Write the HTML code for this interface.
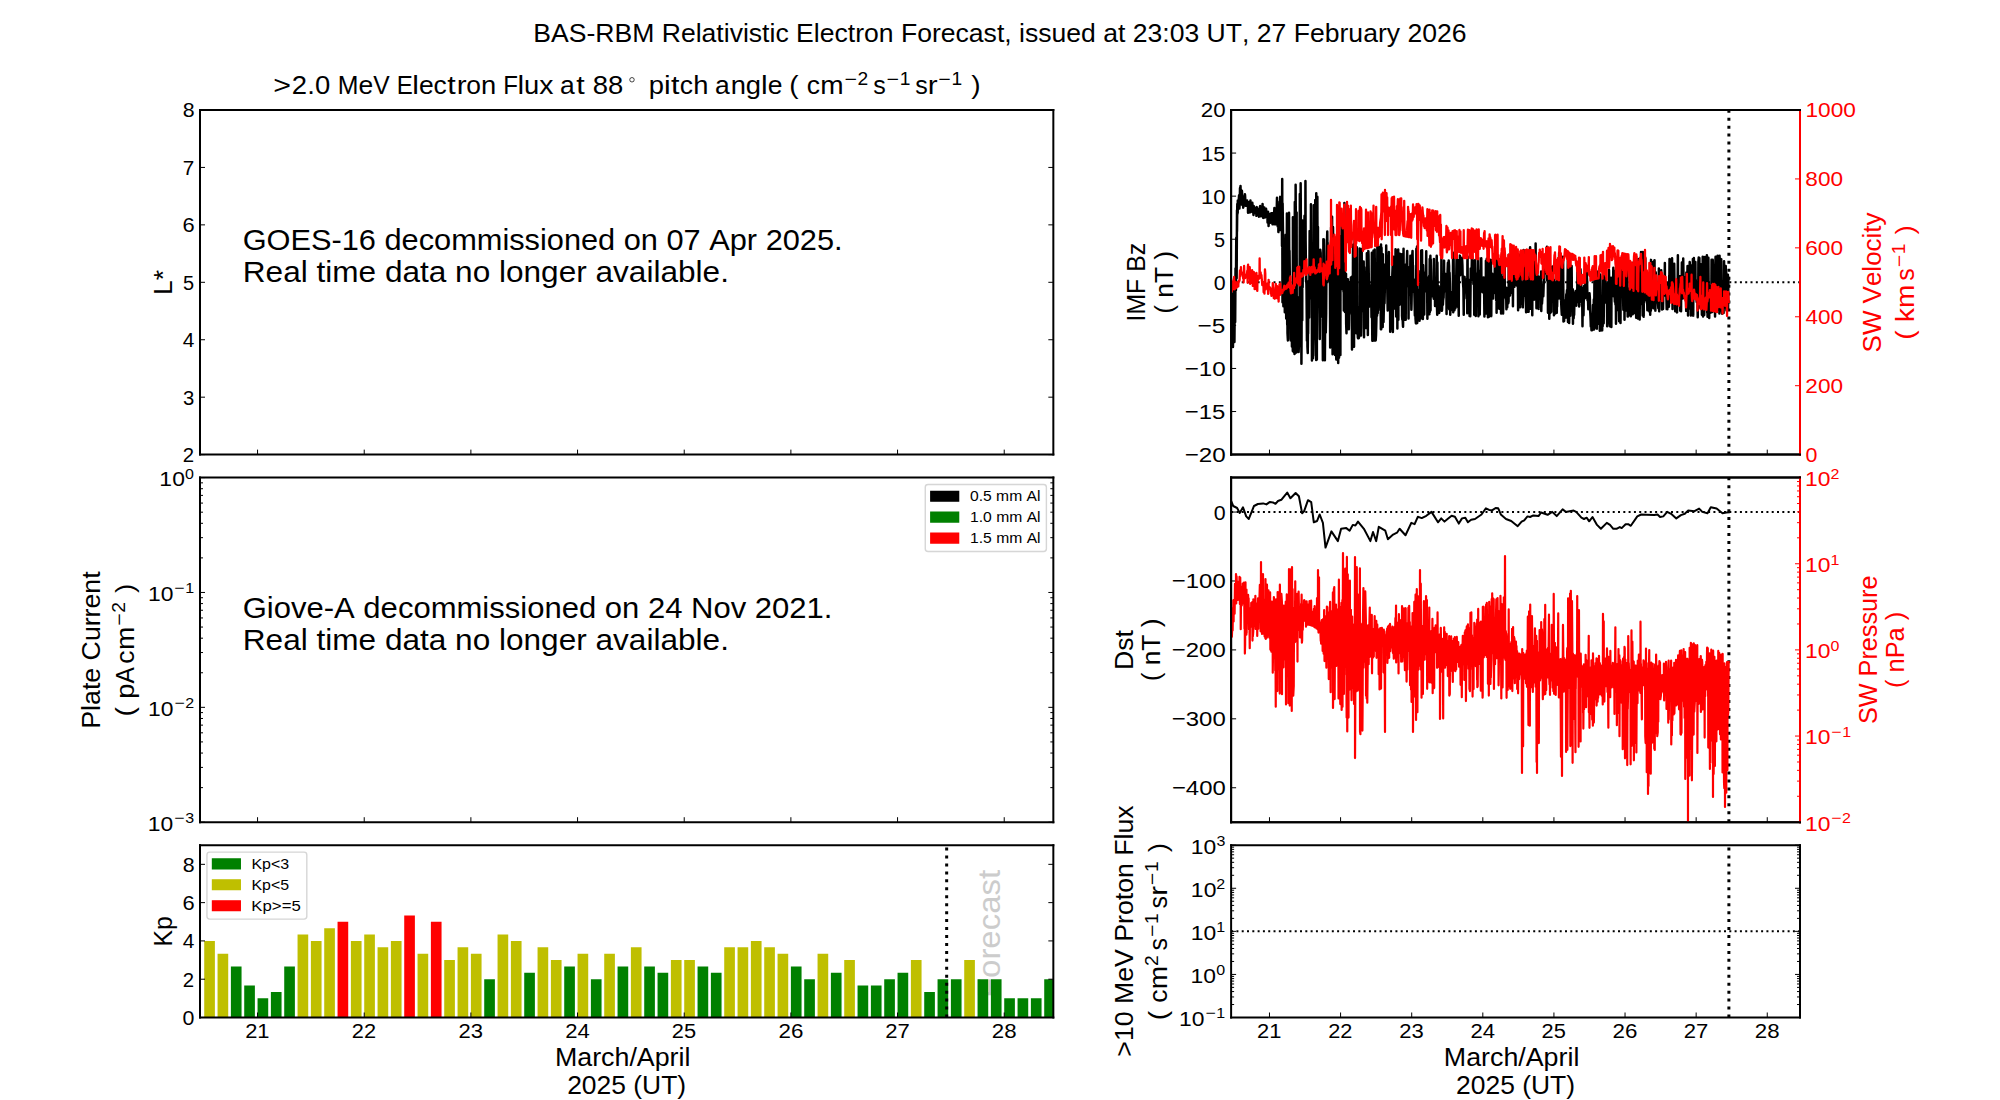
<!DOCTYPE html>
<html><head><meta charset="utf-8"><title>BAS-RBM Relativistic Electron Forecast</title>
<style>html,body{margin:0;padding:0;background:#fff;overflow:hidden}svg{display:block}
text{font-family:"Liberation Sans",sans-serif;font-kerning:none;font-variant-ligatures:none;letter-spacing:0;white-space:pre}</style>
</head><body>
<svg width="2000" height="1100" viewBox="0 0 1440 792" version="1.1">
<defs>
<style type="text/css">*{stroke-linejoin: round; stroke-linecap: butt}</style>
</defs>
<g id="figure_1">
<g id="patch_1">
<path d="M 0 792 L1440 792 L1440 0 L0 0 z" style="fill: #ffffff"/>
</g>
<g id="axes_1">
<g id="patch_2">
<path d="M 144 327.32 L758.4 327.32 L758.4 79.2 L144 79.2 z" style="fill: #ffffff"/>
</g>
<g id="matplotlib.axis_1">
<g id="xtick_1">
<g id="line2d_1">
<defs>
<path id="m9c9ca732cf" d="M 0 0 L0 -3.6 
" style="stroke: #000000; stroke-width: 0.72"/>
</defs>
<g>
<use href="#m9c9ca732cf" x="185.441" y="327.326" style="stroke: #000000; stroke-width: 0.72"/>
</g>
</g>
</g>
<g id="xtick_2">
<g id="line2d_2">
<g>
<use href="#m9c9ca732cf" x="262.241" y="327.326" style="stroke: #000000; stroke-width: 0.72"/>
</g>
</g>
</g>
<g id="xtick_3">
<g id="line2d_3">
<g>
<use href="#m9c9ca732cf" x="339.041" y="327.326" style="stroke: #000000; stroke-width: 0.72"/>
</g>
</g>
</g>
<g id="xtick_4">
<g id="line2d_4">
<g>
<use href="#m9c9ca732cf" x="415.841" y="327.326" style="stroke: #000000; stroke-width: 0.72"/>
</g>
</g>
</g>
<g id="xtick_5">
<g id="line2d_5">
<g>
<use href="#m9c9ca732cf" x="492.641" y="327.326" style="stroke: #000000; stroke-width: 0.72"/>
</g>
</g>
</g>
<g id="xtick_6">
<g id="line2d_6">
<g>
<use href="#m9c9ca732cf" x="569.441" y="327.326" style="stroke: #000000; stroke-width: 0.72"/>
</g>
</g>
</g>
<g id="xtick_7">
<g id="line2d_7">
<g>
<use href="#m9c9ca732cf" x="646.241" y="327.326" style="stroke: #000000; stroke-width: 0.72"/>
</g>
</g>
</g>
<g id="xtick_8">
<g id="line2d_8">
<g>
<use href="#m9c9ca732cf" x="723.041" y="327.326" style="stroke: #000000; stroke-width: 0.72"/>
</g>
</g>
</g>
</g>
<g id="matplotlib.axis_2">
<g id="ytick_1">
<g id="line2d_9">
<defs>
<path id="mde43f6efa1" d="M 0 0 L3.6 0 
" style="stroke: #000000; stroke-width: 0.72"/>
</defs>
<g>
<use href="#mde43f6efa1" x="144" y="327.326" style="stroke: #000000; stroke-width: 0.72"/>
</g>
</g>
<g id="line2d_10">
<defs>
<path id="m3049f5aebb" d="M 0 0 L-3.6 0 
" style="stroke: #000000; stroke-width: 0.72"/>
</defs>
<g>
<use href="#m3049f5aebb" x="758.4" y="327.326" style="stroke: #000000; stroke-width: 0.72"/>
</g>
</g>
<g id="text_1">
<text x="131.536" y="332.726" style="font-size: 15.192px" textLength="8.160" lengthAdjust="spacingAndGlyphs">2</text>
</g>
</g>
<g id="ytick_2">
<g id="line2d_11">
<g>
<use href="#mde43f6efa1" x="144" y="285.972" style="stroke: #000000; stroke-width: 0.72"/>
</g>
</g>
<g id="line2d_12">
<g>
<use href="#m3049f5aebb" x="758.4" y="285.972" style="stroke: #000000; stroke-width: 0.72"/>
</g>
</g>
<g id="text_2">
<text x="131.760" y="291.372" style="font-size: 15.192px" textLength="8.129" lengthAdjust="spacingAndGlyphs">3</text>
</g>
</g>
<g id="ytick_3">
<g id="line2d_13">
<g>
<use href="#mde43f6efa1" x="144" y="244.617" style="stroke: #000000; stroke-width: 0.72"/>
</g>
</g>
<g id="line2d_14">
<g>
<use href="#m3049f5aebb" x="758.4" y="244.617" style="stroke: #000000; stroke-width: 0.72"/>
</g>
</g>
<g id="text_3">
<text x="131.667" y="250.017" style="font-size: 15.192px" textLength="8.364" lengthAdjust="spacingAndGlyphs">4</text>
</g>
</g>
<g id="ytick_4">
<g id="line2d_15">
<g>
<use href="#mde43f6efa1" x="144" y="203.263" style="stroke: #000000; stroke-width: 0.72"/>
</g>
</g>
<g id="line2d_16">
<g>
<use href="#m3049f5aebb" x="758.4" y="203.263" style="stroke: #000000; stroke-width: 0.72"/>
</g>
</g>
<g id="text_4">
<text x="131.755" y="208.663" style="font-size: 15.192px" textLength="7.989" lengthAdjust="spacingAndGlyphs">5</text>
</g>
</g>
<g id="ytick_5">
<g id="line2d_17">
<g>
<use href="#mde43f6efa1" x="144" y="161.908" style="stroke: #000000; stroke-width: 0.72"/>
</g>
</g>
<g id="line2d_18">
<g>
<use href="#m3049f5aebb" x="758.4" y="161.908" style="stroke: #000000; stroke-width: 0.72"/>
</g>
</g>
<g id="text_5">
<text x="131.425" y="167.308" style="font-size: 15.192px" textLength="8.759" lengthAdjust="spacingAndGlyphs">6</text>
</g>
</g>
<g id="ytick_6">
<g id="line2d_19">
<g>
<use href="#mde43f6efa1" x="144" y="120.554" style="stroke: #000000; stroke-width: 0.72"/>
</g>
</g>
<g id="line2d_20">
<g>
<use href="#m3049f5aebb" x="758.4" y="120.554" style="stroke: #000000; stroke-width: 0.72"/>
</g>
</g>
<g id="text_6">
<text x="131.637" y="125.954" style="font-size: 15.192px" textLength="8.280" lengthAdjust="spacingAndGlyphs">7</text>
</g>
</g>
<g id="ytick_7">
<g id="line2d_21">
<g>
<use href="#mde43f6efa1" x="144" y="79.2" style="stroke: #000000; stroke-width: 0.72"/>
</g>
</g>
<g id="line2d_22">
<g>
<use href="#m3049f5aebb" x="758.4" y="79.2" style="stroke: #000000; stroke-width: 0.72"/>
</g>
</g>
<g id="text_7">
<text x="131.528" y="84.6" style="font-size: 15.192px" textLength="8.555" lengthAdjust="spacingAndGlyphs">8</text>
</g>
</g>
<g id="text_8">
<text x="114.573" y="203.263" style="font-size: 18.230px" textLength="18.010" lengthAdjust="spacingAndGlyphs" transform="rotate(-90 123.62 203.263291)">L*</text>
</g>
</g>
<g id="patch_3">
<path d="M 144 327.32 L144 79.2 
" style="fill: none; stroke: #000000; stroke-width: 1.44; stroke-linejoin: miter; stroke-linecap: square"/>
</g>
<g id="patch_4">
<path d="M 758.4 327.32 L758.4 79.2 
" style="fill: none; stroke: #000000; stroke-width: 1.44; stroke-linejoin: miter; stroke-linecap: square"/>
</g>
<g id="patch_5">
<path d="M 144 327.32 L758.4 327.32 
" style="fill: none; stroke: #000000; stroke-width: 1.44; stroke-linejoin: miter; stroke-linecap: square"/>
</g>
<g id="patch_6">
<path d="M 144 79.2 L758.4 79.2 
" style="fill: none; stroke: #000000; stroke-width: 1.44; stroke-linejoin: miter; stroke-linecap: square"/>
</g>
<g id="text_9">
<text x="0.009" y="0" style="font-size: 21.100px" textLength="431.944" lengthAdjust="spacingAndGlyphs" transform="translate(174.72 179.935291)">GOES-16 decommissioned on 07 Apr 2025.</text>
<text x="0.098" y="0" style="font-size: 21.100px" textLength="350.009" lengthAdjust="spacingAndGlyphs" transform="translate(174.72 203.263291)">Real time data no longer available.</text>
</g>
<g id="text_10">
<g transform="translate(195.853941 68.4)">
<text x="0.846" y="-0.654" style="font-size:18.230px" textLength="12.776" lengthAdjust="spacingAndGlyphs">&gt;</text>
<text x="14.221" y="-0.654" style="font-size:18.230px" textLength="10.994" lengthAdjust="spacingAndGlyphs">2</text>
<text x="25.420" y="-0.654" style="font-size:18.230px" textLength="5.493" lengthAdjust="spacingAndGlyphs">.</text>
<text x="30.907" y="-0.654" style="font-size:18.230px" textLength="10.994" lengthAdjust="spacingAndGlyphs">0</text>
<text x="47.374" y="-0.654" style="font-size:18.230px" textLength="14.909" lengthAdjust="spacingAndGlyphs">M</text>
<text x="62.288" y="-0.654" style="font-size:18.230px" textLength="10.631" lengthAdjust="spacingAndGlyphs">e</text>
<text x="72.861" y="-0.654" style="font-size:18.230px" textLength="11.821" lengthAdjust="spacingAndGlyphs">V</text>
<text x="89.790" y="-0.654" style="font-size:18.230px" textLength="11.552" lengthAdjust="spacingAndGlyphs">E</text>
<text x="101.047" y="-0.654" style="font-size:18.230px" textLength="4.801" lengthAdjust="spacingAndGlyphs">l</text>
<text x="105.877" y="-0.654" style="font-size:18.230px" textLength="10.631" lengthAdjust="spacingAndGlyphs">e</text>
<text x="116.242" y="-0.654" style="font-size:18.230px" textLength="9.501" lengthAdjust="spacingAndGlyphs">c</text>
<text x="126.226" y="-0.654" style="font-size:18.230px" textLength="6.078" lengthAdjust="spacingAndGlyphs">t</text>
<text x="132.955" y="-0.654" style="font-size:18.230px" textLength="7.104" lengthAdjust="spacingAndGlyphs">r</text>
<text x="139.798" y="-0.654" style="font-size:18.230px" textLength="10.572" lengthAdjust="spacingAndGlyphs">o</text>
<text x="150.384" y="-0.654" style="font-size:18.230px" textLength="10.952" lengthAdjust="spacingAndGlyphs">n</text>
<text x="166.426" y="-0.654" style="font-size:18.230px" textLength="10.579" lengthAdjust="spacingAndGlyphs">F</text>
<text x="176.685" y="-0.654" style="font-size:18.230px" textLength="4.801" lengthAdjust="spacingAndGlyphs">l</text>
<text x="181.442" y="-0.654" style="font-size:18.230px" textLength="10.952" lengthAdjust="spacingAndGlyphs">u</text>
<text x="192.372" y="-0.654" style="font-size:18.230px" textLength="10.226" lengthAdjust="spacingAndGlyphs">x</text>
<text x="207.433" y="-0.654" style="font-size:18.230px" textLength="10.589" lengthAdjust="spacingAndGlyphs">a</text>
<text x="218.962" y="-0.654" style="font-size:18.230px" textLength="6.078" lengthAdjust="spacingAndGlyphs">t</text>
<text x="230.916" y="-0.654" style="font-size:18.230px" textLength="10.994" lengthAdjust="spacingAndGlyphs">8</text>
<text x="241.891" y="-0.654" style="font-size:18.230px" textLength="10.994" lengthAdjust="spacingAndGlyphs">8</text>
<circle cx="259.171" cy="-10.969" r="1.610162" style="fill:none;stroke:#000000;stroke-width:0.524"/>
<text x="271.336" y="-0.654" style="font-size:18.230px" textLength="10.969" lengthAdjust="spacingAndGlyphs">p</text>
<text x="282.204" y="-0.654" style="font-size:18.230px" textLength="4.801" lengthAdjust="spacingAndGlyphs">i</text>
<text x="287.276" y="-0.654" style="font-size:18.230px" textLength="6.078" lengthAdjust="spacingAndGlyphs">t</text>
<text x="293.539" y="-0.654" style="font-size:18.230px" textLength="9.501" lengthAdjust="spacingAndGlyphs">c</text>
<text x="303.242" y="-0.654" style="font-size:18.230px" textLength="10.952" lengthAdjust="spacingAndGlyphs">h</text>
<text x="318.981" y="-0.654" style="font-size:18.230px" textLength="10.589" lengthAdjust="spacingAndGlyphs">a</text>
<text x="330.258" y="-0.654" style="font-size:18.230px" textLength="10.952" lengthAdjust="spacingAndGlyphs">n</text>
<text x="341.068" y="-0.654" style="font-size:18.230px" textLength="10.969" lengthAdjust="spacingAndGlyphs">g</text>
<text x="352.103" y="-0.654" style="font-size:18.230px" textLength="4.801" lengthAdjust="spacingAndGlyphs">l</text>
<text x="356.932" y="-0.654" style="font-size:18.230px" textLength="10.631" lengthAdjust="spacingAndGlyphs">e</text>
<text x="372.475" y="-0.654" style="font-size:18.230px" textLength="6.742" lengthAdjust="spacingAndGlyphs">(</text>
<text x="384.994" y="-0.654" style="font-size:18.230px" textLength="9.501" lengthAdjust="spacingAndGlyphs">c</text>
<text x="394.736" y="-0.654" style="font-size:18.230px" textLength="16.833" lengthAdjust="spacingAndGlyphs">m</text>
<text x="412.249" y="-7.162" style="font-size:12.761px" textLength="8.943" lengthAdjust="spacingAndGlyphs">−</text>
<text x="421.612" y="-7.162" style="font-size:12.761px" textLength="7.696" lengthAdjust="spacingAndGlyphs">2</text>
<text x="432.843" y="-0.654" style="font-size:18.230px" textLength="9.003" lengthAdjust="spacingAndGlyphs">s</text>
<text x="442.464" y="-7.162" style="font-size:12.761px" textLength="8.943" lengthAdjust="spacingAndGlyphs">−</text>
<text x="451.906" y="-7.162" style="font-size:12.761px" textLength="7.696" lengthAdjust="spacingAndGlyphs">1</text>
<text x="463.058" y="-0.654" style="font-size:18.230px" textLength="9.003" lengthAdjust="spacingAndGlyphs">s</text>
<text x="472.178" y="-0.654" style="font-size:18.230px" textLength="7.104" lengthAdjust="spacingAndGlyphs">r</text>
<text x="479.772" y="-7.162" style="font-size:12.761px" textLength="8.943" lengthAdjust="spacingAndGlyphs">−</text>
<text x="489.214" y="-7.162" style="font-size:12.761px" textLength="7.696" lengthAdjust="spacingAndGlyphs">1</text>
<text x="503.445" y="-0.654" style="font-size:18.230px" textLength="6.742" lengthAdjust="spacingAndGlyphs">)</text>
</g>
</g>
</g>
<g id="axes_2">
<g id="patch_7">
<path d="M 144 591.99 L758.4 591.99 L758.4 343.86 L144 343.86 z" style="fill: #ffffff"/>
</g>
<g id="matplotlib.axis_3">
<g id="xtick_9">
<g id="line2d_23">
<g>
<use href="#m9c9ca732cf" x="185.441" y="591.994" style="stroke: #000000; stroke-width: 0.72"/>
</g>
</g>
</g>
<g id="xtick_10">
<g id="line2d_24">
<g>
<use href="#m9c9ca732cf" x="262.241" y="591.994" style="stroke: #000000; stroke-width: 0.72"/>
</g>
</g>
</g>
<g id="xtick_11">
<g id="line2d_25">
<g>
<use href="#m9c9ca732cf" x="339.041" y="591.994" style="stroke: #000000; stroke-width: 0.72"/>
</g>
</g>
</g>
<g id="xtick_12">
<g id="line2d_26">
<g>
<use href="#m9c9ca732cf" x="415.841" y="591.994" style="stroke: #000000; stroke-width: 0.72"/>
</g>
</g>
</g>
<g id="xtick_13">
<g id="line2d_27">
<g>
<use href="#m9c9ca732cf" x="492.641" y="591.994" style="stroke: #000000; stroke-width: 0.72"/>
</g>
</g>
</g>
<g id="xtick_14">
<g id="line2d_28">
<g>
<use href="#m9c9ca732cf" x="569.441" y="591.994" style="stroke: #000000; stroke-width: 0.72"/>
</g>
</g>
</g>
<g id="xtick_15">
<g id="line2d_29">
<g>
<use href="#m9c9ca732cf" x="646.241" y="591.994" style="stroke: #000000; stroke-width: 0.72"/>
</g>
</g>
</g>
<g id="xtick_16">
<g id="line2d_30">
<g>
<use href="#m9c9ca732cf" x="723.041" y="591.994" style="stroke: #000000; stroke-width: 0.72"/>
</g>
</g>
</g>
</g>
<g id="matplotlib.axis_4">
<g id="ytick_8">
<g id="line2d_31">
<g>
<use href="#mde43f6efa1" x="144" y="591.994" style="stroke: #000000; stroke-width: 0.72"/>
</g>
</g>
<g id="line2d_32">
<g>
<use href="#m3049f5aebb" x="758.4" y="591.994" style="stroke: #000000; stroke-width: 0.72"/>
</g>
</g>
<g id="text_11">
<g transform="translate(106.505775 598.438937)">
<text x="-0.098" y="-0.367" style="font-size:15.192px" textLength="9.162" lengthAdjust="spacingAndGlyphs">1</text>
<text x="9.142" y="-0.367" style="font-size:15.192px" textLength="9.162" lengthAdjust="spacingAndGlyphs">0</text>
<text x="18.919" y="-5.726" style="font-size:10.634px" textLength="7.452" lengthAdjust="spacingAndGlyphs">−</text>
<text x="26.870" y="-5.726" style="font-size:10.634px" textLength="6.413" lengthAdjust="spacingAndGlyphs">3</text>
</g>
</g>
</g>
<g id="ytick_9">
<g id="line2d_33">
<g>
<use href="#mde43f6efa1" x="144" y="509.286" style="stroke: #000000; stroke-width: 0.72"/>
</g>
</g>
<g id="line2d_34">
<g>
<use href="#m3049f5aebb" x="758.4" y="509.286" style="stroke: #000000; stroke-width: 0.72"/>
</g>
</g>
<g id="text_12">
<g transform="translate(106.652025 515.730076)">
<text x="-0.098" y="-0.367" style="font-size:15.192px" textLength="9.162" lengthAdjust="spacingAndGlyphs">1</text>
<text x="9.142" y="-0.367" style="font-size:15.192px" textLength="9.162" lengthAdjust="spacingAndGlyphs">0</text>
<text x="18.919" y="-5.726" style="font-size:10.634px" textLength="7.452" lengthAdjust="spacingAndGlyphs">−</text>
<text x="26.721" y="-5.726" style="font-size:10.634px" textLength="6.413" lengthAdjust="spacingAndGlyphs">2</text>
</g>
</g>
</g>
<g id="ytick_10">
<g id="line2d_35">
<g>
<use href="#mde43f6efa1" x="144" y="426.577" style="stroke: #000000; stroke-width: 0.72"/>
</g>
</g>
<g id="line2d_36">
<g>
<use href="#m3049f5aebb" x="758.4" y="426.577" style="stroke: #000000; stroke-width: 0.72"/>
</g>
</g>
<g id="text_13">
<g transform="translate(106.562025 433.021215)">
<text x="-0.098" y="-0.498" style="font-size:15.192px" textLength="9.162" lengthAdjust="spacingAndGlyphs">1</text>
<text x="9.142" y="-0.498" style="font-size:15.192px" textLength="9.162" lengthAdjust="spacingAndGlyphs">0</text>
<text x="18.919" y="-5.857" style="font-size:10.634px" textLength="7.452" lengthAdjust="spacingAndGlyphs">−</text>
<text x="26.787" y="-5.857" style="font-size:10.634px" textLength="6.413" lengthAdjust="spacingAndGlyphs">1</text>
</g>
</g>
</g>
<g id="ytick_11">
<g id="line2d_37">
<g>
<use href="#mde43f6efa1" x="144" y="343.868" style="stroke: #000000; stroke-width: 0.72"/>
</g>
</g>
<g id="line2d_38">
<g>
<use href="#m3049f5aebb" x="758.4" y="343.868" style="stroke: #000000; stroke-width: 0.72"/>
</g>
</g>
<g id="text_14">
<g transform="translate(114.827963 350.312354)">
<text x="-0.098" y="-0.367" style="font-size:15.192px" textLength="9.162" lengthAdjust="spacingAndGlyphs">1</text>
<text x="9.142" y="-0.367" style="font-size:15.192px" textLength="9.162" lengthAdjust="spacingAndGlyphs">0</text>
<text x="18.423" y="-5.726" style="font-size:10.634px" textLength="6.413" lengthAdjust="spacingAndGlyphs">0</text>
</g>
</g>
</g>
<g id="ytick_12">
<g id="line2d_39">
<defs>
<path id="m429402f32f" d="M 0 0 L2.16 0 
" style="stroke: #000000; stroke-width: 0.72"/>
</defs>
<g>
<use href="#m429402f32f" x="144" y="567.097" style="stroke: #000000; stroke-width: 0.72"/>
</g>
</g>
<g id="line2d_40">
<defs>
<path id="md379d79c6c" d="M 0 0 L-2.16 0 
" style="stroke: #000000; stroke-width: 0.72"/>
</defs>
<g>
<use href="#md379d79c6c" x="758.4" y="567.097" style="stroke: #000000; stroke-width: 0.72"/>
</g>
</g>
</g>
<g id="ytick_13">
<g id="line2d_41">
<g>
<use href="#m429402f32f" x="144" y="552.532" style="stroke: #000000; stroke-width: 0.72"/>
</g>
</g>
<g id="line2d_42">
<g>
<use href="#md379d79c6c" x="758.4" y="552.532" style="stroke: #000000; stroke-width: 0.72"/>
</g>
</g>
</g>
<g id="ytick_14">
<g id="line2d_43">
<g>
<use href="#m429402f32f" x="144" y="542.199" style="stroke: #000000; stroke-width: 0.72"/>
</g>
</g>
<g id="line2d_44">
<g>
<use href="#md379d79c6c" x="758.4" y="542.199" style="stroke: #000000; stroke-width: 0.72"/>
</g>
</g>
</g>
<g id="ytick_15">
<g id="line2d_45">
<g>
<use href="#m429402f32f" x="144" y="534.183" style="stroke: #000000; stroke-width: 0.72"/>
</g>
</g>
<g id="line2d_46">
<g>
<use href="#md379d79c6c" x="758.4" y="534.183" style="stroke: #000000; stroke-width: 0.72"/>
</g>
</g>
</g>
<g id="ytick_16">
<g id="line2d_47">
<g>
<use href="#m429402f32f" x="144" y="527.634" style="stroke: #000000; stroke-width: 0.72"/>
</g>
</g>
<g id="line2d_48">
<g>
<use href="#md379d79c6c" x="758.4" y="527.634" style="stroke: #000000; stroke-width: 0.72"/>
</g>
</g>
</g>
<g id="ytick_17">
<g id="line2d_49">
<g>
<use href="#m429402f32f" x="144" y="522.097" style="stroke: #000000; stroke-width: 0.72"/>
</g>
</g>
<g id="line2d_50">
<g>
<use href="#md379d79c6c" x="758.4" y="522.097" style="stroke: #000000; stroke-width: 0.72"/>
</g>
</g>
</g>
<g id="ytick_18">
<g id="line2d_51">
<g>
<use href="#m429402f32f" x="144" y="517.301" style="stroke: #000000; stroke-width: 0.72"/>
</g>
</g>
<g id="line2d_52">
<g>
<use href="#md379d79c6c" x="758.4" y="517.301" style="stroke: #000000; stroke-width: 0.72"/>
</g>
</g>
</g>
<g id="ytick_19">
<g id="line2d_53">
<g>
<use href="#m429402f32f" x="144" y="513.070" style="stroke: #000000; stroke-width: 0.72"/>
</g>
</g>
<g id="line2d_54">
<g>
<use href="#md379d79c6c" x="758.4" y="513.070" style="stroke: #000000; stroke-width: 0.72"/>
</g>
</g>
</g>
<g id="ytick_20">
<g id="line2d_55">
<g>
<use href="#m429402f32f" x="144" y="484.388" style="stroke: #000000; stroke-width: 0.72"/>
</g>
</g>
<g id="line2d_56">
<g>
<use href="#md379d79c6c" x="758.4" y="484.388" style="stroke: #000000; stroke-width: 0.72"/>
</g>
</g>
</g>
<g id="ytick_21">
<g id="line2d_57">
<g>
<use href="#m429402f32f" x="144" y="469.823" style="stroke: #000000; stroke-width: 0.72"/>
</g>
</g>
<g id="line2d_58">
<g>
<use href="#md379d79c6c" x="758.4" y="469.823" style="stroke: #000000; stroke-width: 0.72"/>
</g>
</g>
</g>
<g id="ytick_22">
<g id="line2d_59">
<g>
<use href="#m429402f32f" x="144" y="459.490" style="stroke: #000000; stroke-width: 0.72"/>
</g>
</g>
<g id="line2d_60">
<g>
<use href="#md379d79c6c" x="758.4" y="459.490" style="stroke: #000000; stroke-width: 0.72"/>
</g>
</g>
</g>
<g id="ytick_23">
<g id="line2d_61">
<g>
<use href="#m429402f32f" x="144" y="451.475" style="stroke: #000000; stroke-width: 0.72"/>
</g>
</g>
<g id="line2d_62">
<g>
<use href="#md379d79c6c" x="758.4" y="451.475" style="stroke: #000000; stroke-width: 0.72"/>
</g>
</g>
</g>
<g id="ytick_24">
<g id="line2d_63">
<g>
<use href="#m429402f32f" x="144" y="444.926" style="stroke: #000000; stroke-width: 0.72"/>
</g>
</g>
<g id="line2d_64">
<g>
<use href="#md379d79c6c" x="758.4" y="444.926" style="stroke: #000000; stroke-width: 0.72"/>
</g>
</g>
</g>
<g id="ytick_25">
<g id="line2d_65">
<g>
<use href="#m429402f32f" x="144" y="439.388" style="stroke: #000000; stroke-width: 0.72"/>
</g>
</g>
<g id="line2d_66">
<g>
<use href="#md379d79c6c" x="758.4" y="439.388" style="stroke: #000000; stroke-width: 0.72"/>
</g>
</g>
</g>
<g id="ytick_26">
<g id="line2d_67">
<g>
<use href="#m429402f32f" x="144" y="434.592" style="stroke: #000000; stroke-width: 0.72"/>
</g>
</g>
<g id="line2d_68">
<g>
<use href="#md379d79c6c" x="758.4" y="434.592" style="stroke: #000000; stroke-width: 0.72"/>
</g>
</g>
</g>
<g id="ytick_27">
<g id="line2d_69">
<g>
<use href="#m429402f32f" x="144" y="430.361" style="stroke: #000000; stroke-width: 0.72"/>
</g>
</g>
<g id="line2d_70">
<g>
<use href="#md379d79c6c" x="758.4" y="430.361" style="stroke: #000000; stroke-width: 0.72"/>
</g>
</g>
</g>
<g id="ytick_28">
<g id="line2d_71">
<g>
<use href="#m429402f32f" x="144" y="401.679" style="stroke: #000000; stroke-width: 0.72"/>
</g>
</g>
<g id="line2d_72">
<g>
<use href="#md379d79c6c" x="758.4" y="401.679" style="stroke: #000000; stroke-width: 0.72"/>
</g>
</g>
</g>
<g id="ytick_29">
<g id="line2d_73">
<g>
<use href="#m429402f32f" x="144" y="387.115" style="stroke: #000000; stroke-width: 0.72"/>
</g>
</g>
<g id="line2d_74">
<g>
<use href="#md379d79c6c" x="758.4" y="387.115" style="stroke: #000000; stroke-width: 0.72"/>
</g>
</g>
</g>
<g id="ytick_30">
<g id="line2d_75">
<g>
<use href="#m429402f32f" x="144" y="376.781" style="stroke: #000000; stroke-width: 0.72"/>
</g>
</g>
<g id="line2d_76">
<g>
<use href="#md379d79c6c" x="758.4" y="376.781" style="stroke: #000000; stroke-width: 0.72"/>
</g>
</g>
</g>
<g id="ytick_31">
<g id="line2d_77">
<g>
<use href="#m429402f32f" x="144" y="368.766" style="stroke: #000000; stroke-width: 0.72"/>
</g>
</g>
<g id="line2d_78">
<g>
<use href="#md379d79c6c" x="758.4" y="368.766" style="stroke: #000000; stroke-width: 0.72"/>
</g>
</g>
</g>
<g id="ytick_32">
<g id="line2d_79">
<g>
<use href="#m429402f32f" x="144" y="362.217" style="stroke: #000000; stroke-width: 0.72"/>
</g>
</g>
<g id="line2d_80">
<g>
<use href="#md379d79c6c" x="758.4" y="362.217" style="stroke: #000000; stroke-width: 0.72"/>
</g>
</g>
</g>
<g id="ytick_33">
<g id="line2d_81">
<g>
<use href="#m429402f32f" x="144" y="356.680" style="stroke: #000000; stroke-width: 0.72"/>
</g>
</g>
<g id="line2d_82">
<g>
<use href="#md379d79c6c" x="758.4" y="356.680" style="stroke: #000000; stroke-width: 0.72"/>
</g>
</g>
</g>
<g id="ytick_34">
<g id="line2d_83">
<g>
<use href="#m429402f32f" x="144" y="351.883" style="stroke: #000000; stroke-width: 0.72"/>
</g>
</g>
<g id="line2d_84">
<g>
<use href="#md379d79c6c" x="758.4" y="351.883" style="stroke: #000000; stroke-width: 0.72"/>
</g>
</g>
</g>
<g id="ytick_35">
<g id="line2d_85">
<g>
<use href="#m429402f32f" x="144" y="347.652" style="stroke: #000000; stroke-width: 0.72"/>
</g>
</g>
<g id="line2d_86">
<g>
<use href="#md379d79c6c" x="758.4" y="347.652" style="stroke: #000000; stroke-width: 0.72"/>
</g>
</g>
</g>
<g id="text_15">
<text x="0.118" y="0" style="font-size: 18.230px" textLength="113.279" lengthAdjust="spacingAndGlyphs" transform="translate(72.150575 524.766646) rotate(-90)">Plate Current</text>
<g transform="translate(97.177775 515.356499) rotate(-90)">
<text x="-0.517" y="-0.654" style="font-size:18.230px" textLength="6.742" lengthAdjust="spacingAndGlyphs">(</text>
<text x="12.303" y="-0.654" style="font-size:18.230px" textLength="10.969" lengthAdjust="spacingAndGlyphs">p</text>
<text x="23.158" y="-0.654" style="font-size:18.230px" textLength="11.821" lengthAdjust="spacingAndGlyphs">A</text>
<text x="37.551" y="-0.654" style="font-size:18.230px" textLength="9.501" lengthAdjust="spacingAndGlyphs">c</text>
<text x="47.293" y="-0.654" style="font-size:18.230px" textLength="16.833" lengthAdjust="spacingAndGlyphs">m</text>
<text x="64.806" y="-7.162" style="font-size:12.761px" textLength="8.943" lengthAdjust="spacingAndGlyphs">−</text>
<text x="74.169" y="-7.162" style="font-size:12.761px" textLength="7.696" lengthAdjust="spacingAndGlyphs">2</text>
<text x="88.480" y="-0.654" style="font-size:18.230px" textLength="6.742" lengthAdjust="spacingAndGlyphs">)</text>
</g>
</g>
</g>
<g id="patch_8">
<path d="M 144 591.99 L144 343.86 
" style="fill: none; stroke: #000000; stroke-width: 1.44; stroke-linejoin: miter; stroke-linecap: square"/>
</g>
<g id="patch_9">
<path d="M 758.4 591.99 L758.4 343.86 
" style="fill: none; stroke: #000000; stroke-width: 1.44; stroke-linejoin: miter; stroke-linecap: square"/>
</g>
<g id="patch_10">
<path d="M 144 591.99 L758.4 591.99 
" style="fill: none; stroke: #000000; stroke-width: 1.44; stroke-linejoin: miter; stroke-linecap: square"/>
</g>
<g id="patch_11">
<path d="M 144 343.86 L758.4 343.86 
" style="fill: none; stroke: #000000; stroke-width: 1.44; stroke-linejoin: miter; stroke-linecap: square"/>
</g>
<g id="text_16">
<text x="-0.000" y="0" style="font-size: 21.100px" textLength="424.682" lengthAdjust="spacingAndGlyphs" transform="translate(174.72 444.603646)">Giove-A decommissioned on 24 Nov 2021.</text>
<text x="0.098" y="0" style="font-size: 21.100px" textLength="350.009" lengthAdjust="spacingAndGlyphs" transform="translate(174.72 467.931646)">Real time data no longer available.</text>
</g>
<g id="legend_1">
<g id="patch_12">
<path d="M 668.19 397.10 L751.4 397.10 
Q 753.4 397.10 753.4 395.10 L753.4 350.86 
Q 753.4 348.86 751.4 348.86 L668.19 348.86 
Q 666.19 348.86 666.19 350.86 L666.19 395.10 
Q 666.19 397.10 668.19 397.10 z" style="fill: #ffffff; opacity: 0.8; stroke: #cccccc; stroke-linejoin: miter"/>
</g>
<g id="patch_13">
<path d="M 670.19 360.78 L690.19 360.78 L690.19 353.78 L670.19 353.78 z" style="stroke: #000000; stroke-linejoin: miter"/>
</g>
<g id="text_17">
<text x="698.409" y="360.788" style="font-size: 10.550px" textLength="50.717" lengthAdjust="spacingAndGlyphs">0.5 mm Al</text>
</g>
<g id="patch_14">
<path d="M 670.19 375.86 L690.19 375.86 L690.19 368.86 L670.19 368.86 z" style="fill: #008000; stroke: #008000; stroke-linejoin: miter"/>
</g>
<g id="text_18">
<text x="698.429" y="375.868" style="font-size: 10.550px" textLength="50.788" lengthAdjust="spacingAndGlyphs">1.0 mm Al</text>
</g>
<g id="patch_15">
<path d="M 670.19 390.94 L690.19 390.94 L690.19 383.94 L670.19 383.94 z" style="fill: #ff0000; stroke: #ff0000; stroke-linejoin: miter"/>
</g>
<g id="text_19">
<text x="698.429" y="390.948" style="font-size: 10.550px" textLength="50.788" lengthAdjust="spacingAndGlyphs">1.5 mm Al</text>
</g>
</g>
</g>
<g id="axes_3">
<g id="patch_16">
<path d="M 144 732.6 L758.4 732.6 L758.4 608.53 L144 608.53 z" style="fill: #ffffff"/>
</g>
<g id="text_20">
<text x="0.212" y="0" style="font-size: 23.210px; fill: #cccccc" textLength="92.315" lengthAdjust="spacingAndGlyphs" transform="translate(720.2832 718.81519) rotate(-90)">Forecast</text>
</g>
<g id="patch_17">
<path d="M 147.04 732.6 L154.72 732.6 L154.72 677.46 L147.04 677.46 z" clip-path="url(#pe8a7f7f181)" style="fill: #bfbf00"/>
</g>
<g id="patch_18">
<path d="M 156.64 732.6 L164.32 732.6 L164.32 686.65 L156.64 686.65 z" clip-path="url(#pe8a7f7f181)" style="fill: #bfbf00"/>
</g>
<g id="patch_19">
<path d="M 166.24 732.6 L173.92 732.6 L173.92 695.84 L166.24 695.84 z" clip-path="url(#pe8a7f7f181)" style="fill: #008000"/>
</g>
<g id="patch_20">
<path d="M 175.84 732.6 L183.52 732.6 L183.52 709.62 L175.84 709.62 z" clip-path="url(#pe8a7f7f181)" style="fill: #008000"/>
</g>
<g id="patch_21">
<path d="M 185.44 732.6 L193.12 732.6 L193.12 718.81 L185.44 718.81 z" clip-path="url(#pe8a7f7f181)" style="fill: #008000"/>
</g>
<g id="patch_22">
<path d="M 195.04 732.6 L202.72 732.6 L202.72 714.22 L195.04 714.22 z" clip-path="url(#pe8a7f7f181)" style="fill: #008000"/>
</g>
<g id="patch_23">
<path d="M 204.64 732.6 L212.32 732.6 L212.32 695.84 L204.64 695.84 z" clip-path="url(#pe8a7f7f181)" style="fill: #008000"/>
</g>
<g id="patch_24">
<path d="M 214.24 732.6 L221.92 732.6 L221.92 672.86 L214.24 672.86 z" clip-path="url(#pe8a7f7f181)" style="fill: #bfbf00"/>
</g>
<g id="patch_25">
<path d="M 223.84 732.6 L231.52 732.6 L231.52 677.46 L223.84 677.46 z" clip-path="url(#pe8a7f7f181)" style="fill: #bfbf00"/>
</g>
<g id="patch_26">
<path d="M 233.44 732.6 L241.12 732.6 L241.12 668.27 L233.44 668.27 z" clip-path="url(#pe8a7f7f181)" style="fill: #bfbf00"/>
</g>
<g id="patch_27">
<path d="M 243.04 732.6 L250.72 732.6 L250.72 663.67 L243.04 663.67 z" clip-path="url(#pe8a7f7f181)" style="fill: #ff0000"/>
</g>
<g id="patch_28">
<path d="M 252.64 732.6 L260.32 732.6 L260.32 677.46 L252.64 677.46 z" clip-path="url(#pe8a7f7f181)" style="fill: #bfbf00"/>
</g>
<g id="patch_29">
<path d="M 262.24 732.6 L269.92 732.6 L269.92 672.86 L262.24 672.86 z" clip-path="url(#pe8a7f7f181)" style="fill: #bfbf00"/>
</g>
<g id="patch_30">
<path d="M 271.84 732.6 L279.52 732.6 L279.52 682.05 L271.84 682.05 z" clip-path="url(#pe8a7f7f181)" style="fill: #bfbf00"/>
</g>
<g id="patch_31">
<path d="M 281.44 732.6 L289.12 732.6 L289.12 677.46 L281.44 677.46 z" clip-path="url(#pe8a7f7f181)" style="fill: #bfbf00"/>
</g>
<g id="patch_32">
<path d="M 291.04 732.6 L298.72 732.6 L298.72 659.08 L291.04 659.08 z" clip-path="url(#pe8a7f7f181)" style="fill: #ff0000"/>
</g>
<g id="patch_33">
<path d="M 300.64 732.6 L308.32 732.6 L308.32 686.65 L300.64 686.65 z" clip-path="url(#pe8a7f7f181)" style="fill: #bfbf00"/>
</g>
<g id="patch_34">
<path d="M 310.24 732.6 L317.92 732.6 L317.92 663.67 L310.24 663.67 z" clip-path="url(#pe8a7f7f181)" style="fill: #ff0000"/>
</g>
<g id="patch_35">
<path d="M 319.84 732.6 L327.52 732.6 L327.52 691.24 L319.84 691.24 z" clip-path="url(#pe8a7f7f181)" style="fill: #bfbf00"/>
</g>
<g id="patch_36">
<path d="M 329.44 732.6 L337.12 732.6 L337.12 682.05 L329.44 682.05 z" clip-path="url(#pe8a7f7f181)" style="fill: #bfbf00"/>
</g>
<g id="patch_37">
<path d="M 339.04 732.6 L346.72 732.6 L346.72 686.65 L339.04 686.65 z" clip-path="url(#pe8a7f7f181)" style="fill: #bfbf00"/>
</g>
<g id="patch_38">
<path d="M 348.64 732.6 L356.32 732.6 L356.32 705.03 L348.64 705.03 z" clip-path="url(#pe8a7f7f181)" style="fill: #008000"/>
</g>
<g id="patch_39">
<path d="M 358.24 732.6 L365.92 732.6 L365.92 672.86 L358.24 672.86 z" clip-path="url(#pe8a7f7f181)" style="fill: #bfbf00"/>
</g>
<g id="patch_40">
<path d="M 367.84 732.6 L375.52 732.6 L375.52 677.46 L367.84 677.46 z" clip-path="url(#pe8a7f7f181)" style="fill: #bfbf00"/>
</g>
<g id="patch_41">
<path d="M 377.44 732.6 L385.12 732.6 L385.12 700.43 L377.44 700.43 z" clip-path="url(#pe8a7f7f181)" style="fill: #008000"/>
</g>
<g id="patch_42">
<path d="M 387.04 732.6 L394.72 732.6 L394.72 682.05 L387.04 682.05 z" clip-path="url(#pe8a7f7f181)" style="fill: #bfbf00"/>
</g>
<g id="patch_43">
<path d="M 396.64 732.6 L404.32 732.6 L404.32 691.24 L396.64 691.24 z" clip-path="url(#pe8a7f7f181)" style="fill: #bfbf00"/>
</g>
<g id="patch_44">
<path d="M 406.24 732.6 L413.92 732.6 L413.92 695.84 L406.24 695.84 z" clip-path="url(#pe8a7f7f181)" style="fill: #008000"/>
</g>
<g id="patch_45">
<path d="M 415.84 732.6 L423.52 732.6 L423.52 686.65 L415.84 686.65 z" clip-path="url(#pe8a7f7f181)" style="fill: #bfbf00"/>
</g>
<g id="patch_46">
<path d="M 425.44 732.6 L433.12 732.6 L433.12 705.03 L425.44 705.03 z" clip-path="url(#pe8a7f7f181)" style="fill: #008000"/>
</g>
<g id="patch_47">
<path d="M 435.04 732.6 L442.72 732.6 L442.72 686.65 L435.04 686.65 z" clip-path="url(#pe8a7f7f181)" style="fill: #bfbf00"/>
</g>
<g id="patch_48">
<path d="M 444.64 732.6 L452.32 732.6 L452.32 695.84 L444.64 695.84 z" clip-path="url(#pe8a7f7f181)" style="fill: #008000"/>
</g>
<g id="patch_49">
<path d="M 454.24 732.6 L461.92 732.6 L461.92 682.05 L454.24 682.05 z" clip-path="url(#pe8a7f7f181)" style="fill: #bfbf00"/>
</g>
<g id="patch_50">
<path d="M 463.84 732.6 L471.52 732.6 L471.52 695.84 L463.84 695.84 z" clip-path="url(#pe8a7f7f181)" style="fill: #008000"/>
</g>
<g id="patch_51">
<path d="M 473.44 732.6 L481.12 732.6 L481.12 700.43 L473.44 700.43 z" clip-path="url(#pe8a7f7f181)" style="fill: #008000"/>
</g>
<g id="patch_52">
<path d="M 483.04 732.6 L490.72 732.6 L490.72 691.24 L483.04 691.24 z" clip-path="url(#pe8a7f7f181)" style="fill: #bfbf00"/>
</g>
<g id="patch_53">
<path d="M 492.64 732.6 L500.32 732.6 L500.32 691.24 L492.64 691.24 z" clip-path="url(#pe8a7f7f181)" style="fill: #bfbf00"/>
</g>
<g id="patch_54">
<path d="M 502.24 732.6 L509.92 732.6 L509.92 695.84 L502.24 695.84 z" clip-path="url(#pe8a7f7f181)" style="fill: #008000"/>
</g>
<g id="patch_55">
<path d="M 511.84 732.6 L519.52 732.6 L519.52 700.43 L511.84 700.43 z" clip-path="url(#pe8a7f7f181)" style="fill: #008000"/>
</g>
<g id="patch_56">
<path d="M 521.44 732.6 L529.12 732.6 L529.12 682.05 L521.44 682.05 z" clip-path="url(#pe8a7f7f181)" style="fill: #bfbf00"/>
</g>
<g id="patch_57">
<path d="M 531.04 732.6 L538.72 732.6 L538.72 682.05 L531.04 682.05 z" clip-path="url(#pe8a7f7f181)" style="fill: #bfbf00"/>
</g>
<g id="patch_58">
<path d="M 540.64 732.6 L548.32 732.6 L548.32 677.46 L540.64 677.46 z" clip-path="url(#pe8a7f7f181)" style="fill: #bfbf00"/>
</g>
<g id="patch_59">
<path d="M 550.24 732.6 L557.92 732.6 L557.92 682.05 L550.24 682.05 z" clip-path="url(#pe8a7f7f181)" style="fill: #bfbf00"/>
</g>
<g id="patch_60">
<path d="M 559.84 732.6 L567.52 732.6 L567.52 686.65 L559.84 686.65 z" clip-path="url(#pe8a7f7f181)" style="fill: #bfbf00"/>
</g>
<g id="patch_61">
<path d="M 569.44 732.6 L577.12 732.6 L577.12 695.84 L569.44 695.84 z" clip-path="url(#pe8a7f7f181)" style="fill: #008000"/>
</g>
<g id="patch_62">
<path d="M 579.04 732.6 L586.72 732.6 L586.72 705.03 L579.04 705.03 z" clip-path="url(#pe8a7f7f181)" style="fill: #008000"/>
</g>
<g id="patch_63">
<path d="M 588.64 732.6 L596.32 732.6 L596.32 686.65 L588.64 686.65 z" clip-path="url(#pe8a7f7f181)" style="fill: #bfbf00"/>
</g>
<g id="patch_64">
<path d="M 598.24 732.6 L605.92 732.6 L605.92 700.43 L598.24 700.43 z" clip-path="url(#pe8a7f7f181)" style="fill: #008000"/>
</g>
<g id="patch_65">
<path d="M 607.84 732.6 L615.52 732.6 L615.52 691.24 L607.84 691.24 z" clip-path="url(#pe8a7f7f181)" style="fill: #bfbf00"/>
</g>
<g id="patch_66">
<path d="M 617.44 732.6 L625.12 732.6 L625.12 709.62 L617.44 709.62 z" clip-path="url(#pe8a7f7f181)" style="fill: #008000"/>
</g>
<g id="patch_67">
<path d="M 627.04 732.6 L634.72 732.6 L634.72 709.62 L627.04 709.62 z" clip-path="url(#pe8a7f7f181)" style="fill: #008000"/>
</g>
<g id="patch_68">
<path d="M 636.64 732.6 L644.32 732.6 L644.32 705.03 L636.64 705.03 z" clip-path="url(#pe8a7f7f181)" style="fill: #008000"/>
</g>
<g id="patch_69">
<path d="M 646.24 732.6 L653.92 732.6 L653.92 700.43 L646.24 700.43 z" clip-path="url(#pe8a7f7f181)" style="fill: #008000"/>
</g>
<g id="patch_70">
<path d="M 655.84 732.6 L663.52 732.6 L663.52 691.24 L655.84 691.24 z" clip-path="url(#pe8a7f7f181)" style="fill: #bfbf00"/>
</g>
<g id="patch_71">
<path d="M 665.44 732.6 L673.12 732.6 L673.12 714.22 L665.44 714.22 z" clip-path="url(#pe8a7f7f181)" style="fill: #008000"/>
</g>
<g id="patch_72">
<path d="M 675.04 732.6 L682.72 732.6 L682.72 705.03 L675.04 705.03 z" clip-path="url(#pe8a7f7f181)" style="fill: #008000"/>
</g>
<g id="patch_73">
<path d="M 684.64 732.6 L692.32 732.6 L692.32 705.03 L684.64 705.03 z" clip-path="url(#pe8a7f7f181)" style="fill: #008000"/>
</g>
<g id="patch_74">
<path d="M 694.24 732.6 L701.92 732.6 L701.92 691.24 L694.24 691.24 z" clip-path="url(#pe8a7f7f181)" style="fill: #bfbf00"/>
</g>
<g id="patch_75">
<path d="M 703.84 732.6 L711.52 732.6 L711.52 705.03 L703.84 705.03 z" clip-path="url(#pe8a7f7f181)" style="fill: #008000"/>
</g>
<g id="patch_76">
<path d="M 713.44 732.6 L721.12 732.6 L721.12 705.03 L713.44 705.03 z" clip-path="url(#pe8a7f7f181)" style="fill: #008000"/>
</g>
<g id="patch_77">
<path d="M 723.04 732.6 L730.72 732.6 L730.72 718.81 L723.04 718.81 z" clip-path="url(#pe8a7f7f181)" style="fill: #008000"/>
</g>
<g id="patch_78">
<path d="M 732.64 732.6 L740.32 732.6 L740.32 718.81 L732.64 718.81 z" clip-path="url(#pe8a7f7f181)" style="fill: #008000"/>
</g>
<g id="patch_79">
<path d="M 742.24 732.6 L749.92 732.6 L749.92 718.81 L742.24 718.81 z" clip-path="url(#pe8a7f7f181)" style="fill: #008000"/>
</g>
<g id="patch_80">
<path d="M 751.84 732.6 L759.52 732.6 L759.52 705.03 L751.84 705.03 z" clip-path="url(#pe8a7f7f181)" style="fill: #008000"/>
</g>
<g id="matplotlib.axis_5">
<g id="xtick_17">
<g id="line2d_87">
<g>
<use href="#m9c9ca732cf" x="185.441" y="732.6" style="stroke: #000000; stroke-width: 0.72"/>
</g>
</g>
<g id="text_21">
<text x="176.522" y="747" style="font-size: 15.192px" textLength="17.539" lengthAdjust="spacingAndGlyphs">21</text>
</g>
</g>
<g id="xtick_18">
<g id="line2d_88">
<g>
<use href="#m9c9ca732cf" x="262.241" y="732.6" style="stroke: #000000; stroke-width: 0.72"/>
</g>
</g>
<g id="text_22">
<text x="253.327" y="747" style="font-size: 15.192px" textLength="17.441" lengthAdjust="spacingAndGlyphs">22</text>
</g>
</g>
<g id="xtick_19">
<g id="line2d_89">
<g>
<use href="#m9c9ca732cf" x="339.041" y="732.6" style="stroke: #000000; stroke-width: 0.72"/>
</g>
</g>
<g id="text_23">
<text x="330.118" y="747" style="font-size: 15.192px" textLength="17.647" lengthAdjust="spacingAndGlyphs">23</text>
</g>
</g>
<g id="xtick_20">
<g id="line2d_90">
<g>
<use href="#m9c9ca732cf" x="415.841" y="732.6" style="stroke: #000000; stroke-width: 0.72"/>
</g>
</g>
<g id="text_24">
<text x="406.961" y="747" style="font-size: 15.192px" textLength="17.671" lengthAdjust="spacingAndGlyphs">24</text>
</g>
</g>
<g id="xtick_21">
<g id="line2d_91">
<g>
<use href="#m9c9ca732cf" x="492.641" y="732.6" style="stroke: #000000; stroke-width: 0.72"/>
</g>
</g>
<g id="text_25">
<text x="483.724" y="747" style="font-size: 15.192px" textLength="17.499" lengthAdjust="spacingAndGlyphs">25</text>
</g>
</g>
<g id="xtick_22">
<g id="line2d_92">
<g>
<use href="#m9c9ca732cf" x="569.441" y="732.6" style="stroke: #000000; stroke-width: 0.72"/>
</g>
</g>
<g id="text_26">
<text x="560.505" y="747" style="font-size: 15.192px" textLength="17.916" lengthAdjust="spacingAndGlyphs">26</text>
</g>
</g>
<g id="xtick_23">
<g id="line2d_93">
<g>
<use href="#m9c9ca732cf" x="646.241" y="732.6" style="stroke: #000000; stroke-width: 0.72"/>
</g>
</g>
<g id="text_27">
<text x="637.316" y="747" style="font-size: 15.192px" textLength="17.673" lengthAdjust="spacingAndGlyphs">27</text>
</g>
</g>
<g id="xtick_24">
<g id="line2d_94">
<g>
<use href="#m9c9ca732cf" x="723.041" y="732.6" style="stroke: #000000; stroke-width: 0.72"/>
</g>
</g>
<g id="text_28">
<text x="714.110" y="747" style="font-size: 15.192px" textLength="17.823" lengthAdjust="spacingAndGlyphs">28</text>
</g>
</g>
<g id="text_29">
<text x="0.113" y="0" style="font-size: 18.230px" textLength="97.568" lengthAdjust="spacingAndGlyphs" transform="translate(399.45 767.56)">March/April</text>
<text x="0.308" y="0" style="font-size: 18.230px" textLength="85.697" lengthAdjust="spacingAndGlyphs" transform="translate(408.045 787.576)">2025 (UT)</text>
</g>
</g>
<g id="matplotlib.axis_6">
<g id="ytick_36">
<g id="line2d_95">
<g>
<use href="#mde43f6efa1" x="144" y="732.6" style="stroke: #000000; stroke-width: 0.72"/>
</g>
</g>
<g id="line2d_96">
<g>
<use href="#m3049f5aebb" x="758.4" y="732.6" style="stroke: #000000; stroke-width: 0.72"/>
</g>
</g>
<g id="text_30">
<text x="131.477" y="738" style="font-size: 15.192px" textLength="8.568" lengthAdjust="spacingAndGlyphs">0</text>
</g>
</g>
<g id="ytick_37">
<g id="line2d_97">
<g>
<use href="#mde43f6efa1" x="144" y="705.030" style="stroke: #000000; stroke-width: 0.72"/>
</g>
</g>
<g id="line2d_98">
<g>
<use href="#m3049f5aebb" x="758.4" y="705.030" style="stroke: #000000; stroke-width: 0.72"/>
</g>
</g>
<g id="text_31">
<text x="131.536" y="710.430" style="font-size: 15.192px" textLength="8.160" lengthAdjust="spacingAndGlyphs">2</text>
</g>
</g>
<g id="ytick_38">
<g id="line2d_99">
<g>
<use href="#mde43f6efa1" x="144" y="677.460" style="stroke: #000000; stroke-width: 0.72"/>
</g>
</g>
<g id="line2d_100">
<g>
<use href="#m3049f5aebb" x="758.4" y="677.460" style="stroke: #000000; stroke-width: 0.72"/>
</g>
</g>
<g id="text_32">
<text x="131.667" y="682.860" style="font-size: 15.192px" textLength="8.364" lengthAdjust="spacingAndGlyphs">4</text>
</g>
</g>
<g id="ytick_39">
<g id="line2d_101">
<g>
<use href="#mde43f6efa1" x="144" y="649.891" style="stroke: #000000; stroke-width: 0.72"/>
</g>
</g>
<g id="line2d_102">
<g>
<use href="#m3049f5aebb" x="758.4" y="649.891" style="stroke: #000000; stroke-width: 0.72"/>
</g>
</g>
<g id="text_33">
<text x="131.425" y="655.291" style="font-size: 15.192px" textLength="8.759" lengthAdjust="spacingAndGlyphs">6</text>
</g>
</g>
<g id="ytick_40">
<g id="line2d_103">
<g>
<use href="#mde43f6efa1" x="144" y="622.321" style="stroke: #000000; stroke-width: 0.72"/>
</g>
</g>
<g id="line2d_104">
<g>
<use href="#m3049f5aebb" x="758.4" y="622.321" style="stroke: #000000; stroke-width: 0.72"/>
</g>
</g>
<g id="text_34">
<text x="131.528" y="627.721" style="font-size: 15.192px" textLength="8.555" lengthAdjust="spacingAndGlyphs">8</text>
</g>
</g>
<g id="text_35">
<text x="112.597" y="670.568" style="font-size: 18.230px" textLength="21.900" lengthAdjust="spacingAndGlyphs" transform="rotate(-90 123.53 670.568354)">Kp</text>
</g>
</g>
<g id="line2d_105">
<path d="M 681.6 732.6 L681.6 608.53 
" clip-path="url(#pe8a7f7f181)" style="fill: none; stroke-dasharray: 2.16,3.564; stroke-dashoffset: 0; stroke: #000000; stroke-width: 2.16"/>
</g>
<g id="patch_81">
<path d="M 144 732.6 L144 608.53 
" style="fill: none; stroke: #000000; stroke-width: 1.44; stroke-linejoin: miter; stroke-linecap: square"/>
</g>
<g id="patch_82">
<path d="M 758.4 732.6 L758.4 608.53 
" style="fill: none; stroke: #000000; stroke-width: 1.44; stroke-linejoin: miter; stroke-linecap: square"/>
</g>
<g id="patch_83">
<path d="M 144 732.6 L758.4 732.6 
" style="fill: none; stroke: #000000; stroke-width: 1.44; stroke-linejoin: miter; stroke-linecap: square"/>
</g>
<g id="patch_84">
<path d="M 144 608.53 L758.4 608.53 
" style="fill: none; stroke: #000000; stroke-width: 1.44; stroke-linejoin: miter; stroke-linecap: square"/>
</g>
<g id="legend_2">
<g id="patch_85">
<path d="M 151 661.77 L218.91 661.77 
Q 220.91 661.77 220.91 659.77 L220.91 615.53 
Q 220.91 613.53 218.91 613.53 L151 613.53 
Q 149 613.53 149 615.53 L149 659.77 
Q 149 661.77 151 661.77 z" style="fill: #ffffff; opacity: 0.8; stroke: #cccccc; stroke-linejoin: miter"/>
</g>
<g id="patch_86">
<path d="M 153 625.45 L173 625.45 L173 618.45 L153 618.45 z" style="fill: #008000; stroke: #008000; stroke-linejoin: miter"/>
</g>
<g id="text_36">
<text x="181.037" y="625.456" style="font-size: 10.550px" textLength="27.208" lengthAdjust="spacingAndGlyphs">Kp&lt;3</text>
</g>
<g id="patch_87">
<path d="M 153 640.53 L173 640.53 L173 633.53 L153 633.53 z" style="fill: #bfbf00; stroke: #bfbf00; stroke-linejoin: miter"/>
</g>
<g id="text_37">
<text x="181.040" y="640.536" style="font-size: 10.550px" textLength="27.107" lengthAdjust="spacingAndGlyphs">Kp&lt;5</text>
</g>
<g id="patch_88">
<path d="M 153 655.61 L173 655.61 L173 648.61 L153 648.61 z" style="fill: #ff0000; stroke: #ff0000; stroke-linejoin: miter"/>
</g>
<g id="text_38">
<text x="180.991" y="655.616" style="font-size: 10.550px" textLength="35.551" lengthAdjust="spacingAndGlyphs">Kp&gt;=5</text>
</g>
</g>
</g>
<g id="axes_4">
<g id="patch_89">
<path d="M 886.4 327.32 L1296 327.32 L1296 79.2 L886.4 79.2 z" style="fill: #ffffff"/>
</g>
<g id="matplotlib.axis_7">
<g id="xtick_25">
<g id="line2d_106">
<g>
<use href="#m9c9ca732cf" x="914.027" y="327.326" style="stroke: #000000; stroke-width: 0.72"/>
</g>
</g>
</g>
<g id="xtick_26">
<g id="line2d_107">
<g>
<use href="#m9c9ca732cf" x="965.227" y="327.326" style="stroke: #000000; stroke-width: 0.72"/>
</g>
</g>
</g>
<g id="xtick_27">
<g id="line2d_108">
<g>
<use href="#m9c9ca732cf" x="1016.427" y="327.326" style="stroke: #000000; stroke-width: 0.72"/>
</g>
</g>
</g>
<g id="xtick_28">
<g id="line2d_109">
<g>
<use href="#m9c9ca732cf" x="1067.627" y="327.326" style="stroke: #000000; stroke-width: 0.72"/>
</g>
</g>
</g>
<g id="xtick_29">
<g id="line2d_110">
<g>
<use href="#m9c9ca732cf" x="1118.827" y="327.326" style="stroke: #000000; stroke-width: 0.72"/>
</g>
</g>
</g>
<g id="xtick_30">
<g id="line2d_111">
<g>
<use href="#m9c9ca732cf" x="1170.027" y="327.326" style="stroke: #000000; stroke-width: 0.72"/>
</g>
</g>
</g>
<g id="xtick_31">
<g id="line2d_112">
<g>
<use href="#m9c9ca732cf" x="1221.227" y="327.326" style="stroke: #000000; stroke-width: 0.72"/>
</g>
</g>
</g>
<g id="xtick_32">
<g id="line2d_113">
<g>
<use href="#m9c9ca732cf" x="1272.427" y="327.326" style="stroke: #000000; stroke-width: 0.72"/>
</g>
</g>
</g>
</g>
<g id="matplotlib.axis_8">
<g id="ytick_41">
<g id="line2d_114">
<g>
<use href="#mde43f6efa1" x="886.4" y="327.326" style="stroke: #000000; stroke-width: 0.72"/>
</g>
</g>
<g id="text_39">
<text x="852.956" y="332.726" style="font-size: 15.192px" textLength="29.569" lengthAdjust="spacingAndGlyphs">−20</text>
</g>
</g>
<g id="ytick_42">
<g id="line2d_115">
<g>
<use href="#mde43f6efa1" x="886.4" y="296.310" style="stroke: #000000; stroke-width: 0.72"/>
</g>
</g>
<g id="text_40">
<text x="853.056" y="301.710" style="font-size: 15.192px" textLength="29.208" lengthAdjust="spacingAndGlyphs">−15</text>
</g>
</g>
<g id="ytick_43">
<g id="line2d_116">
<g>
<use href="#mde43f6efa1" x="886.4" y="265.294" style="stroke: #000000; stroke-width: 0.72"/>
</g>
</g>
<g id="text_41">
<text x="852.956" y="270.694" style="font-size: 15.192px" textLength="29.569" lengthAdjust="spacingAndGlyphs">−10</text>
</g>
</g>
<g id="ytick_44">
<g id="line2d_117">
<g>
<use href="#mde43f6efa1" x="886.4" y="234.279" style="stroke: #000000; stroke-width: 0.72"/>
</g>
</g>
<g id="text_42">
<text x="862.217" y="239.679" style="font-size: 15.192px" textLength="20.062" lengthAdjust="spacingAndGlyphs">−5</text>
</g>
</g>
<g id="ytick_45">
<g id="line2d_118">
<g>
<use href="#mde43f6efa1" x="886.4" y="203.263" style="stroke: #000000; stroke-width: 0.72"/>
</g>
</g>
<g id="text_43">
<text x="873.877" y="208.663" style="font-size: 15.192px" textLength="8.568" lengthAdjust="spacingAndGlyphs">0</text>
</g>
</g>
<g id="ytick_46">
<g id="line2d_119">
<g>
<use href="#mde43f6efa1" x="886.4" y="172.247" style="stroke: #000000; stroke-width: 0.72"/>
</g>
</g>
<g id="text_44">
<text x="874.155" y="177.647" style="font-size: 15.192px" textLength="7.989" lengthAdjust="spacingAndGlyphs">5</text>
</g>
</g>
<g id="ytick_47">
<g id="line2d_120">
<g>
<use href="#mde43f6efa1" x="886.4" y="141.231" style="stroke: #000000; stroke-width: 0.72"/>
</g>
</g>
<g id="text_45">
<text x="864.716" y="146.631" style="font-size: 15.192px" textLength="17.751" lengthAdjust="spacingAndGlyphs">10</text>
</g>
</g>
<g id="ytick_48">
<g id="line2d_121">
<g>
<use href="#mde43f6efa1" x="886.4" y="110.215" style="stroke: #000000; stroke-width: 0.72"/>
</g>
</g>
<g id="text_46">
<text x="864.832" y="115.615" style="font-size: 15.192px" textLength="17.364" lengthAdjust="spacingAndGlyphs">15</text>
</g>
</g>
<g id="ytick_49">
<g id="line2d_122">
<g>
<use href="#mde43f6efa1" x="886.4" y="79.2" style="stroke: #000000; stroke-width: 0.72"/>
</g>
</g>
<g id="text_47">
<text x="864.596" y="84.6" style="font-size: 15.192px" textLength="17.875" lengthAdjust="spacingAndGlyphs">20</text>
</g>
</g>
<g id="text_48">
<text x="0.048" y="0" style="font-size: 18.230px" textLength="56.528" lengthAdjust="spacingAndGlyphs" transform="translate(824.674 231.478291) rotate(-90)">IMF Bz</text>
<text x="0.309" y="0" style="font-size: 18.230px" textLength="45.281" lengthAdjust="spacingAndGlyphs" transform="translate(844.69 226.213291) rotate(-90)">( nT )</text>
</g>
</g>
<g id="line2d_123">
<path d="M 886.4 203.26 L1296 203.26 
" clip-path="url(#p23485c00ad)" style="fill: none; stroke-dasharray: 1.44,2.376; stroke-dashoffset: 0; stroke: #000000; stroke-width: 1.44"/>
</g>
<g id="line2d_124">
<path d="M 1244.8 327.32 L1244.8 79.2 
" clip-path="url(#p23485c00ad)" style="fill: none; stroke-dasharray: 2.16,3.564; stroke-dashoffset: 0; stroke: #000000; stroke-width: 2.16"/>
</g>
<g id="patch_90">
<path d="M 886.4 327.32 L886.4 79.2 
" style="fill: none; stroke: #000000; stroke-width: 1.44; stroke-linejoin: miter; stroke-linecap: square"/>
</g>
<g id="patch_91">
<path d="M 1296 327.32 L1296 79.2 
" style="fill: none; stroke: #000000; stroke-width: 1.44; stroke-linejoin: miter; stroke-linecap: square"/>
</g>
<g id="patch_92">
<path d="M 886.4 327.32 L1296 327.32 
" style="fill: none; stroke: #000000; stroke-width: 1.44; stroke-linejoin: miter; stroke-linecap: square"/>
</g>
<g id="patch_93">
<path d="M 886.4 79.2 L1296 79.2 
" style="fill: none; stroke: #000000; stroke-width: 1.44; stroke-linejoin: miter; stroke-linecap: square"/>
</g>
<g id="line2d_125">
<path d="M 886.4 219.33 L886.66 248.56 L886.93 211.39 L887.19 237.61 L887.46 218.53 L887.72 249.76 L887.99 221.29 L888.25 244.52 L888.52 209.54 L888.78 246.23 L889.05 217.70 L889.32 231.87 L889.58 193.28 L889.85 209.02 L890.11 171.27 L890.38 200.37 L890.64 151.34 L890.64 166.59 L890.86 146.97 L891.15 153.64 L891.22 144.40 L891.51 148.21 L891.58 150.21 L891.73 148.30 L891.94 143.43 L892.16 140.53 L892.37 150.06 L892.52 147.25 L892.66 143.64 L892.81 135.38 L892.88 139.78 L893.17 133.90 L893.39 146.29 L893.53 147.08 L893.67 138.13 L894.03 144.04 L894.18 137.35 L894.25 138.72 L894.54 147.56 L894.61 144.28 L894.90 147.61 L894.97 144.44 L895.12 149.52 L895.41 147.68 L895.55 144.00 L895.91 141.29 L895.98 145.22 L896.06 145.60 L896.34 139.92 L896.42 140.43 L896.70 145.56 L896.85 145.72 L896.92 148.11 L897.28 144.33 L897.43 148.11 L897.57 147.55 L897.79 145.97 L897.93 144.39 L898.00 147.91 L898.22 145.49 L898.51 147.24 L898.58 153.21 L898.80 148.57 L899.01 145.59 L899.23 150.62 L899.45 152.99 L899.59 148.88 L899.66 149.04 L899.81 150.28 L900.17 152.90 L900.31 144.43 L900.38 148.25 L900.67 152.32 L900.75 152.48 L900.89 151.07 L901.18 150.97 L901.25 152.27 L901.47 149.83 L901.68 146.04 L901.90 150.18 L902.12 151.83 L902.19 148.13 L902.48 154.32 L902.55 154.82 L902.69 148.38 L902.91 151.97 L903.13 149.24 L903.27 150.15 L903.56 151.71 L903.78 152.72 L903.92 150.50 L904.14 153.50 L904.28 151.72 L904.35 150.52 L904.64 155.42 L904.86 153.43 L904.93 149.13 L905.08 150.40 L905.36 154.36 L905.44 153.96 L905.65 151.82 L905.87 150.80 L906.09 152.81 L906.23 151.47 L906.45 156.01 L906.52 155.52 L906.73 152.01 L906.88 153.36 L907.10 149.17 L907.31 148.36 L907.46 150.96 L907.60 151.49 L907.67 155.64 L908.11 149.67 L908.25 153.79 L908.47 149.53 L908.61 152.87 L908.68 149.84 L908.97 155.87 L909.04 146.83 L909.19 153.32 L909.48 156.88 L909.62 154.43 L909.91 150.54 L910.05 156.12 L910.27 149.44 L910.41 155.66 L910.63 155.58 L910.70 152.07 L910.85 156.52 L911.14 152.37 L911.28 155.38 L911.35 152.65 L911.57 150.36 L911.79 152.98 L911.93 154.60 L912.00 153.29 L912.29 156.20 L912.51 152.81 L912.65 160.25 L912.94 152.83 L913.01 152.49 L913.30 156.34 L913.37 162.71 L913.66 156.72 L913.95 155.37 L914.02 158.50 L914.24 154.05 L914.38 158.92 L914.53 160.46 L914.74 154.92 L914.82 153.93 L915.11 158.23 L915.32 153.59 L915.47 157.19 L915.61 160.28 L915.75 155.16 L915.90 153.48 L916.19 161.39 L916.40 160.45 L916.48 158.20 L916.62 161.38 L916.77 156.50 L917.13 159.56 L917.27 152.90 L917.34 154.95 L917.56 149.76 L917.78 150.99 L917.92 160.12 L918.06 161.55 L918.35 152.68 L918.64 159.61 L918.71 151.82 L918.86 161.38 L919.07 152.43 L919.15 154.80 L919.44 142.43 L919.51 149.21 L919.58 159.96 L920.01 163.23 L920.08 155.67 L920.30 151.38 L920.45 167.12 L920.59 162.61 L920.73 156.38 L921.09 163.80 L921.24 152.48 L921.31 145.18 L921.60 165.60 L921.74 141.75 L921.82 152.55 L922.10 153.38 L922.18 144.38 L922.47 150.63 L922.68 145.34 L922.75 148.07 L922.90 142.63 L923.04 177.12 L923.19 128.86 L923.40 217.58 L923.48 146.47 L923.84 174.85 L924.05 220.42 L924.27 185.19 L924.41 197.55 L924.63 210.57 L924.70 191.31 L924.99 187.72 L925.06 224.84 L925.21 193.39 L925.35 190.18 L925.64 169.04 L925.86 198.23 L925.93 190.29 L926.07 229.25 L926.36 214.78 L926.58 153.71 L926.79 233.79 L926.87 211.78 L927.01 240.05 L927.30 245.10 L927.44 243.88 L927.66 192.68 L927.80 207.11 L927.95 173.99 L928.09 153.22 L928.24 184.35 L928.45 180.59 L928.74 207.45 L928.88 219.51 L929.03 205.53 L929.17 212.89 L929.32 245.19 L929.68 215.10 L929.82 245.39 L930.11 223.81 L930.18 249.49 L930.33 248.73 L930.47 229.53 L930.83 252.69 L930.90 156.44 L931.12 242.12 L931.26 229.68 L931.34 253.31 L931.48 228.27 L931.84 240.85 L931.91 226.71 L932.06 254.96 L932.27 145.38 L932.49 235.38 L932.63 219.23 L932.78 225.84 L932.85 133.02 L933.21 210.54 L933.36 253.88 L933.57 153.02 L933.64 218.66 L934.00 213.88 L934.08 224.34 L934.22 217.06 L934.36 231.08 L934.58 226.99 L934.73 244.72 L934.94 226.79 L935.01 253.37 L935.30 246.17 L935.52 216.64 L935.66 248.89 L935.88 139.69 L936.02 230.32 L936.31 239.79 L936.38 236.46 L936.46 131.95 L936.82 194.51 L937.03 261.83 L937.32 197.20 L937.39 208.36 L937.61 230.66 L937.68 158.73 L937.90 206.77 L937.97 191.82 L938.33 167.43 L938.48 186.51 L938.55 187.03 L938.84 165.46 L938.98 187.45 L939.05 168.09 L939.27 155.27 L939.34 194.68 L939.85 171.12 L939.92 130.27 L940.06 173.87 L940.21 186.96 L940.35 202.89 L940.42 192.12 L940.71 208.54 L941.00 245.34 L941.22 216.03 L941.36 249.69 L941.58 254.15 L941.72 239.66 L941.86 240.13 L942.01 221.33 L942.23 202.59 L942.44 219.60 L942.59 228.68 L942.73 205.67 L942.95 166.35 L943.09 202.16 L943.38 214.68 L943.52 199.83 L943.74 204.49 L943.88 147.01 L944.17 190.69 L944.24 205.76 L944.53 191.61 L944.60 259.48 L944.89 208.88 L944.97 227.07 L945.04 223.04 L945.33 257.99 L945.40 240.46 L945.54 256.13 L945.83 240.82 L945.90 147.84 L946.26 229.93 L946.41 158.76 L946.48 225.97 L946.62 204.27 L946.98 144.07 L947.06 242.98 L947.35 242.20 L947.49 219.76 L947.63 259.12 L947.71 139.05 L948.14 258.86 L948.21 197.18 L948.28 216.01 L948.50 141.63 L948.72 207.25 L948.93 163.52 L949.00 211.29 L949.29 198.00 L949.51 197.62 L949.65 208.98 L949.87 206.25 L950.01 223.01 L950.23 244.15 L950.37 209.24 L950.52 199.40 L950.59 179.74 L950.88 182.04 L951.02 194.58 L951.17 189.88 L951.46 217.31 L951.67 212.67 L951.74 218.29 L952.03 228.24 L952.18 217.59 L952.25 219.65 L952.47 259.33 L952.68 253.47 L952.83 172.17 L953.11 255.09 L953.26 172.45 L953.40 222.32 L953.55 204.38 L953.76 213.70 L953.91 259.41 L954.05 239.51 L954.12 224.14 L954.48 218.63 L954.56 239.44 L954.84 225.72 L955.06 192.23 L955.13 192.84 L955.35 177.42 L955.64 166.68 L955.78 183.39 L955.85 174.63 L956.07 192.09 L956.29 188.53 L956.43 201.74 L956.72 200.13 L956.86 185.02 L956.94 182.02 L957.08 202.69 L957.37 197.25 L957.51 188.58 L957.73 250.25 L957.95 184.10 L958.02 197.12 L958.23 227.69 L958.38 163.83 L958.52 206.32 L958.74 208.80 L958.88 196.27 L959.10 156.13 L959.39 219.57 L959.46 255.11 L959.75 163.49 L959.82 166.75 L959.89 238.83 L960.18 221.91 L960.33 205.61 L960.54 226.19 L960.83 205.08 L961.05 204.84 L961.19 185.42 L961.26 255.57 L961.33 179.76 L961.70 205.42 L961.91 237.28 L962.13 258.90 L962.27 224.99 L962.56 223.49 L962.63 231.74 L962.92 170.89 L962.99 251.25 L963.14 254.91 L963.35 216.27 L963.50 261.30 L963.64 212.66 L963.86 214.20 L964.08 257.56 L964.36 199.64 L964.44 252.05 L964.51 214.83 L964.80 188.09 L965.08 255.59 L965.16 170.14 L965.30 178.95 L965.52 169.86 L965.73 172.94 L965.81 183.85 L965.95 156.19 L966.24 193.60 L966.31 158.52 L966.53 208.07 L966.67 197.26 L966.82 162.95 L967.03 155.28 L967.32 210.00 L967.39 164.20 L967.54 223.50 L967.75 202.84 L967.97 146.07 L968.19 193.77 L968.40 224.63 L968.55 201.41 L968.69 222.71 L968.83 219.41 L969.12 197.12 L969.12 203.54 L969.24 233.04 L969.48 239.90 L969.72 218.93 L969.84 229.01 L970.08 208.15 L970.20 208.19 L970.44 201.08 L970.56 203.63 L970.80 213.61 L970.92 216.02 L971.16 237.06 L971.28 231.66 L971.52 206.10 L971.64 215.55 L971.88 205.88 L972.00 203.01 L972.25 216.88 L972.37 213.51 L972.61 199.88 L972.73 223.31 L972.85 221.94 L973.21 226.40 L973.33 217.33 L973.45 251.58 L973.57 199.07 L973.81 221.05 L974.05 212.58 L974.17 176.14 L974.29 205.44 L974.65 205.71 L974.77 201.73 L974.89 249.59 L975.01 210.47 L975.37 169.21 L975.49 214.24 L975.73 212.48 L975.85 176.31 L975.97 212.60 L976.21 218.34 L976.45 223.43 L976.57 240.01 L976.81 223.50 L976.93 178.03 L977.05 235.33 L977.17 220.81 L977.41 235.42 L977.65 243.05 L977.77 243.53 L978.01 239.17 L978.25 238.21 L978.37 243.49 L978.49 242.41 L978.73 229.62 L978.85 229.45 L978.97 178.89 L979.21 222.33 L979.33 212.31 L979.69 222.42 L979.81 184.42 L979.93 241.52 L980.05 235.57 L980.41 179.26 L980.53 211.40 L980.65 208.11 L980.89 222.62 L981.01 223.93 L981.25 205.30 L981.37 204.52 L981.49 194.72 L981.73 202.91 L981.85 188.27 L982.09 242.90 L982.21 192.41 L982.45 201.13 L982.69 224.55 L982.81 225.16 L983.05 211.88 L983.17 204.62 L983.41 236.13 L983.53 214.45 L983.77 224.32 L984.01 233.61 L984.13 182.43 L984.25 223.93 L984.49 210.86 L984.73 204.25 L984.85 241.22 L984.97 214.06 L985.21 180.81 L985.33 183.32 L985.57 204.33 L985.69 204.50 L985.93 212.17 L986.05 205.53 L986.17 212.14 L986.41 220.59 L986.65 214.83 L986.89 209.66 L987.01 212.47 L987.13 211.22 L987.37 219.93 L987.49 228.32 L987.73 181.94 L987.97 234.34 L988.09 245.36 L988.21 245.34 L988.45 245.32 L988.58 242.19 L988.82 237.10 L988.94 180.35 L989.06 226.59 L989.30 230.29 L989.54 240.56 L989.66 245.20 L989.78 179.68 L990.02 245.16 L990.26 245.14 L990.38 242.45 L990.50 245.12 L990.74 241.36 L990.98 231.47 L991.10 225.57 L991.22 215.78 L991.46 227.28 L991.70 177.13 L991.82 214.08 L991.94 225.60 L992.30 210.11 L992.42 214.93 L992.54 207.17 L992.66 181.91 L992.90 203.18 L993.02 177.90 L993.26 199.57 L993.50 178.98 L993.62 207.79 L993.86 223.34 L994.10 222.22 L994.22 237.08 L994.34 175.98 L994.46 237.00 L994.70 178.34 L994.82 232.62 L995.06 222.77 L995.30 230.57 L995.54 235.47 L995.66 183.04 L995.78 217.38 L996.02 214.16 L996.14 231.88 L996.26 226.09 L996.50 217.24 L996.74 214.79 L996.86 218.36 L997.10 205.97 L997.22 201.42 L997.46 190.27 L997.58 191.61 L997.82 199.61 L997.94 200.00 L998.06 176.68 L998.30 199.38 L998.42 205.67 L998.66 189.57 L998.90 210.78 L999.14 223.62 L999.26 184.06 L999.50 208.50 L999.62 211.13 L999.86 212.61 L999.98 181.36 L1000.22 218.61 L1000.34 208.87 L1000.46 208.65 L1000.70 202.50 L1000.82 203.08 L1000.94 238.85 L1001.30 205.34 L1001.42 199.59 L1001.54 209.85 L1001.78 236.90 L1001.90 217.41 L1002.02 211.07 L1002.26 204.72 L1002.50 196.98 L1002.74 190.63 L1002.86 239.03 L1002.98 191.71 L1003.22 184.79 L1003.34 195.94 L1003.46 199.27 L1003.82 204.84 L1003.94 185.01 L1004.18 222.05 L1004.30 211.29 L1004.42 211.56 L1004.66 200.17 L1004.78 179.51 L1005.03 207.66 L1005.27 227.80 L1005.39 180.74 L1005.51 200.29 L1005.75 205.35 L1005.99 183.96 L1006.11 236.56 L1006.23 180.25 L1006.47 226.07 L1006.71 179.63 L1006.83 230.23 L1006.95 184.31 L1007.19 214.72 L1007.31 217.47 L1007.55 219.32 L1007.67 219.49 L1007.91 182.72 L1008.15 212.39 L1008.27 185.34 L1008.51 216.39 L1008.63 214.96 L1008.75 209.02 L1008.99 218.87 L1009.23 218.84 L1009.35 183.06 L1009.47 227.47 L1009.71 230.32 L1009.83 227.06 L1010.07 233.40 L1010.19 235.23 L1010.31 226.58 L1010.55 179.05 L1010.67 230.39 L1011.03 208.21 L1011.15 203.82 L1011.39 205.68 L1011.51 209.79 L1011.63 226.97 L1011.75 202.09 L1012.11 230.30 L1012.23 190.48 L1012.35 206.53 L1012.59 203.91 L1012.71 195.12 L1012.83 191.55 L1013.19 180.70 L1013.31 197.01 L1013.43 200.12 L1013.55 205.99 L1013.79 203.52 L1014.03 192.70 L1014.15 229.29 L1014.27 192.52 L1014.51 201.58 L1014.75 206.81 L1014.99 209.64 L1015.11 204.29 L1015.23 212.05 L1015.47 184.20 L1015.71 195.10 L1015.83 201.57 L1015.95 206.80 L1016.19 223.01 L1016.31 218.24 L1016.55 203.56 L1016.67 205.63 L1016.79 184.31 L1017.03 180.76 L1017.27 194.25 L1017.39 191.12 L1017.63 210.12 L1017.75 204.89 L1017.87 200.98 L1018.11 205.58 L1018.35 210.47 L1018.47 214.67 L1018.71 227.07 L1018.83 226.01 L1019.07 220.42 L1019.19 229.69 L1019.43 232.71 L1019.55 232.84 L1019.79 179.03 L1019.91 232.72 L1020.15 232.63 L1020.27 177.48 L1020.39 232.55 L1020.63 222.15 L1020.87 216.34 L1021.11 222.88 L1021.23 216.16 L1021.36 211.93 L1021.60 217.44 L1021.84 216.48 L1021.96 208.58 L1022.08 230.93 L1022.32 204.09 L1022.44 203.14 L1022.68 195.20 L1022.80 197.34 L1022.92 229.34 L1023.28 180.28 L1023.40 206.42 L1023.52 200.91 L1023.64 205.54 L1023.88 180.14 L1024.00 202.76 L1024.24 191.16 L1024.48 229.67 L1024.60 190.85 L1024.84 200.51 L1024.96 195.98 L1025.08 205.43 L1025.44 226.38 L1025.56 207.29 L1025.80 207.45 L1025.92 208.51 L1026.04 203.14 L1026.28 208.78 L1026.40 209.68 L1026.64 201.56 L1026.88 180.93 L1027.00 207.17 L1027.24 203.67 L1027.36 206.68 L1027.60 210.92 L1027.72 229.51 L1027.84 216.51 L1027.96 208.91 L1028.20 208.49 L1028.32 213.33 L1028.56 204.37 L1028.68 199.81 L1029.04 198.64 L1029.16 226.24 L1029.40 186.55 L1029.52 224.66 L1029.76 186.89 L1029.88 184.12 L1030.00 223.43 L1030.12 186.72 L1030.36 195.26 L1030.60 207.73 L1030.72 202.44 L1030.96 206.99 L1031.20 211.70 L1031.32 208.91 L1031.44 213.32 L1031.68 209.58 L1031.80 209.84 L1032.04 205.10 L1032.28 215.10 L1032.40 186.55 L1032.52 214.59 L1032.64 212.07 L1032.88 207.77 L1033.12 209.88 L1033.24 220.27 L1033.48 209.82 L1033.60 211.72 L1033.84 214.17 L1033.96 213.33 L1034.08 215.58 L1034.44 184.13 L1034.56 219.20 L1034.80 226.59 L1034.92 189.07 L1035.16 214.50 L1035.28 213.78 L1035.40 214.32 L1035.64 210.10 L1035.76 205.87 L1036.00 208.32 L1036.12 212.98 L1036.24 225.32 L1036.60 220.92 L1036.72 219.72 L1036.84 216.34 L1036.96 207.08 L1037.32 223.15 L1037.44 210.62 L1037.69 215.52 L1037.81 186.16 L1037.93 213.59 L1038.17 223.81 L1038.29 222.62 L1038.41 218.13 L1038.77 212.34 L1038.89 219.32 L1039.01 216.74 L1039.25 212.62 L1039.37 214.83 L1039.61 206.68 L1039.73 187.65 L1039.85 209.79 L1040.09 209.65 L1040.33 203.97 L1040.45 204.25 L1040.69 199.88 L1040.81 197.29 L1041.05 200.94 L1041.17 201.37 L1041.41 206.91 L1041.53 226.13 L1041.65 203.41 L1042.01 203.50 L1042.13 199.29 L1042.25 195.32 L1042.49 189.18 L1042.61 221.36 L1042.73 190.09 L1042.97 193.79 L1043.09 187.56 L1043.33 191.51 L1043.45 222.73 L1043.69 196.38 L1043.93 204.24 L1044.05 211.98 L1044.17 226.55 L1044.41 220.47 L1044.65 214.98 L1044.89 220.05 L1045.01 210.62 L1045.25 211.11 L1045.37 216.21 L1045.61 215.65 L1045.73 219.59 L1045.85 217.15 L1045.97 223.37 L1046.21 182.27 L1046.33 224.80 L1046.57 181.98 L1046.81 216.64 L1046.93 218.43 L1047.17 223.42 L1047.29 221.42 L1047.53 212.75 L1047.77 212.00 L1047.89 221.97 L1048.13 204.12 L1048.25 205.11 L1048.37 204.27 L1048.49 200.75 L1048.73 184.99 L1048.85 195.25 L1049.09 201.43 L1049.33 206.33 L1049.45 187.19 L1049.57 220.87 L1049.81 207.45 L1049.93 188.83 L1050.29 227.35 L1050.41 190.70 L1050.65 187.24 L1050.77 187.80 L1051.01 198.43 L1051.13 184.05 L1051.25 194.91 L1051.37 198.01 L1051.61 195.34 L1051.73 189.26 L1051.97 195.23 L1052.21 188.53 L1052.33 185.98 L1052.45 189.28 L1052.69 185.60 L1052.93 190.96 L1053.05 196.86 L1053.29 203.11 L1053.41 204.15 L1053.65 207.64 L1053.89 226.63 L1054.01 202.37 L1054.14 201.06 L1054.26 204.08 L1054.50 199.35 L1054.74 209.46 L1054.98 204.76 L1055.10 209.20 L1055.34 210.45 L1055.46 204.28 L1055.58 203.41 L1055.82 211.92 L1055.94 214.91 L1056.18 201.03 L1056.42 225.59 L1056.54 188.41 L1056.66 184.73 L1056.78 211.41 L1057.02 206.43 L1057.14 202.60 L1057.38 223.90 L1057.50 201.33 L1057.74 223.50 L1057.86 204.21 L1058.10 227.48 L1058.34 204.24 L1058.46 202.94 L1058.58 227.78 L1058.94 193.37 L1059.06 199.20 L1059.18 195.54 L1059.42 201.48 L1059.54 196.97 L1059.78 185.20 L1059.90 186.31 L1060.02 184.76 L1060.38 189.40 L1060.50 187.83 L1060.62 193.61 L1060.86 204.55 L1061.10 200.54 L1061.22 200.67 L1061.34 203.29 L1061.46 226.67 L1061.70 212.77 L1061.82 211.20 L1062.06 212.36 L1062.18 187.27 L1062.42 202.74 L1062.54 227.50 L1062.90 200.46 L1063.02 198.64 L1063.14 196.86 L1063.38 213.48 L1063.50 217.15 L1063.74 212.53 L1063.86 208.26 L1064.10 216.28 L1064.34 185.69 L1064.46 227.74 L1064.58 222.69 L1064.82 211.41 L1064.94 210.53 L1065.18 208.97 L1065.30 203.00 L1065.42 226.44 L1065.66 207.47 L1065.78 194.89 L1066.02 194.94 L1066.14 199.97 L1066.50 185.96 L1066.62 203.04 L1066.74 207.45 L1066.86 205.90 L1067.10 207.48 L1067.22 209.82 L1067.46 210.32 L1067.70 200.97 L1067.94 207.69 L1068.06 203.19 L1068.18 199.86 L1068.42 203.75 L1068.54 205.78 L1068.78 227.89 L1068.90 210.35 L1069.14 199.85 L1069.38 225.96 L1069.50 204.48 L1069.74 225.73 L1069.86 187.81 L1069.98 204.15 L1070.22 198.11 L1070.47 186.34 L1070.59 199.14 L1070.83 187.45 L1070.95 197.56 L1071.07 200.70 L1071.31 228.47 L1071.55 198.35 L1071.67 188.61 L1071.79 193.75 L1072.03 228.08 L1072.15 198.18 L1072.27 195.63 L1072.51 205.20 L1072.63 187.04 L1072.87 214.49 L1072.99 206.78 L1073.23 209.80 L1073.47 187.21 L1073.71 227.61 L1073.83 206.87 L1073.95 204.38 L1074.07 207.09 L1074.43 197.08 L1074.55 203.49 L1074.67 206.15 L1074.91 209.52 L1075.03 214.94 L1075.27 199.66 L1075.39 207.15 L1075.63 211.08 L1075.75 209.29 L1075.99 201.27 L1076.11 201.22 L1076.35 188.74 L1076.47 207.78 L1076.71 190.00 L1076.95 209.69 L1077.07 189.97 L1077.19 215.97 L1077.43 186.44 L1077.55 225.21 L1077.79 208.57 L1077.91 205.12 L1078.15 187.72 L1078.27 200.49 L1078.39 200.23 L1078.75 199.13 L1078.87 221.90 L1079.11 191.49 L1079.23 204.13 L1079.35 188.34 L1079.59 222.29 L1079.83 186.90 L1079.95 211.34 L1080.07 210.21 L1080.31 216.69 L1080.43 213.78 L1080.67 222.19 L1080.79 225.68 L1081.03 189.40 L1081.15 215.80 L1081.39 219.76 L1081.51 225.04 L1081.75 213.29 L1081.99 208.43 L1082.11 210.18 L1082.23 225.71 L1082.47 202.45 L1082.59 204.69 L1082.83 199.20 L1082.95 203.47 L1083.19 207.17 L1083.31 187.56 L1083.43 205.97 L1083.67 206.65 L1083.91 213.88 L1084.03 213.92 L1084.27 214.90 L1084.51 215.69 L1084.63 222.73 L1084.75 211.74 L1084.87 207.40 L1085.23 221.26 L1085.35 210.93 L1085.47 212.63 L1085.71 217.14 L1085.83 214.01 L1085.95 218.39 L1086.19 216.86 L1086.31 183.49 L1086.55 213.00 L1086.80 206.92 L1086.92 207.52 L1087.16 212.81 L1087.28 211.10 L1087.52 204.73 L1087.64 203.87 L1087.88 198.60 L1088.12 191.30 L1088.24 202.86 L1088.36 201.31 L1088.60 206.29 L1088.72 210.79 L1088.96 190.58 L1089.20 199.12 L1089.32 220.45 L1089.44 198.93 L1089.56 196.92 L1089.80 201.68 L1089.92 204.38 L1090.16 203.00 L1090.40 206.54 L1090.52 186.96 L1090.76 202.90 L1090.88 200.12 L1091.12 199.30 L1091.24 202.87 L1091.36 201.67 L1091.72 188.69 L1091.84 204.14 L1091.96 202.84 L1092.20 205.67 L1092.32 199.83 L1092.56 186.30 L1092.68 189.18 L1092.80 191.66 L1093.04 223.45 L1093.28 191.08 L1093.52 193.65 L1093.64 192.05 L1093.76 186.95 L1094.00 201.01 L1094.12 208.35 L1094.36 218.77 L1094.48 221.26 L1094.60 183.18 L1094.96 207.94 L1095.08 210.84 L1095.20 209.01 L1095.32 203.28 L1095.68 218.74 L1095.80 212.48 L1095.92 214.49 L1096.16 209.92 L1096.28 211.78 L1096.40 221.29 L1096.64 211.18 L1096.88 206.35 L1097.00 180.03 L1097.24 204.48 L1097.36 204.52 L1097.60 205.96 L1097.84 212.96 L1097.96 208.24 L1098.08 202.46 L1098.32 206.91 L1098.44 211.50 L1098.68 218.69 L1098.80 224.87 L1099.04 185.77 L1099.16 213.59 L1099.28 210.34 L1099.52 209.71 L1099.64 212.51 L1100.00 211.57 L1100.12 224.39 L1100.24 210.91 L1100.36 215.33 L1100.60 224.40 L1100.84 199.59 L1100.96 206.04 L1101.20 206.73 L1101.44 179.40 L1101.56 212.70 L1101.68 178.09 L1101.92 211.41 L1102.04 222.32 L1102.28 196.74 L1102.40 199.96 L1102.64 204.73 L1102.76 221.29 L1103.00 194.82 L1103.25 226.97 L1103.37 185.53 L1103.49 197.45 L1103.61 198.86 L1103.85 201.66 L1104.09 208.62 L1104.21 184.60 L1104.33 213.08 L1104.57 215.73 L1104.81 214.69 L1105.05 214.12 L1105.17 207.38 L1105.41 203.99 L1105.53 204.61 L1105.65 175.32 L1105.77 206.95 L1106.13 194.43 L1106.25 221.91 L1106.37 195.99 L1106.49 204.64 L1106.85 196.28 L1106.97 204.32 L1107.09 204.64 L1107.33 201.55 L1107.57 200.94 L1107.69 206.14 L1107.81 222.39 L1108.05 199.20 L1108.17 202.07 L1108.41 207.66 L1108.53 209.51 L1108.65 211.31 L1108.89 213.88 L1109.13 215.26 L1109.25 207.66 L1109.49 202.59 L1109.61 195.42 L1109.73 223.96 L1109.97 212.01 L1110.21 218.77 L1110.45 215.17 L1110.57 205.96 L1110.69 206.51 L1110.93 208.71 L1111.17 213.23 L1111.29 209.60 L1111.41 206.43 L1111.53 202.96 L1111.77 202.47 L1111.89 196.40 L1112.13 196.98 L1112.37 193.86 L1112.49 192.04 L1112.61 195.67 L1112.85 189.38 L1113.09 186.02 L1113.21 181.92 L1113.45 194.18 L1113.69 197.40 L1113.81 177.59 L1113.93 199.98 L1114.05 202.18 L1114.41 193.72 L1114.53 225.06 L1114.65 225.18 L1114.77 199.54 L1115.01 223.42 L1115.25 186.66 L1115.37 199.92 L1115.49 229.51 L1115.85 207.67 L1115.97 204.62 L1116.21 225.36 L1116.33 206.18 L1116.45 206.72 L1116.69 199.98 L1116.81 196.10 L1116.93 224.52 L1117.17 200.67 L1117.29 192.78 L1117.65 191.86 L1117.77 202.00 L1117.89 200.92 L1118.13 197.54 L1118.25 199.57 L1118.49 207.46 L1118.73 201.35 L1118.85 226.94 L1118.97 202.16 L1119.21 207.36 L1119.33 208.36 L1119.58 204.19 L1119.70 205.12 L1119.82 225.75 L1120.06 211.90 L1120.30 216.55 L1120.42 216.19 L1120.54 218.71 L1120.90 225.19 L1121.02 187.12 L1121.14 220.60 L1121.38 208.17 L1121.62 207.64 L1121.74 204.58 L1121.86 205.57 L1122.10 214.89 L1122.22 214.33 L1122.46 188.63 L1122.58 181.92 L1122.82 208.74 L1122.94 209.14 L1123.18 204.51 L1123.30 204.50 L1123.54 207.90 L1123.78 215.81 L1123.90 186.59 L1124.02 216.96 L1124.26 222.40 L1124.50 226.61 L1124.62 207.33 L1124.74 208.96 L1124.98 212.39 L1125.22 219.24 L1125.34 184.84 L1125.46 189.46 L1125.70 231.53 L1125.82 230.27 L1126.06 222.44 L1126.18 231.05 L1126.42 216.55 L1126.54 229.07 L1126.78 217.85 L1127.02 216.24 L1127.14 225.95 L1127.38 217.62 L1127.50 228.61 L1127.62 214.39 L1127.74 211.95 L1127.98 213.73 L1128.22 208.92 L1128.46 210.86 L1128.58 211.53 L1128.82 187.49 L1128.94 231.77 L1129.18 214.10 L1129.30 212.12 L1129.42 213.65 L1129.66 218.54 L1129.78 232.53 L1129.90 222.42 L1130.14 221.57 L1130.38 225.87 L1130.50 192.99 L1130.62 227.32 L1130.86 218.50 L1131.10 214.23 L1131.22 217.76 L1131.34 221.64 L1131.58 191.58 L1131.82 221.16 L1131.94 223.17 L1132.18 215.30 L1132.42 208.30 L1132.54 233.15 L1132.66 213.74 L1132.90 226.70 L1133.02 229.07 L1133.14 225.15 L1133.38 226.85 L1133.62 215.42 L1133.74 212.68 L1133.86 217.39 L1134.10 210.63 L1134.34 213.83 L1134.46 209.57 L1134.58 216.94 L1134.94 220.06 L1135.06 216.91 L1135.18 216.28 L1135.42 214.80 L1135.54 217.52 L1135.78 195.73 L1135.91 211.75 L1136.15 207.84 L1136.27 209.41 L1136.51 213.82 L1136.63 213.69 L1136.87 191.90 L1136.99 220.63 L1137.23 219.26 L1137.35 194.87 L1137.47 217.57 L1137.71 197.00 L1137.95 193.83 L1138.07 196.88 L1138.19 212.14 L1138.43 203.03 L1138.55 206.78 L1138.79 207.05 L1139.03 215.61 L1139.15 212.40 L1139.39 234.82 L1139.51 220.02 L1139.75 224.22 L1139.87 219.47 L1140.11 226.91 L1140.23 219.83 L1140.47 208.30 L1140.59 205.97 L1140.83 210.67 L1141.07 210.89 L1141.19 214.83 L1141.31 212.90 L1141.55 199.98 L1141.67 203.48 L1141.91 197.75 L1142.03 196.44 L1142.27 201.44 L1142.39 195.30 L1142.63 200.63 L1142.75 203.94 L1142.99 216.16 L1143.23 211.37 L1143.35 215.82 L1143.59 222.60 L1143.71 220.95 L1143.83 216.45 L1144.07 220.00 L1144.19 215.94 L1144.43 211.12 L1144.67 213.84 L1144.79 218.76 L1144.91 223.59 L1145.15 227.99 L1145.27 230.83 L1145.39 235.02 L1145.63 232.72 L1145.87 237.71 L1146.11 234.35 L1146.23 237.75 L1146.35 237.74 L1146.47 233.70 L1146.71 232.84 L1146.95 219.55 L1147.07 219.68 L1147.19 237.05 L1147.55 215.60 L1147.67 237.26 L1147.91 214.89 L1148.03 197.65 L1148.15 218.87 L1148.39 228.41 L1148.51 227.28 L1148.75 199.80 L1148.99 216.97 L1149.11 221.54 L1149.35 223.47 L1149.47 236.57 L1149.71 236.62 L1149.83 195.40 L1149.95 221.27 L1150.19 233.32 L1150.31 223.57 L1150.55 197.79 L1150.67 218.63 L1150.91 198.09 L1151.03 212.35 L1151.27 222.25 L1151.51 232.92 L1151.63 213.58 L1151.87 238.12 L1151.99 222.32 L1152.11 197.66 L1152.36 222.48 L1152.48 220.43 L1152.72 237.50 L1152.96 236.58 L1153.08 232.15 L1153.32 233.91 L1153.44 237.89 L1153.56 237.86 L1153.80 229.27 L1153.92 234.86 L1154.16 198.78 L1154.28 229.62 L1154.52 218.24 L1154.64 232.79 L1154.88 210.69 L1155.00 204.97 L1155.24 211.60 L1155.36 209.33 L1155.48 202.97 L1155.84 210.47 L1155.96 197.51 L1156.20 214.44 L1156.32 217.73 L1156.44 216.98 L1156.56 210.03 L1156.92 213.15 L1157.04 215.58 L1157.16 234.97 L1157.28 213.33 L1157.52 211.77 L1157.64 206.46 L1157.88 203.22 L1158.00 232.72 L1158.36 200.93 L1158.48 194.41 L1158.60 201.62 L1158.84 206.88 L1159.08 234.92 L1159.20 207.93 L1159.32 211.66 L1159.56 208.74 L1159.80 208.22 L1159.92 199.91 L1160.16 235.40 L1160.28 206.38 L1160.40 206.98 L1160.64 211.94 L1160.88 212.06 L1161.00 206.79 L1161.12 202.10 L1161.36 207.27 L1161.60 192.78 L1161.72 212.24 L1161.84 213.37 L1161.96 194.71 L1162.20 213.67 L1162.44 211.68 L1162.68 217.20 L1162.80 215.20 L1163.04 217.09 L1163.16 219.42 L1163.40 213.13 L1163.52 233.03 L1163.76 218.37 L1163.88 192.32 L1164.00 223.01 L1164.24 221.39 L1164.36 222.91 L1164.60 217.22 L1164.72 220.64 L1164.84 191.15 L1165.08 223.28 L1165.32 220.83 L1165.44 221.02 L1165.68 214.46 L1165.80 231.36 L1165.92 215.13 L1166.04 210.25 L1166.28 204.02 L1166.52 203.20 L1166.64 210.61 L1166.76 232.63 L1166.88 205.03 L1167.12 208.70 L1167.24 204.67 L1167.48 206.40 L1167.60 204.82 L1167.84 207.34 L1168.08 189.86 L1168.20 202.94 L1168.32 206.21 L1168.56 209.81 L1168.81 223.07 L1169.05 221.16 L1169.17 219.38 L1169.29 220.36 L1169.53 212.55 L1169.65 230.30 L1169.89 189.37 L1170.13 217.32 L1170.25 216.27 L1170.37 215.23 L1170.49 218.39 L1170.85 223.62 L1170.97 191.73 L1171.21 219.19 L1171.33 223.03 L1171.45 220.12 L1171.69 193.83 L1171.93 227.95 L1172.05 223.24 L1172.17 223.64 L1172.29 220.39 L1172.53 214.37 L1172.65 227.12 L1172.89 217.18 L1173.01 207.94 L1173.25 213.08 L1173.49 211.82 L1173.61 210.58 L1173.73 214.76 L1174.09 205.38 L1174.21 227.74 L1174.45 218.10 L1174.57 214.53 L1174.69 216.09 L1174.81 219.25 L1175.05 220.56 L1175.29 226.08 L1175.53 226.29 L1175.65 220.29 L1175.77 189.22 L1176.01 225.62 L1176.25 190.17 L1176.37 225.59 L1176.61 192.40 L1176.73 221.70 L1176.85 217.36 L1177.09 188.22 L1177.33 212.92 L1177.45 207.77 L1177.57 210.92 L1177.69 208.61 L1178.05 228.85 L1178.17 191.57 L1178.29 216.80 L1178.53 203.51 L1178.77 210.19 L1178.89 203.71 L1179.01 206.19 L1179.25 229.26 L1179.37 214.77 L1179.61 186.49 L1179.73 210.03 L1179.97 214.70 L1180.09 212.98 L1180.33 210.71 L1180.57 229.98 L1180.69 202.53 L1180.81 201.66 L1181.05 206.81 L1181.17 204.66 L1181.41 215.69 L1181.53 181.39 L1181.77 213.11 L1182.01 214.46 L1182.13 218.91 L1182.25 215.07 L1182.49 211.59 L1182.73 227.14 L1182.85 181.42 L1182.97 189.14 L1183.09 215.18 L1183.45 227.98 L1183.57 211.41 L1183.81 217.95 L1183.93 187.14 L1184.05 211.53 L1184.29 205.85 L1184.41 204.15 L1184.65 185.89 L1184.89 207.58 L1185.02 206.29 L1185.26 205.01 L1185.38 208.81 L1185.50 216.30 L1185.62 207.22 L1185.86 208.98 L1186.10 223.38 L1186.34 204.66 L1186.46 203.97 L1186.70 204.59 L1186.82 203.63 L1186.94 211.20 L1187.18 206.42 L1187.30 202.97 L1187.54 224.34 L1187.66 208.53 L1187.90 202.72 L1188.02 205.05 L1188.14 226.68 L1188.50 203.44 L1188.62 223.82 L1188.74 187.11 L1188.86 204.36 L1189.10 202.99 L1189.34 212.08 L1189.46 213.19 L1189.58 215.20 L1189.94 212.26 L1190.06 214.94 L1190.18 188.59 L1190.42 221.97 L1190.54 216.51 L1190.78 209.47 L1191.02 187.99 L1191.14 214.63 L1191.26 187.44 L1191.38 214.62 L1191.74 211.88 L1191.86 223.65 L1191.98 211.55 L1192.10 196.02 L1192.34 203.44 L1192.58 208.06 L1192.70 208.11 L1192.94 216.87 L1193.06 217.36 L1193.18 215.10 L1193.54 214.64 L1193.66 217.72 L1193.78 218.86 L1194.02 222.00 L1194.26 216.83 L1194.38 193.32 L1194.62 224.16 L1194.74 215.11 L1194.98 213.19 L1195.10 214.77 L1195.22 215.23 L1195.46 211.17 L1195.58 211.89 L1195.70 209.51 L1195.94 209.90 L1196.06 194.52 L1196.30 201.08 L1196.54 202.96 L1196.66 222.91 L1196.78 207.11 L1197.14 207.80 L1197.26 212.10 L1197.38 222.52 L1197.62 207.71 L1197.74 210.83 L1197.98 207.83 L1198.10 209.48 L1198.22 212.36 L1198.46 212.77 L1198.70 189.38 L1198.82 211.32 L1199.06 209.52 L1199.18 207.38 L1199.42 209.33 L1199.54 207.42 L1199.78 212.63 L1200.02 222.56 L1200.14 210.72 L1200.38 210.07 L1200.50 222.69 L1200.62 206.47 L1200.74 203.60 L1200.98 204.15 L1201.10 208.73 L1201.35 205.26 L1201.59 220.85 L1201.83 198.39 L1201.95 199.41 L1202.07 186.51 L1202.19 199.80 L1202.43 198.14 L1202.67 207.36 L1202.79 210.05 L1202.91 191.62 L1203.15 210.98 L1203.39 188.43 L1203.51 208.80 L1203.75 210.19 L1203.87 185.96 L1204.11 206.47 L1204.23 222.53 L1204.35 209.15 L1204.71 209.67 L1204.83 211.95 L1205.07 215.46 L1205.19 218.76 L1205.31 217.33 L1205.43 189.89 L1205.67 207.56 L1205.91 210.83 L1206.03 209.19 L1206.15 224.16 L1206.39 212.48 L1206.51 210.21 L1206.75 208.57 L1206.99 212.45 L1207.23 211.03 L1207.35 224.53 L1207.47 224.94 L1207.59 211.44 L1207.83 216.69 L1208.07 183.80 L1208.19 204.42 L1208.31 199.73 L1208.67 199.63 L1208.79 203.52 L1208.91 204.10 L1209.03 201.84 L1209.27 200.62 L1209.51 198.90 L1209.75 223.66 L1209.87 199.81 L1209.99 201.39 L1210.23 204.57 L1210.35 224.04 L1210.47 205.17 L1210.71 211.52 L1210.95 189.00 L1211.19 207.32 L1211.31 209.29 L1211.43 210.00 L1211.67 214.84 L1211.79 214.59 L1211.91 186.09 L1212.27 208.43 L1212.39 213.05 L1212.63 208.99 L1212.75 210.89 L1212.87 209.10 L1213.11 199.69 L1213.23 202.88 L1213.35 200.06 L1213.59 204.08 L1213.71 201.51 L1214.07 223.82 L1214.19 196.12 L1214.31 198.01 L1214.55 201.03 L1214.67 203.64 L1214.91 198.31 L1215.03 191.57 L1215.15 199.80 L1215.39 227.17 L1215.51 199.56 L1215.75 197.66 L1215.87 192.11 L1216.11 195.96 L1216.35 191.61 L1216.47 193.39 L1216.59 188.64 L1216.83 192.70 L1216.95 222.09 L1217.31 190.93 L1217.43 227.15 L1217.55 191.88 L1217.80 198.41 L1218.04 201.58 L1218.16 196.52 L1218.28 225.56 L1218.52 195.47 L1218.76 203.05 L1218.88 186.47 L1219.12 227.25 L1219.24 200.28 L1219.48 205.27 L1219.60 185.84 L1219.72 208.91 L1219.84 199.01 L1220.20 204.24 L1220.32 199.58 L1220.56 200.98 L1220.68 188.61 L1220.80 204.99 L1220.92 201.36 L1221.16 208.28 L1221.40 212.89 L1221.64 217.39 L1221.76 214.11 L1222.00 208.54 L1222.12 212.41 L1222.36 228.47 L1222.48 206.90 L1222.72 211.97 L1222.84 188.55 L1223.08 185.47 L1223.20 216.52 L1223.44 216.10 L1223.56 185.77 L1223.80 221.37 L1223.92 216.24 L1224.04 214.00 L1224.16 210.33 L1224.40 217.02 L1224.64 190.27 L1224.76 191.31 L1224.88 205.69 L1225.12 204.60 L1225.36 226.56 L1225.48 204.60 L1225.72 212.52 L1225.84 213.20 L1225.96 184.87 L1226.20 227.91 L1226.44 202.07 L1226.68 198.95 L1226.80 200.32 L1226.92 203.35 L1227.04 226.77 L1227.28 212.81 L1227.52 184.96 L1227.64 216.77 L1227.76 191.43 L1228.00 207.65 L1228.12 204.15 L1228.36 206.21 L1228.60 207.01 L1228.84 211.61 L1228.96 183.84 L1229.20 224.95 L1229.32 200.86 L1229.44 228.02 L1229.56 203.24 L1229.92 205.35 L1230.04 185.54 L1230.16 203.07 L1230.40 206.49 L1230.52 205.66 L1230.64 228.90 L1230.88 206.75 L1231.00 225.47 L1231.36 210.33 L1231.48 212.97 L1231.60 214.43 L1231.84 225.04 L1232.08 214.92 L1232.20 208.78 L1232.32 187.02 L1232.56 204.22 L1232.80 224.71 L1232.92 195.95 L1233.04 203.63 L1233.16 187.08 L1233.52 198.17 L1233.64 203.36 L1233.76 204.54 L1234.00 199.97 L1234.13 200.16 L1234.25 206.56 L1234.49 207.71 L1234.73 218.37 L1234.85 227.92 L1235.09 189.09 L1235.21 184.83 L1235.33 216.19 L1235.57 207.18 L1235.81 204.68 L1235.93 206.97 L1236.17 213.17 L1236.29 206.47 L1236.41 207.45 L1236.65 184.10 L1236.77 206.37 L1237.01 198.21 L1237.25 223.00 L1237.49 212.50 L1237.61 207.86 L1237.85 211.89 L1237.97 225.69 L1238.09 184.12 L1238.21 216.19 L1238.57 213.16 L1238.69 215.88 L1238.81 208.01 L1238.93 212.39 L1239.29 186.57 L1239.41 220.91 L1239.53 218.82 L1239.65 223.13 L1240.01 225.96 L1240.13 213.12 L1240.25 207.84 L1240.37 202.64 L1240.61 203.05 L1240.85 207.30 L1240.97 225.32 L1241.09 208.59 L1241.33 188.03 L1241.45 203.98 L1241.69 199.20 L1241.93 196.33 L1242.05 194.33 L1242.17 221.47 L1242.53 191.49 L1242.65 199.38 L1242.89 196.13 L1243.01 223.42 L1243.13 198.17 L1243.37 224.32 L1243.49 197.82 L1243.61 208.91 L1243.85 201.74 L1244.09 197.84 L1244.21 222.93 L1244.45 200.24 
" clip-path="url(#p23485c00ad)" style="fill: none; stroke: #000000; stroke-width: 1.8; stroke-linecap: square"/>
</g>
</g>
<g id="axes_5">
<g id="matplotlib.axis_9">
<g id="ytick_50">
<g id="line2d_126">
<defs>
<path id="mbd01cde865" d="M 0 0 L-3.6 0 
" style="stroke: #ff0000; stroke-width: 0.72"/>
</defs>
<g>
<use href="#mbd01cde865" x="1296" y="327.326" style="fill: #ff0000; stroke: #ff0000; stroke-width: 0.72"/>
</g>
</g>
<g id="text_49">
<text x="1299.947" y="332.726" style="font-size: 15.192px; fill: #ff0000" textLength="8.568" lengthAdjust="spacingAndGlyphs">0</text>
</g>
</g>
<g id="ytick_51">
<g id="line2d_127">
<g>
<use href="#mbd01cde865" x="1296" y="277.701" style="fill: #ff0000; stroke: #ff0000; stroke-width: 0.72"/>
</g>
</g>
<g id="text_50">
<text x="1299.835" y="283.101" style="font-size: 15.192px; fill: #ff0000" textLength="27.164" lengthAdjust="spacingAndGlyphs">200</text>
</g>
</g>
<g id="ytick_52">
<g id="line2d_128">
<g>
<use href="#mbd01cde865" x="1296" y="228.075" style="fill: #ff0000; stroke: #ff0000; stroke-width: 0.72"/>
</g>
</g>
<g id="text_51">
<text x="1299.932" y="233.475" style="font-size: 15.192px; fill: #ff0000" textLength="26.973" lengthAdjust="spacingAndGlyphs">400</text>
</g>
</g>
<g id="ytick_53">
<g id="line2d_129">
<g>
<use href="#mbd01cde865" x="1296" y="178.450" style="fill: #ff0000; stroke: #ff0000; stroke-width: 0.72"/>
</g>
</g>
<g id="text_52">
<text x="1299.776" y="183.850" style="font-size: 15.192px; fill: #ff0000" textLength="27.224" lengthAdjust="spacingAndGlyphs">600</text>
</g>
</g>
<g id="ytick_54">
<g id="line2d_130">
<g>
<use href="#mbd01cde865" x="1296" y="128.825" style="fill: #ff0000; stroke: #ff0000; stroke-width: 0.72"/>
</g>
</g>
<g id="text_53">
<text x="1299.870" y="134.225" style="font-size: 15.192px; fill: #ff0000" textLength="27.128" lengthAdjust="spacingAndGlyphs">800</text>
</g>
</g>
<g id="ytick_55">
<g id="line2d_131">
<g>
<use href="#mbd01cde865" x="1296" y="79.2" style="fill: #ff0000; stroke: #ff0000; stroke-width: 0.72"/>
</g>
</g>
<g id="text_54">
<text x="1299.937" y="84.6" style="font-size: 15.192px; fill: #ff0000" textLength="36.334" lengthAdjust="spacingAndGlyphs">1000</text>
</g>
</g>
<g id="text_55">
<text x="0.290" y="0" style="font-size: 18.230px; fill: #ff0000" textLength="100.752" lengthAdjust="spacingAndGlyphs" transform="translate(1354.27 254.023291) rotate(-90)">SW Velocity</text>
<g style="fill: #ff0000" transform="translate(1378.8652 244.047832) rotate(-90)">
<text x="-0.517" y="-0.818" style="font-size:18.230px" textLength="6.742" lengthAdjust="spacingAndGlyphs">(</text>
<text x="12.283" y="-0.818" style="font-size:18.230px" textLength="10.007" lengthAdjust="spacingAndGlyphs">k</text>
<text x="22.248" y="-0.818" style="font-size:18.230px" textLength="16.833" lengthAdjust="spacingAndGlyphs">m</text>
<text x="41.928" y="-0.818" style="font-size:18.230px" textLength="9.003" lengthAdjust="spacingAndGlyphs">s</text>
<text x="51.549" y="-7.326" style="font-size:12.761px" textLength="8.943" lengthAdjust="spacingAndGlyphs">−</text>
<text x="60.991" y="-7.326" style="font-size:12.761px" textLength="7.696" lengthAdjust="spacingAndGlyphs">1</text>
<text x="75.222" y="-0.818" style="font-size:18.230px" textLength="6.742" lengthAdjust="spacingAndGlyphs">)</text>
</g>
</g>
</g>
<g id="line2d_132">
<path d="M 886.52 201.43 L886.64 206.77 L886.88 206.90 L887.00 209.72 L887.12 204.99 L887.24 204.16 L887.60 202.83 L887.72 204.86 L887.84 207.22 L887.96 205.48 L888.32 204.97 L888.44 203.94 L888.56 199.40 L888.68 208.41 L888.92 202.34 L889.16 202.99 L889.28 207.95 L889.40 203.43 L889.64 205.73 L889.88 204.62 L890.00 203.59 L890.12 207.29 L890.36 203.33 L890.60 205.41 L890.84 206.53 L890.96 205.06 L891.20 203.22 L891.32 204.45 L891.56 206.17 L891.68 202.71 L891.80 203.66 L891.92 202.08 L892.16 202.65 L892.28 202.26 L892.52 201.52 L892.76 194.64 L892.88 199.20 L893.12 197.18 L893.36 197.61 L893.48 192.29 L893.60 194.84 L893.84 195.58 L893.96 195.73 L894.08 196.84 L894.32 196.39 L894.56 197.15 L894.68 197.46 L894.92 199.06 L895.04 200.44 L895.28 198.00 L895.40 203.35 L895.64 197.02 L895.76 191.48 L896.00 198.48 L896.12 198.77 L896.36 199.28 L896.48 200.27 L896.72 198.07 L896.84 198.25 L897.08 199.43 L897.20 197.73 L897.44 199.68 L897.56 198.02 L897.80 197.33 L898.04 195.06 L898.16 194.63 L898.28 203.63 L898.40 192.35 L898.64 190.57 L898.88 198.54 L899.12 200.11 L899.24 198.49 L899.48 197.92 L899.60 198.11 L899.84 192.42 L899.96 198.86 L900.08 204.41 L900.20 198.41 L900.44 199.12 L900.68 199.92 L900.80 199.66 L901.04 202.02 L901.16 202.71 L901.40 201.51 L901.52 194.57 L901.64 203.86 L901.88 195.34 L902.00 205.88 L902.24 204.76 L902.48 201.16 L902.60 201.47 L902.84 195.92 L902.97 196.93 L903.21 198.72 L903.33 208.23 L903.45 199.63 L903.69 201.66 L903.81 201.08 L904.05 203.21 L904.29 201.23 L904.41 199.78 L904.65 196.51 L904.77 208.46 L904.89 199.27 L905.25 209.47 L905.37 199.89 L905.49 200.11 L905.61 201.94 L905.97 198.61 L906.09 200.66 L906.21 200.58 L906.33 198.99 L906.57 200.64 L906.81 198.84 L906.93 186.13 L907.05 195.62 L907.29 196.81 L907.53 198.01 L907.65 196.17 L907.89 198.42 L908.01 200.16 L908.25 198.08 L908.37 199.71 L908.61 202.23 L908.73 203.63 L908.85 205.28 L909.09 203.18 L909.21 203.85 L909.57 204.10 L909.69 204.99 L909.81 210.41 L909.93 204.22 L910.29 205.59 L910.41 211.40 L910.53 206.23 L910.77 193.89 L911.01 197.04 L911.13 206.53 L911.25 208.31 L911.37 206.09 L911.61 206.16 L911.85 204.73 L912.09 205.52 L912.21 206.31 L912.33 204.15 L912.57 205.62 L912.69 205.78 L912.81 204.83 L913.05 211.60 L913.17 208.25 L913.41 201.45 L913.53 208.48 L913.77 207.82 L914.01 206.50 L914.13 208.01 L914.25 206.98 L914.61 207.37 L914.73 208.18 L914.85 208.43 L915.09 211.64 L915.33 211.55 L915.45 213.06 L915.69 209.34 L915.81 208.82 L915.93 210.92 L916.17 209.73 L916.29 208.88 L916.41 203.92 L916.65 206.99 L916.89 208.91 L917.01 210.58 L917.13 214.70 L917.49 211.95 L917.61 212.93 L917.85 215.08 L917.97 211.13 L918.09 210.77 L918.33 211.29 L918.57 204.49 L918.69 213.42 L918.81 212.13 L919.05 212.61 L919.29 214.61 L919.41 214.01 L919.54 206.11 L919.66 214.81 L919.90 213.29 L920.02 214.31 L920.26 214.88 L920.50 212.65 L920.62 217.15 L920.74 210.83 L920.98 211.31 L921.22 204.82 L921.34 210.63 L921.58 212.33 L921.82 204.25 L921.94 211.20 L922.06 211.20 L922.30 210.57 L922.54 208.71 L922.66 209.71 L922.90 208.90 L923.02 209.31 L923.14 209.85 L923.26 210.99 L923.50 209.84 L923.62 208.58 L923.98 209.35 L924.10 208.31 L924.22 209.02 L924.46 206.77 L924.70 205.75 L924.82 206.52 L925.06 206.21 L925.18 207.36 L925.30 208.08 L925.54 207.12 L925.66 206.17 L925.90 206.65 L926.02 207.03 L926.26 207.76 L926.38 207.09 L926.50 207.47 L926.86 204.97 L926.98 206.26 L927.10 206.71 L927.34 205.88 L927.46 206.36 L927.70 204.59 L927.82 203.46 L927.94 206.05 L928.18 205.94 L928.42 206.57 L928.66 207.31 L928.78 200.07 L928.90 206.57 L929.14 199.04 L929.26 209.49 L929.50 211.25 L929.62 210.24 L929.86 206.38 L930.10 207.32 L930.22 205.81 L930.34 206.23 L930.46 205.74 L930.70 210.83 L930.94 206.76 L931.18 206.87 L931.30 205.40 L931.42 205.55 L931.66 207.48 L931.78 196.41 L931.90 205.81 L932.14 204.80 L932.26 205.54 L932.62 203.10 L932.74 201.82 L932.86 202.37 L933.10 200.83 L933.34 201.43 L933.46 200.33 L933.58 201.69 L933.70 200.96 L933.94 203.20 L934.06 192.66 L934.42 203.84 L934.54 192.16 L934.66 204.36 L934.90 203.92 L935.02 203.03 L935.14 192.32 L935.38 191.95 L935.50 203.63 L935.74 205.49 L935.98 199.31 L936.11 205.10 L936.23 199.13 L936.47 198.88 L936.59 198.22 L936.83 198.41 L936.95 196.76 L937.19 197.08 L937.31 199.22 L937.55 199.02 L937.67 197.79 L937.91 197.55 L938.15 198.49 L938.27 196.84 L938.51 194.35 L938.63 194.59 L938.87 196.67 L938.99 196.10 L939.11 188.08 L939.35 195.10 L939.47 196.28 L939.71 196.97 L939.95 195.61 L940.07 196.92 L940.19 198.02 L940.55 196.53 L940.67 186.80 L940.79 195.53 L941.03 193.90 L941.15 193.77 L941.39 196.56 L941.51 196.85 L941.63 195.34 L941.87 193.98 L941.99 193.28 L942.23 195.56 L942.35 194.57 L942.59 194.42 L942.71 192.34 L943.07 195.75 L943.19 194.63 L943.31 194.36 L943.43 197.93 L943.67 193.66 L943.91 192.92 L944.03 192.46 L944.27 192.87 L944.39 192.13 L944.51 193.67 L944.75 193.01 L944.99 196.10 L945.23 195.87 L945.35 194.73 L945.47 194.92 L945.59 193.77 L945.83 186.74 L946.07 194.69 L946.31 194.02 L946.43 193.09 L946.55 192.46 L946.79 195.00 L946.91 196.37 L947.03 196.85 L947.27 196.78 L947.51 196.28 L947.63 195.72 L947.75 196.30 L947.99 194.61 L948.23 195.62 L948.35 195.83 L948.59 194.69 L948.71 194.46 L948.95 195.35 L949.19 195.37 L949.31 193.36 L949.55 192.17 L949.67 190.34 L949.79 191.83 L950.03 192.11 L950.15 193.18 L950.27 195.88 L950.51 195.04 L950.75 186.27 L950.87 191.95 L950.99 193.50 L951.23 195.00 L951.47 193.21 L951.59 193.60 L951.71 194.86 L952.07 193.20 L952.19 195.45 L952.43 196.65 L952.55 195.94 L952.80 205.08 L952.92 189.76 L953.04 205.48 L953.28 194.28 L953.40 191.89 L953.52 190.79 L953.76 191.27 L954.00 191.51 L954.24 193.54 L954.36 196.24 L954.48 196.21 L954.72 197.71 L954.96 198.89 L955.08 200.49 L955.20 188.32 L955.32 201.09 L955.56 200.23 L955.80 198.82 L955.92 198.93 L956.16 195.63 L956.28 197.89 L956.52 176.89 L956.76 192.55 L956.88 190.75 L957.00 188.81 L957.24 190.07 L957.36 196.88 L957.60 182.92 L957.72 182.48 L957.96 175.17 L958.20 172.93 L958.32 175.44 L958.32 144.00 L958.44 190.44 L958.56 157.78 L958.80 168.90 L958.92 187.25 L959.28 175.09 L959.40 187.34 L959.52 174.13 L959.64 177.08 L960.00 174.79 L960.12 171.70 L960.36 172.92 L960.48 173.73 L960.60 172.50 L960.72 168.89 L961.08 171.93 L961.20 170.81 L961.44 192.87 L961.56 171.53 L961.80 174.65 L961.92 187.75 L962.16 174.69 L962.28 173.74 L962.40 175.75 L962.64 172.31 L962.64 147.60 L962.76 176.84 L963.00 191.77 L963.24 176.22 L963.36 197.59 L963.48 176.36 L963.72 170.80 L963.84 165.79 L963.96 171.31 L964.20 193.09 L964.32 145.67 L964.56 145.86 L964.68 161.12 L964.92 160.31 L965.16 156.27 L965.28 158.95 L965.52 162.49 L965.76 160.48 L965.88 158.36 L966.00 150.24 L966.24 161.29 L966.36 161.09 L966.60 163.77 L966.72 164.43 L966.96 155.50 L967.08 156.44 L967.20 160.45 L967.56 160.28 L967.68 157.53 L967.80 147.43 L968.04 160.07 L968.16 161.66 L968.40 167.03 L968.64 188.63 L968.76 164.54 L969.00 194.98 L969.12 170.87 L969.25 166.89 L969.49 162.23 L969.61 158.81 L969.84 145.44 L969.85 166.52 L970.09 174.30 L970.21 167.80 L970.33 168.30 L970.57 148.09 L970.69 166.61 L970.93 170.61 L971.05 173.35 L971.29 181.31 L971.41 180.65 L971.53 150.82 L971.89 182.20 L972.01 175.34 L972.13 172.11 L972.37 174.88 L972.49 174.68 L972.61 147.99 L972.85 173.10 L972.97 177.76 L973.21 171.86 L973.33 169.69 L973.57 172.47 L973.81 167.59 L973.93 168.19 L974.17 169.46 L974.29 169.38 L974.53 167.32 L974.65 162.24 L974.89 159.09 L975.13 160.10 L975.25 166.34 L975.37 184.91 L975.49 164.20 L975.73 170.00 L975.97 175.75 L976.09 184.33 L976.33 150.66 L976.45 175.42 L976.57 173.05 L976.81 168.68 L977.05 165.90 L977.17 166.27 L977.41 168.70 L977.65 165.69 L977.77 171.49 L978.01 173.00 L978.13 151.92 L978.25 173.29 L978.49 171.80 L978.73 166.67 L978.85 172.29 L978.97 173.67 L979.09 150.59 L979.20 149.04 L979.45 168.56 L979.57 171.74 L979.69 172.66 L979.81 149.68 L980.17 151.02 L980.29 171.82 L980.41 172.40 L980.65 169.14 L980.77 175.07 L981.01 167.89 L981.13 168.92 L981.37 180.66 L981.61 169.91 L981.73 167.05 L981.97 166.13 L982.09 164.37 L982.21 166.35 L982.45 172.55 L982.57 179.29 L982.81 171.70 L982.93 171.33 L983.05 173.61 L983.29 175.30 L983.53 150.99 L983.65 177.21 L983.89 173.38 L984.01 171.99 L984.13 178.77 L984.37 171.95 L984.61 178.65 L984.85 178.59 L984.97 152.85 L985.09 173.08 L985.33 172.16 L985.45 171.27 L985.69 167.23 L985.94 178.32 L986.06 166.57 L986.18 172.17 L986.42 167.46 L986.54 168.66 L986.78 152.16 L986.90 152.76 L987.14 178.02 L987.26 169.37 L987.38 153.40 L987.62 177.90 L987.86 164.95 L988.10 165.04 L988.22 163.72 L988.34 161.97 L988.58 167.22 L988.70 166.31 L988.94 148.05 L989.06 159.44 L989.30 165.16 L989.42 166.73 L989.66 169.58 L989.78 170.95 L990.02 171.63 L990.14 177.27 L990.38 168.01 L990.50 177.18 L990.62 170.45 L990.86 148.95 L990.98 167.90 L991.34 163.80 L991.46 165.37 L991.58 164.67 L991.82 168.34 L991.94 169.36 L992.06 176.79 L992.30 168.33 L992.54 164.11 L992.66 166.73 L992.78 170.91 L993.02 168.79 L993.26 169.97 L993.38 168.62 L993.62 161.80 L993.74 159.91 L993.98 158.37 L994.22 156.97 L994.34 155.19 L994.58 152.71 L994.70 140.01 L994.82 172.34 L995.06 151.89 L995.18 151.19 L995.30 147.83 L995.54 145.07 L995.66 138.75 L996.02 140.31 L996.14 142.55 L996.26 145.99 L996.38 147.13 L996.62 152.65 L996.86 149.95 L997.10 169.20 L997.20 136.80 L997.22 150.99 L997.46 150.55 L997.58 146.54 L997.70 147.73 L997.94 151.13 L998.18 157.77 L998.30 139.11 L998.42 155.53 L998.66 159.21 L998.78 142.19 L998.90 153.05 L999.26 149.17 L999.38 169.20 L999.50 150.25 L999.74 152.58 L999.86 152.87 L999.98 155.16 L1000.22 153.37 L1000.46 149.85 L1000.58 152.50 L1000.70 155.33 L1000.94 149.96 L1001.06 152.71 L1001.42 148.84 L1001.54 169.20 L1001.66 153.11 L1001.90 148.95 L1002.02 142.72 L1002.14 169.20 L1002.24 190.80 L1002.39 155.60 L1002.51 142.03 L1002.75 155.81 L1002.99 162.15 L1003.11 162.29 L1003.35 161.36 L1003.59 162.04 L1003.71 141.63 L1003.95 165.40 L1004.07 159.69 L1004.19 161.61 L1004.43 165.27 L1004.55 158.65 L1004.79 169.20 L1004.91 154.93 L1005.03 169.20 L1005.27 151.61 L1005.51 169.20 L1005.75 148.42 L1005.87 150.52 L1006.11 150.77 L1006.23 149.44 L1006.47 143.36 L1006.59 149.20 L1006.83 146.38 L1006.95 148.89 L1007.07 150.57 L1007.31 169.20 L1007.43 157.11 L1007.55 169.20 L1007.91 164.96 L1008.03 159.96 L1008.15 143.00 L1008.39 154.99 L1008.51 158.26 L1008.75 155.11 L1008.87 142.80 L1008.99 151.72 L1009.23 149.22 L1009.47 157.27 L1009.59 156.95 L1009.83 162.82 L1009.95 165.98 L1010.07 164.83 L1010.31 168.34 L1010.55 169.84 L1010.79 169.25 L1010.91 169.93 L1011.03 144.61 L1011.27 170.02 L1011.39 170.05 L1011.63 170.11 L1011.75 170.14 L1011.99 170.20 L1012.11 170.23 L1012.35 170.29 L1012.47 170.24 L1012.71 170.38 L1012.83 166.59 L1012.95 165.69 L1013.19 162.98 L1013.43 159.17 L1013.67 170.62 L1013.79 148.90 L1013.91 151.08 L1014.15 152.35 L1014.27 152.69 L1014.51 170.83 L1014.63 156.39 L1014.87 158.97 L1015.11 160.93 L1015.23 158.36 L1015.47 154.12 L1015.59 156.86 L1015.71 163.49 L1015.83 160.44 L1016.07 171.22 L1016.19 155.75 L1016.43 157.36 L1016.67 153.73 L1016.91 158.76 L1017.03 157.13 L1017.15 157.79 L1017.39 147.22 L1017.63 154.91 L1017.75 154.39 L1017.87 156.21 L1018.11 150.52 L1018.23 153.57 L1018.35 152.90 L1018.59 152.30 L1018.84 149.39 L1019.08 151.02 L1019.20 149.34 L1019.44 153.79 L1019.56 149.36 L1019.68 152.61 L1019.92 147.02 L1020.04 152.63 L1020.28 155.99 L1020.40 172.30 L1020.64 151.67 L1020.76 149.65 L1020.96 205.20 L1021.00 147.78 L1021.12 146.83 L1021.36 149.32 L1021.48 147.15 L1021.72 154.95 L1021.84 158.35 L1022.08 149.93 L1022.20 147.85 L1022.44 151.54 L1022.68 152.35 L1022.80 155.72 L1022.92 161.41 L1023.16 173.27 L1023.28 164.36 L1023.52 156.12 L1023.64 155.56 L1023.88 159.79 L1024.00 158.37 L1024.12 149.28 L1024.48 153.92 L1024.60 154.68 L1024.84 155.12 L1024.96 160.37 L1025.08 159.46 L1025.20 162.79 L1025.56 162.03 L1025.68 164.18 L1025.80 163.81 L1026.04 159.37 L1026.16 157.30 L1026.28 159.17 L1026.52 160.25 L1026.76 163.55 L1026.88 161.99 L1027.00 164.73 L1027.24 163.55 L1027.36 165.99 L1027.72 150.52 L1027.84 169.88 L1027.96 169.02 L1028.08 167.04 L1028.44 164.89 L1028.56 162.42 L1028.68 165.27 L1028.92 167.50 L1029.16 176.74 L1029.28 150.95 L1029.40 162.13 L1029.52 159.29 L1029.76 159.81 L1030.00 175.43 L1030.24 177.66 L1030.36 162.65 L1030.60 157.88 L1030.72 176.33 L1030.84 153.19 L1031.08 157.81 L1031.20 151.48 L1031.32 156.58 L1031.56 157.81 L1031.80 175.26 L1032.04 151.72 L1032.16 161.91 L1032.28 161.30 L1032.40 155.11 L1032.64 159.74 L1032.76 156.20 L1033.12 162.64 L1033.24 161.41 L1033.48 161.16 L1033.60 162.05 L1033.72 152.03 L1033.84 165.55 L1034.08 165.99 L1034.32 161.39 L1034.44 162.28 L1034.56 166.90 L1034.80 152.15 L1034.92 162.71 L1035.16 161.97 L1035.41 163.15 L1035.53 163.57 L1035.65 166.29 L1035.89 163.97 L1036.13 169.55 L1036.25 155.62 L1036.37 166.34 L1036.61 171.00 L1036.85 174.55 L1036.97 154.74 L1037.21 183.79 L1037.45 161.71 L1037.57 185.16 L1037.69 185.76 L1038.05 180.03 L1038.29 177.45 L1038.41 185.76 L1038.65 173.67 L1038.77 171.69 L1039.01 172.92 L1039.13 174.12 L1039.37 172.85 L1039.49 170.67 L1039.61 171.57 L1039.85 173.61 L1039.97 178.20 L1040.21 174.98 L1040.45 170.57 L1040.57 171.42 L1040.69 172.83 L1041.05 174.92 L1041.17 173.95 L1041.41 162.70 L1041.53 178.71 L1041.65 180.18 L1041.77 181.72 L1042.13 179.24 L1042.25 163.88 L1042.49 174.34 L1042.61 177.72 L1042.85 179.52 L1042.97 165.89 L1043.21 177.81 L1043.33 179.53 L1043.45 178.76 L1043.57 174.61 L1043.81 176.88 L1044.05 175.98 L1044.17 174.08 L1044.41 168.43 L1044.53 167.74 L1044.77 169.72 L1045.01 168.36 L1045.13 172.37 L1045.25 173.58 L1045.49 185.76 L1045.73 170.83 L1045.85 166.48 L1045.97 168.02 L1046.09 166.59 L1046.33 168.20 L1046.57 168.48 L1046.81 171.97 L1046.93 166.43 L1047.05 165.86 L1047.29 165.84 L1047.53 165.79 L1047.65 185.76 L1047.77 167.23 L1048.01 170.61 L1048.13 172.34 L1048.25 171.15 L1048.49 170.66 L1048.73 173.79 L1048.85 166.39 L1048.97 185.76 L1049.33 170.20 L1049.45 172.13 L1049.69 175.40 L1049.81 174.45 L1049.93 175.50 L1050.17 179.45 L1050.29 181.29 L1050.41 180.40 L1050.65 180.19 L1050.77 165.60 L1051.01 175.53 L1051.25 179.88 L1051.49 166.57 L1051.61 181.96 L1051.73 181.37 L1051.85 179.67 L1052.22 178.61 L1052.34 177.92 L1052.46 177.99 L1052.58 181.48 L1052.82 178.77 L1053.06 182.38 L1053.30 180.41 L1053.42 182.83 L1053.54 181.48 L1053.66 185.03 L1053.90 165.70 L1054.02 185.76 L1054.26 184.13 L1054.38 185.76 L1054.62 185.29 L1054.74 184.08 L1055.10 184.33 L1055.22 185.76 L1055.34 183.81 L1055.58 177.18 L1055.82 181.85 L1055.94 183.71 L1056.06 185.76 L1056.30 179.04 L1056.42 185.76 L1056.54 180.89 L1056.90 165.36 L1057.02 180.61 L1057.14 178.24 L1057.38 179.84 L1057.50 178.13 L1057.62 181.23 L1057.86 180.49 L1057.98 165.67 L1058.22 181.46 L1058.46 185.77 L1058.70 176.43 L1058.82 172.78 L1059.06 173.36 L1059.18 185.86 L1059.30 174.81 L1059.42 178.17 L1059.66 164.48 L1059.78 175.69 L1060.14 172.85 L1060.26 169.65 L1060.38 186.00 L1060.50 164.98 L1060.74 168.20 L1060.98 168.64 L1061.10 169.61 L1061.22 173.04 L1061.58 176.34 L1061.70 166.03 L1061.82 177.47 L1061.94 181.40 L1062.30 177.51 L1062.42 176.13 L1062.66 167.05 L1062.78 177.61 L1062.90 186.37 L1063.14 165.22 L1063.26 175.97 L1063.38 172.61 L1063.62 177.80 L1063.86 174.61 L1064.10 174.88 L1064.22 186.72 L1064.34 174.37 L1064.58 176.08 L1064.70 165.21 L1064.82 175.13 L1065.06 176.44 L1065.18 178.09 L1065.42 179.17 L1065.66 176.50 L1065.78 175.73 L1066.02 173.04 L1066.14 171.47 L1066.26 174.22 L1066.62 176.90 L1066.74 173.73 L1066.86 173.77 L1067.10 172.68 L1067.22 172.70 L1067.34 177.03 L1067.58 174.48 L1067.82 172.31 L1068.06 176.20 L1068.18 179.13 L1068.30 176.17 L1068.55 167.77 L1068.79 174.94 L1068.91 166.48 L1069.03 175.77 L1069.15 173.31 L1069.51 175.79 L1069.63 174.18 L1069.87 177.61 L1069.99 175.23 L1070.11 177.01 L1070.35 173.98 L1070.47 173.72 L1070.71 179.32 L1070.83 178.75 L1070.95 187.72 L1071.19 179.75 L1071.31 176.67 L1071.67 174.15 L1071.79 171.67 L1071.91 188.27 L1072.15 174.02 L1072.39 177.95 L1072.51 168.72 L1072.75 171.34 L1072.87 172.42 L1072.99 170.92 L1073.23 172.46 L1073.35 174.30 L1073.59 177.75 L1073.71 176.20 L1073.95 172.94 L1074.07 174.66 L1074.19 178.92 L1074.43 177.50 L1074.67 184.68 L1074.79 188.11 L1074.91 186.63 L1075.15 189.95 L1075.39 184.45 L1075.51 183.54 L1075.63 186.37 L1075.87 185.78 L1076.11 191.96 L1076.23 189.49 L1076.47 169.15 L1076.71 168.98 L1076.83 186.63 L1077.07 183.46 L1077.19 185.92 L1077.31 184.89 L1077.43 181.83 L1077.67 181.52 L1077.79 180.06 L1078.15 183.26 L1078.27 168.96 L1078.39 185.96 L1078.51 186.60 L1078.87 183.71 L1078.99 187.73 L1079.23 188.65 L1079.35 190.22 L1079.59 190.78 L1079.71 190.41 L1079.83 190.74 L1080.07 187.08 L1080.19 187.05 L1080.31 187.70 L1080.55 186.26 L1080.79 185.71 L1080.91 183.23 L1081.15 181.36 L1081.27 178.96 L1081.51 196.64 L1081.63 182.08 L1081.87 170.01 L1082.11 196.17 L1082.23 181.94 L1082.35 184.11 L1082.59 179.90 L1082.83 173.13 L1082.95 181.26 L1083.19 200.03 L1083.31 178.71 L1083.43 180.52 L1083.67 184.23 L1083.91 187.47 L1084.03 186.06 L1084.27 185.67 L1084.39 187.31 L1084.51 188.50 L1084.63 191.63 L1084.87 189.87 L1085.12 187.50 L1085.24 187.11 L1085.48 189.64 L1085.60 191.56 L1085.72 190.87 L1085.84 190.54 L1086.08 183.61 L1086.20 184.16 L1086.44 201.17 L1086.56 184.94 L1086.68 187.30 L1086.92 186.35 L1087.04 185.48 L1087.28 200.75 L1087.40 175.84 L1087.64 188.41 L1087.88 186.27 L1088.12 190.38 L1088.24 178.09 L1088.36 176.40 L1088.48 202.15 L1088.84 188.01 L1088.96 190.69 L1089.08 188.84 L1089.32 193.70 L1089.56 178.48 L1089.68 191.68 L1089.92 176.93 L1090.04 197.25 L1090.16 197.04 L1090.40 193.61 L1090.64 193.59 L1090.76 179.55 L1090.88 191.20 L1091.12 195.65 L1091.24 196.33 L1091.48 199.62 L1091.60 177.85 L1091.72 198.40 L1091.96 201.24 L1092.08 194.40 L1092.32 193.97 L1092.56 197.14 L1092.68 200.88 L1092.80 179.58 L1093.04 197.68 L1093.16 195.18 L1093.40 199.12 L1093.64 195.24 L1093.76 195.12 L1093.88 193.48 L1094.12 193.42 L1094.36 191.14 L1094.48 191.19 L1094.60 180.97 L1094.96 193.92 L1095.08 180.27 L1095.32 198.07 L1095.44 195.90 L1095.56 193.89 L1095.80 195.77 L1095.92 199.19 L1096.16 191.18 L1096.28 201.21 L1096.52 188.95 L1096.64 180.20 L1096.88 189.39 L1097.00 187.07 L1097.24 185.90 L1097.36 189.08 L1097.48 187.70 L1097.84 190.03 L1097.96 189.30 L1098.08 189.52 L1098.20 192.02 L1098.44 180.07 L1098.68 201.19 L1098.92 191.40 L1099.04 179.91 L1099.28 179.62 L1099.40 189.50 L1099.64 190.17 L1099.76 200.84 L1099.88 190.33 L1100.00 191.51 L1100.24 190.97 L1100.48 193.93 L1100.60 180.17 L1100.84 190.46 L1101.08 194.74 L1101.20 180.40 L1101.32 195.29 L1101.57 180.08 L1101.81 199.69 L1101.93 185.52 L1102.05 183.22 L1102.17 201.11 L1102.41 179.97 L1102.65 189.71 L1102.77 189.09 L1103.01 201.10 L1103.13 188.06 L1103.25 180.11 L1103.61 186.91 L1103.73 201.24 L1103.85 188.26 L1104.09 187.32 L1104.21 187.16 L1104.33 180.12 L1104.69 184.41 L1104.81 182.61 L1104.93 185.81 L1105.05 186.84 L1105.41 183.92 L1105.53 183.72 L1105.65 185.23 L1105.89 190.07 L1106.01 191.47 L1106.25 196.38 L1106.49 197.93 L1106.61 196.20 L1106.85 196.61 L1106.97 192.75 L1107.21 195.60 L1107.33 196.51 L1107.57 191.72 L1107.69 189.33 L1107.81 189.18 L1108.05 185.02 L1108.17 182.00 L1108.29 185.14 L1108.53 182.24 L1108.65 179.74 L1109.01 184.39 L1109.13 182.97 L1109.25 183.23 L1109.37 182.32 L1109.61 181.43 L1109.85 189.72 L1109.97 188.96 L1110.09 187.10 L1110.33 188.14 L1110.45 190.27 L1110.69 179.21 L1110.93 200.19 L1111.05 189.57 L1111.17 199.90 L1111.41 187.65 L1111.65 189.43 L1111.89 186.05 L1112.01 184.95 L1112.25 183.08 L1112.37 185.24 L1112.49 186.97 L1112.73 190.36 L1112.85 191.41 L1113.09 194.82 L1113.21 178.44 L1113.33 195.96 L1113.69 193.77 L1113.81 196.83 L1113.93 197.36 L1114.05 195.00 L1114.41 196.29 L1114.53 178.01 L1114.65 195.23 L1114.89 192.14 L1115.13 191.57 L1115.25 200.86 L1115.37 193.81 L1115.61 178.67 L1115.73 193.89 L1115.97 192.25 L1116.21 194.87 L1116.33 177.93 L1116.45 196.77 L1116.57 194.12 L1116.81 201.03 L1116.93 196.46 L1117.17 196.19 L1117.29 199.89 L1117.53 198.04 L1117.77 201.72 L1118.01 201.80 L1118.14 200.69 L1118.26 200.73 L1118.38 196.15 L1118.62 197.11 L1118.86 191.19 L1118.98 189.15 L1119.22 183.69 L1119.46 183.20 L1119.58 181.68 L1119.70 185.01 L1119.94 191.33 L1120.18 189.40 L1120.30 201.02 L1120.54 187.17 L1120.66 190.15 L1120.78 188.40 L1120.90 190.46 L1121.14 201.24 L1121.26 187.30 L1121.50 189.25 L1121.74 187.66 L1121.86 185.63 L1122.10 188.66 L1122.22 190.97 L1122.46 201.85 L1122.58 190.53 L1122.70 177.44 L1122.94 187.37 L1123.18 177.52 L1123.30 187.45 L1123.42 186.63 L1123.78 182.26 L1123.90 184.22 L1124.14 187.49 L1124.26 190.48 L1124.50 192.51 L1124.62 189.73 L1124.86 192.79 L1124.98 190.04 L1125.10 190.07 L1125.34 187.56 L1125.46 188.52 L1125.70 186.76 L1125.82 187.41 L1126.06 185.60 L1126.30 185.33 L1126.42 184.02 L1126.54 182.54 L1126.78 179.45 L1126.90 181.10 L1127.14 184.05 L1127.26 182.03 L1127.38 179.84 L1127.62 179.99 L1127.86 180.92 L1128.10 181.76 L1128.22 186.48 L1128.34 184.69 L1128.46 184.50 L1128.70 183.51 L1128.82 180.77 L1129.18 192.85 L1129.30 181.40 L1129.54 188.90 L1129.66 191.54 L1129.78 191.79 L1129.90 182.15 L1130.26 190.11 L1130.38 190.80 L1130.62 191.75 L1130.74 191.66 L1130.86 191.01 L1130.98 182.59 L1131.22 184.25 L1131.46 186.38 L1131.58 185.94 L1131.70 183.08 L1131.94 183.96 L1132.06 182.88 L1132.30 183.40 L1132.54 187.16 L1132.66 186.89 L1132.90 183.43 L1133.02 183.50 L1133.26 183.66 L1133.38 183.74 L1133.50 184.69 L1133.86 186.83 L1133.98 185.42 L1134.22 184.29 L1134.34 186.79 L1134.46 186.06 L1134.71 189.99 L1134.83 190.13 L1134.95 191.30 L1135.31 188.18 L1135.43 190.39 L1135.55 195.33 L1135.67 193.26 L1135.91 196.79 L1136.15 202.82 L1136.27 201.99 L1136.39 203.96 L1136.75 200.85 L1136.87 185.47 L1136.99 185.51 L1137.11 201.73 L1137.47 185.71 L1137.59 203.27 L1137.71 203.25 L1137.95 201.11 L1138.07 205.02 L1138.31 200.84 L1138.43 203.50 L1138.67 200.70 L1138.91 200.20 L1139.03 197.93 L1139.27 197.87 L1139.39 198.77 L1139.51 199.88 L1139.75 203.93 L1139.87 201.68 L1140.11 198.76 L1140.23 198.20 L1140.47 200.25 L1140.59 203.15 L1140.71 185.45 L1140.95 197.05 L1141.19 203.61 L1141.31 190.77 L1141.55 192.16 L1141.67 189.51 L1141.91 191.31 L1142.03 192.85 L1142.15 194.82 L1142.51 195.26 L1142.63 193.22 L1142.75 194.23 L1142.87 191.40 L1143.11 194.55 L1143.23 193.27 L1143.47 192.33 L1143.71 195.38 L1143.95 185.13 L1144.07 197.26 L1144.31 198.23 L1144.43 196.53 L1144.55 195.87 L1144.79 199.02 L1145.03 196.03 L1145.15 202.06 L1145.27 198.50 L1145.39 196.71 L1145.63 201.63 L1145.87 196.27 L1145.99 194.21 L1146.11 194.36 L1146.35 194.15 L1146.47 192.55 L1146.71 201.51 L1146.83 191.59 L1147.19 196.47 L1147.31 197.75 L1147.43 195.77 L1147.67 199.78 L1147.79 201.10 L1148.03 201.03 L1148.15 184.44 L1148.27 200.93 L1148.51 200.86 L1148.75 200.81 L1148.87 200.79 L1149.11 184.37 L1149.23 200.72 L1149.47 200.67 L1149.59 200.64 L1149.83 200.60 L1149.95 200.57 L1150.19 200.52 L1150.31 200.50 L1150.55 200.45 L1150.67 200.43 L1150.91 200.38 L1151.03 200.36 L1151.28 195.80 L1151.40 193.22 L1151.64 191.73 L1151.76 194.46 L1152.00 190.89 L1152.24 194.93 L1152.36 183.85 L1152.60 195.46 L1152.72 192.37 L1152.96 191.77 L1153.08 193.07 L1153.20 183.50 L1153.32 193.65 L1153.68 192.58 L1153.80 200.64 L1154.04 192.35 L1154.16 181.28 L1154.28 196.18 L1154.40 194.32 L1154.64 193.41 L1154.88 197.17 L1155.00 195.75 L1155.12 193.76 L1155.36 193.32 L1155.60 190.98 L1155.72 189.53 L1155.96 190.65 L1156.08 194.32 L1156.32 199.29 L1156.44 197.44 L1156.68 201.41 L1156.80 194.75 L1157.04 180.54 L1157.16 187.27 L1157.40 189.88 L1157.52 188.47 L1157.64 189.36 L1157.88 190.95 L1158.12 178.50 L1158.24 186.79 L1158.48 192.94 L1158.60 191.62 L1158.84 184.68 L1158.96 184.25 L1159.20 180.01 L1159.20 175.68 L1159.44 184.20 L1159.56 180.81 L1159.68 177.71 L1159.92 181.46 L1160.04 184.92 L1160.16 177.40 L1160.40 180.64 L1160.52 187.36 L1160.76 181.79 L1161.00 186.55 L1161.12 182.25 L1161.36 177.26 L1161.48 179.67 L1161.72 182.25 L1161.96 179.91 L1162.08 181.51 L1162.32 178.22 L1162.44 184.61 L1162.56 182.72 L1162.68 182.20 L1162.92 185.24 L1163.16 190.17 L1163.40 191.90 L1163.52 204.32 L1163.76 188.60 L1163.88 204.38 L1164.00 194.44 L1164.12 198.39 L1164.36 196.11 L1164.60 180.53 L1164.72 199.20 L1164.84 180.24 L1165.20 180.63 L1165.32 190.61 L1165.44 190.40 L1165.68 192.67 L1165.80 188.72 L1166.04 185.61 L1166.16 188.43 L1166.28 189.75 L1166.52 205.67 L1166.76 195.66 L1166.88 190.99 L1167.12 193.03 L1167.24 188.68 L1167.48 184.45 L1167.72 187.86 L1167.85 185.08 L1167.97 183.40 L1168.09 182.19 L1168.33 188.32 L1168.57 194.49 L1168.81 194.41 L1168.93 182.55 L1169.05 190.73 L1169.17 205.97 L1169.41 182.64 L1169.53 196.40 L1169.77 195.09 L1169.89 196.44 L1170.13 193.03 L1170.25 196.22 L1170.49 182.84 L1170.73 194.01 L1170.85 194.59 L1170.97 198.95 L1171.33 194.17 L1171.45 193.54 L1171.57 190.05 L1171.69 183.06 L1171.93 183.10 L1172.05 186.56 L1172.41 183.12 L1172.53 185.34 L1172.65 189.70 L1172.89 193.06 L1173.01 195.43 L1173.13 197.56 L1173.49 208.48 L1173.61 190.76 L1173.73 187.87 L1173.97 189.43 L1174.09 191.00 L1174.33 192.15 L1174.45 193.12 L1174.69 189.14 L1174.81 195.21 L1175.05 199.14 L1175.17 207.28 L1175.29 197.59 L1175.53 201.17 L1175.77 203.80 L1176.01 199.44 L1176.13 209.43 L1176.25 192.64 L1176.49 184.65 L1176.73 182.26 L1176.85 187.11 L1176.97 185.71 L1177.21 187.00 L1177.33 187.34 L1177.45 184.99 L1177.69 186.45 L1177.93 191.10 L1178.17 183.16 L1178.29 188.19 L1178.41 184.51 L1178.53 208.27 L1178.77 195.44 L1179.01 193.73 L1179.13 191.63 L1179.37 189.65 L1179.49 209.76 L1179.73 188.37 L1179.85 191.22 L1179.97 188.73 L1180.21 187.75 L1180.33 187.19 L1180.57 186.79 L1180.69 187.20 L1180.93 185.54 L1181.17 187.19 L1181.29 189.95 L1181.53 182.87 L1181.65 186.33 L1181.89 187.06 L1182.01 189.61 L1182.25 195.30 L1182.37 196.56 L1182.49 210.09 L1182.73 197.68 L1182.97 201.33 L1183.09 197.06 L1183.33 196.20 L1183.45 196.94 L1183.69 204.33 L1183.81 201.89 L1183.93 205.48 L1184.17 210.48 L1184.40 180.00 L1184.42 205.73 L1184.66 185.19 L1184.78 206.76 L1184.90 202.42 L1185.02 205.59 L1185.38 210.75 L1185.50 202.88 L1185.62 211.46 L1185.74 194.76 L1186.10 199.79 L1186.22 204.34 L1186.46 210.21 L1186.58 206.57 L1186.70 211.33 L1186.94 212.70 L1187.06 212.04 L1187.30 208.83 L1187.42 207.35 L1187.54 189.36 L1187.78 212.93 L1188.02 205.16 L1188.14 201.39 L1188.26 189.40 L1188.62 203.11 L1188.74 204.63 L1188.86 204.55 L1189.10 201.92 L1189.22 191.85 L1189.34 215.74 L1189.58 204.57 L1189.82 206.85 L1189.94 208.26 L1190.18 204.23 L1190.42 202.12 L1190.54 216.12 L1190.66 204.87 L1190.78 208.44 L1191.14 192.86 L1191.26 210.14 L1191.38 209.43 L1191.62 212.08 L1191.74 211.64 L1191.86 208.50 L1192.10 210.68 L1192.22 212.64 L1192.46 207.58 L1192.58 198.25 L1192.82 204.82 L1192.94 205.38 L1193.18 208.07 L1193.42 204.13 L1193.54 204.70 L1193.78 206.55 L1194.02 207.22 L1194.14 203.78 L1194.38 216.53 L1194.50 198.88 L1194.74 199.79 L1194.86 200.10 L1194.98 200.86 L1195.22 203.05 L1195.34 203.59 L1195.46 200.75 L1195.70 199.86 L1195.94 195.86 L1196.06 195.98 L1196.30 198.39 L1196.54 216.76 L1196.66 196.58 L1196.78 200.00 L1196.90 216.80 L1197.26 202.09 L1197.38 202.99 L1197.50 202.93 L1197.62 206.70 L1197.98 198.58 L1198.10 207.21 L1198.22 207.64 L1198.34 211.54 L1198.70 210.92 L1198.82 209.17 L1199.06 204.47 L1199.18 207.94 L1199.30 199.39 L1199.42 207.85 L1199.78 207.48 L1199.90 206.19 L1200.02 207.53 L1200.26 211.18 L1200.38 211.87 L1200.62 213.36 L1200.87 215.49 L1200.99 214.65 L1201.11 213.32 L1201.35 212.09 L1201.47 210.58 L1201.71 209.13 L1201.95 209.18 L1202.07 209.63 L1202.19 211.53 L1202.43 208.57 L1202.55 209.75 L1202.79 210.38 L1202.91 210.21 L1203.15 206.94 L1203.27 218.13 L1203.51 206.72 L1203.63 218.05 L1203.75 203.27 L1203.99 203.28 L1204.23 206.44 L1204.35 204.26 L1204.59 206.93 L1204.71 208.65 L1204.95 212.44 L1205.07 212.99 L1205.31 218.87 L1205.43 218.50 L1205.67 213.60 L1205.79 214.43 L1206.03 211.82 L1206.15 213.23 L1206.39 211.92 L1206.51 218.85 L1206.75 209.87 L1206.87 201.07 L1206.99 213.19 L1207.23 219.22 L1207.35 211.92 L1207.71 215.63 L1207.83 214.62 L1208.07 216.05 L1208.19 213.91 L1208.43 215.17 L1208.55 213.92 L1208.67 214.66 L1208.91 220.16 L1209.03 213.39 L1209.27 211.57 L1209.39 209.84 L1209.51 207.71 L1209.75 207.05 L1209.99 204.23 L1210.11 208.10 L1210.23 199.90 L1210.47 205.21 L1210.59 206.96 L1210.83 208.56 L1211.07 211.12 L1211.19 199.36 L1211.43 209.71 L1211.55 208.96 L1211.79 208.72 L1211.91 209.89 L1212.15 211.44 L1212.39 210.85 L1212.51 212.32 L1212.63 212.77 L1212.87 214.50 L1212.99 213.52 L1213.23 214.35 L1213.47 216.54 L1213.59 213.03 L1213.71 213.38 L1213.95 221.36 L1214.19 214.28 L1214.31 213.09 L1214.55 197.21 L1214.67 211.65 L1214.91 210.39 L1215.03 208.32 L1215.15 209.82 L1215.39 211.31 L1215.51 210.57 L1215.75 211.37 L1215.87 210.92 L1215.99 207.85 L1216.35 209.70 L1216.47 209.23 L1216.59 204.17 L1216.83 204.64 L1216.95 206.06 L1217.07 207.00 L1217.31 207.62 L1217.56 208.49 L1217.80 209.86 L1217.92 197.81 L1218.04 212.03 L1218.28 216.21 L1218.40 216.77 L1218.64 215.23 L1218.88 215.26 L1219.00 213.90 L1219.12 212.22 L1219.36 213.29 L1219.48 213.55 L1219.72 208.54 L1219.84 209.40 L1220.08 213.17 L1220.32 215.21 L1220.44 212.85 L1220.68 215.13 L1220.80 211.52 L1220.92 213.73 L1221.04 215.70 L1221.28 213.06 L1221.52 215.35 L1221.64 213.37 L1221.76 212.34 L1222.12 215.43 L1222.24 223.55 L1222.36 215.50 L1222.60 217.35 L1222.84 216.82 L1222.96 218.73 L1223.08 218.62 L1223.32 217.26 L1223.44 218.95 L1223.68 215.79 L1223.80 214.22 L1223.92 216.23 L1224.28 199.35 L1224.40 222.56 L1224.52 216.43 L1224.64 215.57 L1224.88 222.60 L1225.00 216.12 L1225.36 216.42 L1225.48 214.23 L1225.60 212.82 L1225.72 214.93 L1225.96 214.04 L1226.20 219.40 L1226.32 203.36 L1226.44 222.34 L1226.68 220.45 L1226.92 222.82 L1227.04 221.55 L1227.28 217.31 L1227.40 217.59 L1227.52 215.10 L1227.76 216.58 L1227.88 215.58 L1228.12 214.29 L1228.24 215.67 L1228.48 216.40 L1228.60 223.17 L1228.84 218.35 L1229.08 203.90 L1229.32 217.19 L1229.44 216.21 L1229.56 215.31 L1229.68 211.34 L1229.92 210.99 L1230.16 212.22 L1230.40 211.38 L1230.52 213.00 L1230.64 214.01 L1230.88 211.44 L1231.00 210.94 L1231.12 208.83 L1231.36 209.27 L1231.60 214.40 L1231.84 212.82 L1231.96 223.79 L1232.08 211.30 L1232.20 213.13 L1232.44 208.98 L1232.68 205.19 L1232.80 205.85 L1232.92 207.69 L1233.16 204.47 L1233.40 224.03 L1233.52 208.43 L1233.76 205.39 L1233.88 205.80 L1234.01 224.18 L1234.25 207.11 L1234.37 204.49 L1234.73 208.48 L1234.85 206.07 L1235.09 205.13 L1235.21 208.59 L1235.45 224.53 L1235.57 206.70 L1235.69 207.19 L1235.93 211.63 L1236.17 206.89 L1236.29 224.73 L1236.41 211.52 L1236.65 209.64 L1236.77 214.16 L1237.01 218.16 L1237.25 206.48 L1237.37 221.07 L1237.49 220.64 L1237.61 219.60 L1237.85 220.21 L1238.09 215.10 L1238.33 219.35 L1238.45 217.85 L1238.57 218.30 L1238.81 221.36 L1238.93 207.57 L1239.05 219.41 L1239.29 219.51 L1239.41 215.26 L1239.65 217.91 L1239.89 216.54 L1240.01 215.31 L1240.25 225.71 L1240.49 214.47 L1240.61 216.45 L1240.85 216.37 L1240.97 214.69 L1241.21 217.23 L1241.33 209.75 L1241.45 216.95 L1241.69 217.67 L1241.93 219.60 L1242.05 220.25 L1242.17 220.06 L1242.41 209.90 L1242.65 215.28 L1242.77 209.95 L1242.89 211.61 L1243.01 209.98 L1243.25 210.28 L1243.49 227.58 L1243.61 212.32 L1243.73 214.03 L1243.97 214.92 L1244.21 210.87 L1244.33 210.17 L1244.69 217.33 
" clip-path="url(#p23485c00ad)" style="fill: none; stroke: #ff0000; stroke-width: 1.656; stroke-linecap: square"/>
</g>
<g id="patch_94">
<path d="M 886.4 327.32 L886.4 79.2 
" style="fill: none; stroke: #000000; stroke-width: 1.44; stroke-linejoin: miter; stroke-linecap: square"/>
</g>
<g id="patch_95">
<path d="M 1296 327.32 L1296 79.2 
" style="fill: none; stroke: #ff0000; stroke-width: 1.44; stroke-linejoin: miter; stroke-linecap: square"/>
</g>
<g id="patch_96">
<path d="M 886.4 327.32 L1296 327.32 
" style="fill: none; stroke: #000000; stroke-width: 1.44; stroke-linejoin: miter; stroke-linecap: square"/>
</g>
<g id="patch_97">
<path d="M 886.4 79.2 L1296 79.2 
" style="fill: none; stroke: #000000; stroke-width: 1.44; stroke-linejoin: miter; stroke-linecap: square"/>
</g>
</g>
<g id="axes_6">
<g id="patch_98">
<path d="M 886.4 591.99 L1296 591.99 L1296 343.86 L886.4 343.86 z" style="fill: #ffffff"/>
</g>
<g id="matplotlib.axis_10">
<g id="xtick_33">
<g id="line2d_133">
<g>
<use href="#m9c9ca732cf" x="914.027" y="591.994" style="stroke: #000000; stroke-width: 0.72"/>
</g>
</g>
</g>
<g id="xtick_34">
<g id="line2d_134">
<g>
<use href="#m9c9ca732cf" x="965.227" y="591.994" style="stroke: #000000; stroke-width: 0.72"/>
</g>
</g>
</g>
<g id="xtick_35">
<g id="line2d_135">
<g>
<use href="#m9c9ca732cf" x="1016.427" y="591.994" style="stroke: #000000; stroke-width: 0.72"/>
</g>
</g>
</g>
<g id="xtick_36">
<g id="line2d_136">
<g>
<use href="#m9c9ca732cf" x="1067.627" y="591.994" style="stroke: #000000; stroke-width: 0.72"/>
</g>
</g>
</g>
<g id="xtick_37">
<g id="line2d_137">
<g>
<use href="#m9c9ca732cf" x="1118.827" y="591.994" style="stroke: #000000; stroke-width: 0.72"/>
</g>
</g>
</g>
<g id="xtick_38">
<g id="line2d_138">
<g>
<use href="#m9c9ca732cf" x="1170.027" y="591.994" style="stroke: #000000; stroke-width: 0.72"/>
</g>
</g>
</g>
<g id="xtick_39">
<g id="line2d_139">
<g>
<use href="#m9c9ca732cf" x="1221.227" y="591.994" style="stroke: #000000; stroke-width: 0.72"/>
</g>
</g>
</g>
<g id="xtick_40">
<g id="line2d_140">
<g>
<use href="#m9c9ca732cf" x="1272.427" y="591.994" style="stroke: #000000; stroke-width: 0.72"/>
</g>
</g>
</g>
</g>
<g id="matplotlib.axis_11">
<g id="ytick_56">
<g id="line2d_141">
<g>
<use href="#mde43f6efa1" x="886.4" y="368.681" style="stroke: #000000; stroke-width: 0.72"/>
</g>
</g>
<g id="text_56">
<text x="873.877" y="374.081" style="font-size: 15.192px" textLength="8.568" lengthAdjust="spacingAndGlyphs">0</text>
</g>
</g>
<g id="ytick_57">
<g id="line2d_142">
<g>
<use href="#mde43f6efa1" x="886.4" y="418.306" style="stroke: #000000; stroke-width: 0.72"/>
</g>
</g>
<g id="text_57">
<text x="843.695" y="423.706" style="font-size: 15.192px" textLength="38.821" lengthAdjust="spacingAndGlyphs">−100</text>
</g>
</g>
<g id="ytick_58">
<g id="line2d_143">
<g>
<use href="#mde43f6efa1" x="886.4" y="467.931" style="stroke: #000000; stroke-width: 0.72"/>
</g>
</g>
<g id="text_58">
<text x="843.695" y="473.331" style="font-size: 15.192px" textLength="38.821" lengthAdjust="spacingAndGlyphs">−200</text>
</g>
</g>
<g id="ytick_59">
<g id="line2d_144">
<g>
<use href="#mde43f6efa1" x="886.4" y="517.556" style="stroke: #000000; stroke-width: 0.72"/>
</g>
</g>
<g id="text_59">
<text x="843.695" y="522.956" style="font-size: 15.192px" textLength="38.821" lengthAdjust="spacingAndGlyphs">−300</text>
</g>
</g>
<g id="ytick_60">
<g id="line2d_145">
<g>
<use href="#mde43f6efa1" x="886.4" y="567.182" style="stroke: #000000; stroke-width: 0.72"/>
</g>
</g>
<g id="text_60">
<text x="843.787" y="572.582" style="font-size: 15.192px" textLength="38.728" lengthAdjust="spacingAndGlyphs">−400</text>
</g>
</g>
<g id="text_61">
<text x="0.122" y="0" style="font-size: 18.230px" textLength="28.764" lengthAdjust="spacingAndGlyphs" transform="translate(815.404 482.511646) rotate(-90)">Dst</text>
<text x="0.309" y="0" style="font-size: 18.230px" textLength="45.281" lengthAdjust="spacingAndGlyphs" transform="translate(835.42 490.881646) rotate(-90)">( nT )</text>
</g>
</g>
<g id="line2d_146">
<path d="M 886.4 368.68 L1296 368.68 
" clip-path="url(#p9bf0d953a0)" style="fill: none; stroke-dasharray: 1.44,2.376; stroke-dashoffset: 0; stroke: #000000; stroke-width: 1.44"/>
</g>
<g id="line2d_147">
<path d="M 1244.8 591.99 L1244.8 343.86 
" clip-path="url(#p9bf0d953a0)" style="fill: none; stroke-dasharray: 2.16,3.564; stroke-dashoffset: 0; stroke: #000000; stroke-width: 2.16"/>
</g>
<g id="patch_99">
<path d="M 886.4 591.99 L886.4 343.86 
" style="fill: none; stroke: #000000; stroke-width: 1.44; stroke-linejoin: miter; stroke-linecap: square"/>
</g>
<g id="patch_100">
<path d="M 1296 591.99 L1296 343.86 
" style="fill: none; stroke: #000000; stroke-width: 1.44; stroke-linejoin: miter; stroke-linecap: square"/>
</g>
<g id="patch_101">
<path d="M 886.4 591.99 L1296 591.99 
" style="fill: none; stroke: #000000; stroke-width: 1.44; stroke-linejoin: miter; stroke-linecap: square"/>
</g>
<g id="patch_102">
<path d="M 886.4 343.86 L1296 343.86 
" style="fill: none; stroke: #000000; stroke-width: 1.44; stroke-linejoin: miter; stroke-linecap: square"/>
</g>
<g id="line2d_148">
<path d="M 886.54 361.07 L887.91 364.31 L890.72 365.75 L892.59 369.35 L894.96 365.25 L897.27 371.80 L899.14 373.67 L902.88 364.31 L905.69 362.87 L909.44 362.44 L911.81 363.16 L914.12 361.50 L916.49 361.72 L918.36 362.73 L920.16 360.71 L922.54 359.85 L926.79 354.66 L929.09 358.70 L932.84 354.95 L935.21 357.33 L937.52 369.50 L938.96 368.06 L941.76 360.14 L944.07 361.50 L945.94 376.05 L948.32 375.11 L950.19 370.43 L952.49 376.48 L954.36 394.27 L958.61 382.60 L963.29 389.59 L965.60 380.73 L969.34 380.23 L971.72 382.10 L974.02 377.92 L975.89 378.35 L977.76 375.55 L982.01 380.73 L986.69 389.59 L988.56 383.03 L990.87 389.59 L992.74 379.29 L997.42 382.10 L999.29 388.22 L1003.04 384.91 L1005.84 383.54 L1007.72 380.73 L1011.96 385.41 L1016.14 376.48 L1018.52 377.42 L1020.82 372.09 L1023.63 373.03 L1026.94 371.37 L1030.68 368.56 L1035.36 376.05 L1037.67 373.24 L1040.04 375.55 L1045.16 371.37 L1047.53 372.09 L1050.34 376.99 L1052.64 373.24 L1055.02 372.74 L1056.89 376.05 L1059.20 374.18 L1062.00 373.67 L1066.68 370.43 L1069.85 365.97 L1072.16 367.12 L1074.53 367.34 L1076.84 365.75 L1078.71 365.97 L1080.58 370.43 L1084.32 373.67 L1088.07 375.11 L1092.75 378.86 L1095.56 375.55 L1097.43 374.61 L1099.80 371.80 L1101.68 372.23 L1103.98 371.08 L1107.72 371.58 L1109.60 368.99 L1114.28 370.65 L1117.59 368.56 L1120.83 371.58 L1125.08 366.69 L1127.38 368.56 L1133.00 367.62 L1134.87 368.56 L1138.61 372.74 L1140.48 373.67 L1142.36 372.74 L1144.23 375.33 L1146.60 372.23 L1149.84 377.92 L1152.65 380.73 L1156.90 376.48 L1159.20 377.92 L1161.58 380.73 L1163.88 380.73 L1166.26 379.51 L1167.63 380.23 L1170.44 377.42 L1172.31 377.42 L1174.18 378.57 L1178.86 371.80 L1181.67 370.43 L1185.41 370.65 L1191.03 370.86 L1193.40 370.43 L1195.28 372.23 L1197.58 371.80 L1200.39 368.56 L1203.20 369.93 L1206.94 373.24 L1210.25 370.86 L1213.06 369.93 L1215.36 367.62 L1220.04 368.06 L1223.36 366.18 L1225.66 368.56 L1229.40 369.50 L1231.78 365.25 L1235.96 366.18 L1240.20 369.50 L1243.01 368.99 L1244.81 368.85 
" clip-path="url(#p9bf0d953a0)" style="fill: none; stroke: #000000; stroke-width: 1.44; stroke-linecap: square"/>
</g>
</g>
<g id="axes_7">
<g id="matplotlib.axis_12">
<g id="ytick_61">
<g id="line2d_149">
<g>
<use href="#mbd01cde865" x="1296" y="591.994" style="fill: #ff0000; stroke: #ff0000; stroke-width: 0.72"/>
</g>
</g>
<g id="text_62">
<g style="fill: #ff0000" transform="translate(1299.6 598.438937)">
<text x="-0.098" y="-0.367" style="font-size:15.192px" textLength="9.162" lengthAdjust="spacingAndGlyphs">1</text>
<text x="9.142" y="-0.367" style="font-size:15.192px" textLength="9.162" lengthAdjust="spacingAndGlyphs">0</text>
<text x="18.919" y="-5.726" style="font-size:10.634px" textLength="7.452" lengthAdjust="spacingAndGlyphs">−</text>
<text x="26.721" y="-5.726" style="font-size:10.634px" textLength="6.413" lengthAdjust="spacingAndGlyphs">2</text>
</g>
</g>
</g>
<g id="ytick_62">
<g id="line2d_150">
<g>
<use href="#mbd01cde865" x="1296" y="529.963" style="fill: #ff0000; stroke: #ff0000; stroke-width: 0.72"/>
</g>
</g>
<g id="text_63">
<g style="fill: #ff0000" transform="translate(1299.6 536.407291)">
<text x="-0.098" y="-0.498" style="font-size:15.192px" textLength="9.162" lengthAdjust="spacingAndGlyphs">1</text>
<text x="9.142" y="-0.498" style="font-size:15.192px" textLength="9.162" lengthAdjust="spacingAndGlyphs">0</text>
<text x="18.919" y="-5.857" style="font-size:10.634px" textLength="7.452" lengthAdjust="spacingAndGlyphs">−</text>
<text x="26.787" y="-5.857" style="font-size:10.634px" textLength="6.413" lengthAdjust="spacingAndGlyphs">1</text>
</g>
</g>
</g>
<g id="ytick_63">
<g id="line2d_151">
<g>
<use href="#mbd01cde865" x="1296" y="467.931" style="fill: #ff0000; stroke: #ff0000; stroke-width: 0.72"/>
</g>
</g>
<g id="text_64">
<g style="fill: #ff0000" transform="translate(1299.6 474.375646)">
<text x="-0.098" y="-0.367" style="font-size:15.192px" textLength="9.162" lengthAdjust="spacingAndGlyphs">1</text>
<text x="9.142" y="-0.367" style="font-size:15.192px" textLength="9.162" lengthAdjust="spacingAndGlyphs">0</text>
<text x="18.423" y="-5.726" style="font-size:10.634px" textLength="6.413" lengthAdjust="spacingAndGlyphs">0</text>
</g>
</g>
</g>
<g id="ytick_64">
<g id="line2d_152">
<g>
<use href="#mbd01cde865" x="1296" y="405.9" style="fill: #ff0000; stroke: #ff0000; stroke-width: 0.72"/>
</g>
</g>
<g id="text_65">
<g style="fill: #ff0000" transform="translate(1299.6 412.344)">
<text x="-0.098" y="-0.498" style="font-size:15.192px" textLength="9.162" lengthAdjust="spacingAndGlyphs">1</text>
<text x="9.142" y="-0.498" style="font-size:15.192px" textLength="9.162" lengthAdjust="spacingAndGlyphs">0</text>
<text x="18.356" y="-5.857" style="font-size:10.634px" textLength="6.413" lengthAdjust="spacingAndGlyphs">1</text>
</g>
</g>
</g>
<g id="ytick_65">
<g id="line2d_153">
<g>
<use href="#mbd01cde865" x="1296" y="343.868" style="fill: #ff0000; stroke: #ff0000; stroke-width: 0.72"/>
</g>
</g>
<g id="text_66">
<g style="fill: #ff0000" transform="translate(1299.6 350.312354)">
<text x="-0.098" y="-0.367" style="font-size:15.192px" textLength="9.162" lengthAdjust="spacingAndGlyphs">1</text>
<text x="9.142" y="-0.367" style="font-size:15.192px" textLength="9.162" lengthAdjust="spacingAndGlyphs">0</text>
<text x="18.290" y="-5.726" style="font-size:10.634px" textLength="6.413" lengthAdjust="spacingAndGlyphs">2</text>
</g>
</g>
</g>
<g id="ytick_66">
<g id="line2d_154">
<defs>
<path id="mad90cb419b" d="M 0 0 L-2.16 0 
" style="stroke: #ff0000; stroke-width: 0.72"/>
</defs>
<g>
<use href="#mad90cb419b" x="1296" y="573.321" style="fill: #ff0000; stroke: #ff0000; stroke-width: 0.72"/>
</g>
</g>
</g>
<g id="ytick_67">
<g id="line2d_155">
<g>
<use href="#mad90cb419b" x="1296" y="562.398" style="fill: #ff0000; stroke: #ff0000; stroke-width: 0.72"/>
</g>
</g>
</g>
<g id="ytick_68">
<g id="line2d_156">
<g>
<use href="#mad90cb419b" x="1296" y="554.648" style="fill: #ff0000; stroke: #ff0000; stroke-width: 0.72"/>
</g>
</g>
</g>
<g id="ytick_69">
<g id="line2d_157">
<g>
<use href="#mad90cb419b" x="1296" y="548.636" style="fill: #ff0000; stroke: #ff0000; stroke-width: 0.72"/>
</g>
</g>
</g>
<g id="ytick_70">
<g id="line2d_158">
<g>
<use href="#mad90cb419b" x="1296" y="543.724" style="fill: #ff0000; stroke: #ff0000; stroke-width: 0.72"/>
</g>
</g>
</g>
<g id="ytick_71">
<g id="line2d_159">
<g>
<use href="#mad90cb419b" x="1296" y="539.572" style="fill: #ff0000; stroke: #ff0000; stroke-width: 0.72"/>
</g>
</g>
</g>
<g id="ytick_72">
<g id="line2d_160">
<g>
<use href="#mad90cb419b" x="1296" y="535.974" style="fill: #ff0000; stroke: #ff0000; stroke-width: 0.72"/>
</g>
</g>
</g>
<g id="ytick_73">
<g id="line2d_161">
<g>
<use href="#mad90cb419b" x="1296" y="532.801" style="fill: #ff0000; stroke: #ff0000; stroke-width: 0.72"/>
</g>
</g>
</g>
<g id="ytick_74">
<g id="line2d_162">
<g>
<use href="#mad90cb419b" x="1296" y="511.289" style="fill: #ff0000; stroke: #ff0000; stroke-width: 0.72"/>
</g>
</g>
</g>
<g id="ytick_75">
<g id="line2d_163">
<g>
<use href="#mad90cb419b" x="1296" y="500.366" style="fill: #ff0000; stroke: #ff0000; stroke-width: 0.72"/>
</g>
</g>
</g>
<g id="ytick_76">
<g id="line2d_164">
<g>
<use href="#mad90cb419b" x="1296" y="492.616" style="fill: #ff0000; stroke: #ff0000; stroke-width: 0.72"/>
</g>
</g>
</g>
<g id="ytick_77">
<g id="line2d_165">
<g>
<use href="#mad90cb419b" x="1296" y="486.605" style="fill: #ff0000; stroke: #ff0000; stroke-width: 0.72"/>
</g>
</g>
</g>
<g id="ytick_78">
<g id="line2d_166">
<g>
<use href="#mad90cb419b" x="1296" y="481.693" style="fill: #ff0000; stroke: #ff0000; stroke-width: 0.72"/>
</g>
</g>
</g>
<g id="ytick_79">
<g id="line2d_167">
<g>
<use href="#mad90cb419b" x="1296" y="477.540" style="fill: #ff0000; stroke: #ff0000; stroke-width: 0.72"/>
</g>
</g>
</g>
<g id="ytick_80">
<g id="line2d_168">
<g>
<use href="#mad90cb419b" x="1296" y="473.943" style="fill: #ff0000; stroke: #ff0000; stroke-width: 0.72"/>
</g>
</g>
</g>
<g id="ytick_81">
<g id="line2d_169">
<g>
<use href="#mad90cb419b" x="1296" y="470.770" style="fill: #ff0000; stroke: #ff0000; stroke-width: 0.72"/>
</g>
</g>
</g>
<g id="ytick_82">
<g id="line2d_170">
<g>
<use href="#mad90cb419b" x="1296" y="449.258" style="fill: #ff0000; stroke: #ff0000; stroke-width: 0.72"/>
</g>
</g>
</g>
<g id="ytick_83">
<g id="line2d_171">
<g>
<use href="#mad90cb419b" x="1296" y="438.335" style="fill: #ff0000; stroke: #ff0000; stroke-width: 0.72"/>
</g>
</g>
</g>
<g id="ytick_84">
<g id="line2d_172">
<g>
<use href="#mad90cb419b" x="1296" y="430.584" style="fill: #ff0000; stroke: #ff0000; stroke-width: 0.72"/>
</g>
</g>
</g>
<g id="ytick_85">
<g id="line2d_173">
<g>
<use href="#mad90cb419b" x="1296" y="424.573" style="fill: #ff0000; stroke: #ff0000; stroke-width: 0.72"/>
</g>
</g>
</g>
<g id="ytick_86">
<g id="line2d_174">
<g>
<use href="#mad90cb419b" x="1296" y="419.661" style="fill: #ff0000; stroke: #ff0000; stroke-width: 0.72"/>
</g>
</g>
</g>
<g id="ytick_87">
<g id="line2d_175">
<g>
<use href="#mad90cb419b" x="1296" y="415.508" style="fill: #ff0000; stroke: #ff0000; stroke-width: 0.72"/>
</g>
</g>
</g>
<g id="ytick_88">
<g id="line2d_176">
<g>
<use href="#mad90cb419b" x="1296" y="411.911" style="fill: #ff0000; stroke: #ff0000; stroke-width: 0.72"/>
</g>
</g>
</g>
<g id="ytick_89">
<g id="line2d_177">
<g>
<use href="#mad90cb419b" x="1296" y="408.738" style="fill: #ff0000; stroke: #ff0000; stroke-width: 0.72"/>
</g>
</g>
</g>
<g id="ytick_90">
<g id="line2d_178">
<g>
<use href="#mad90cb419b" x="1296" y="387.226" style="fill: #ff0000; stroke: #ff0000; stroke-width: 0.72"/>
</g>
</g>
</g>
<g id="ytick_91">
<g id="line2d_179">
<g>
<use href="#mad90cb419b" x="1296" y="376.303" style="fill: #ff0000; stroke: #ff0000; stroke-width: 0.72"/>
</g>
</g>
</g>
<g id="ytick_92">
<g id="line2d_180">
<g>
<use href="#mad90cb419b" x="1296" y="368.553" style="fill: #ff0000; stroke: #ff0000; stroke-width: 0.72"/>
</g>
</g>
</g>
<g id="ytick_93">
<g id="line2d_181">
<g>
<use href="#mad90cb419b" x="1296" y="362.541" style="fill: #ff0000; stroke: #ff0000; stroke-width: 0.72"/>
</g>
</g>
</g>
<g id="ytick_94">
<g id="line2d_182">
<g>
<use href="#mad90cb419b" x="1296" y="357.629" style="fill: #ff0000; stroke: #ff0000; stroke-width: 0.72"/>
</g>
</g>
</g>
<g id="ytick_95">
<g id="line2d_183">
<g>
<use href="#mad90cb419b" x="1296" y="353.477" style="fill: #ff0000; stroke: #ff0000; stroke-width: 0.72"/>
</g>
</g>
</g>
<g id="ytick_96">
<g id="line2d_184">
<g>
<use href="#mad90cb419b" x="1296" y="349.879" style="fill: #ff0000; stroke: #ff0000; stroke-width: 0.72"/>
</g>
</g>
</g>
<g id="ytick_97">
<g id="line2d_185">
<g>
<use href="#mad90cb419b" x="1296" y="346.706" style="fill: #ff0000; stroke: #ff0000; stroke-width: 0.72"/>
</g>
</g>
</g>
<g id="text_67">
<text x="0.313" y="0" style="font-size: 18.230px; fill: #ff0000" textLength="107.034" lengthAdjust="spacingAndGlyphs" transform="translate(1351.117975 521.661646) rotate(-90)">SW Pressure</text>
<text x="0.352" y="0" style="font-size: 18.230px; fill: #ff0000" textLength="54.826" lengthAdjust="spacingAndGlyphs" transform="translate(1371.133975 495.696646) rotate(-90)">( nPa )</text>
</g>
</g>
<g id="line2d_186">
<path d="M 886.49 452.11 L886.58 458.33 L886.85 442.89 L886.94 458.50 L887.12 453.56 L887.30 437.77 L887.48 453.97 L887.66 442.48 L887.93 445.77 L888.02 432.24 L888.20 447.42 L888.29 431.92 L888.56 436.91 L888.74 435.47 L888.92 441.87 L889.19 420.35 L889.46 430.04 L889.55 425.38 L889.82 420.39 L889.91 427.01 L889.92 413.28 L890.00 423.75 L890.09 434.53 L890.36 415.03 L890.54 422.63 L890.72 422.48 L890.90 431.93 L891.17 418.71 L891.26 431.98 L891.53 419.51 L891.62 430.67 L891.80 430.42 L892.07 423.20 L892.34 430.53 L892.43 415.36 L892.61 422.10 L892.70 434.95 L892.97 415.89 L893.06 428.09 L893.24 423.55 L893.33 453.01 L893.60 422.81 L893.87 431.99 L894.05 435.95 L894.14 422.39 L894.32 432.31 L894.50 427.33 L894.68 430.00 L894.77 420.20 L895.13 434.37 L895.22 425.50 L895.40 426.90 L895.67 419.51 L895.85 425.72 L896.03 452.75 L896.21 422.22 L896.30 470.57 L896.48 464.40 L896.75 419.25 L896.84 440.43 L897.02 424.60 L897.38 457.01 L897.47 424.48 L897.56 455.70 L897.83 428.24 L898.10 434.62 L898.19 442.43 L898.37 445.10 L898.46 432.61 L898.64 428.33 L898.91 445.24 L899.00 430.76 L899.27 453.00 L899.45 440.77 L899.63 447.91 L899.81 466.75 L899.99 438.49 L900.17 437.84 L900.35 449.10 L900.53 442.13 L900.71 449.33 L900.89 434.08 L901.07 451.25 L901.16 442.65 L901.34 448.73 L901.61 433.43 L901.79 461.18 L901.97 441.03 L902.06 458.17 L902.33 454.57 L902.42 431.47 L902.69 438.11 L902.87 445.21 L902.96 448.80 L903.14 438.93 L903.41 450.86 L903.50 439.57 L903.77 441.24 L903.86 428.94 L904.04 452.81 L904.22 436.74 L904.40 450.51 L904.49 434.46 L904.94 448.91 L905.03 435.28 L905.21 457.92 L905.30 439.21 L905.57 449.61 L905.75 430.82 L905.93 452.78 L906.11 437.96 L906.29 447.54 L906.38 436.62 L906.65 440.54 L906.74 433.15 L907.10 421.05 L907.19 443.02 L907.28 438.32 L907.46 433.20 L907.64 454.54 L907.82 438.60 L907.92 404.63 L908.00 432.70 L908.09 443.63 L908.45 436.68 L908.63 456.40 L908.72 442.01 L908.81 437.96 L909.26 456.21 L909.35 413.32 L909.44 423.05 L909.53 452.06 L909.89 452.60 L909.98 440.01 L910.25 448.77 L910.34 431.71 L910.52 458.24 L910.70 444.38 L911.06 459.47 L911.15 416.91 L911.33 460.08 L911.42 436.07 L911.60 448.62 L911.69 422.83 L912.14 459.13 L912.23 420.98 L912.32 457.83 L912.59 439.41 L912.77 449.70 L912.86 435.39 L913.04 447.10 L913.31 425.13 L913.49 436.08 L913.58 449.13 L913.85 459.04 L913.94 437.80 L914.12 449.20 L914.39 456.83 L914.48 426.55 L914.66 467.63 L914.85 447.58 L914.94 468.24 L915.30 439.29 L915.39 469.27 L915.75 433.16 L915.84 459.00 L916.02 440.57 L916.20 460.67 L916.29 441.78 L916.38 484.30 L916.65 464.04 L916.83 446.19 L917.10 467.58 L917.19 429.93 L917.37 440.87 L917.55 467.96 L917.82 432.90 L918.00 460.35 L918.18 482.80 L918.27 446.05 L918.54 508.79 L918.72 431.46 L918.81 442.38 L919.08 487.91 L919.17 466.69 L919.26 452.77 L919.53 442.21 L919.71 497.57 L919.89 426.38 L920.07 455.51 L920.25 437.78 L920.34 474.91 L920.61 481.72 L920.79 438.78 L921.15 472.96 L921.24 426.02 L921.42 499.34 L921.51 420.95 L921.78 468.19 L921.96 456.75 L922.05 445.02 L922.14 482.19 L922.41 457.10 L922.59 427.64 L922.95 432.95 L923.04 499.78 L923.13 447.53 L923.40 469.33 L923.58 437.98 L923.67 454.51 L923.94 448.67 L924.12 480.49 L924.30 436.02 L924.39 475.28 L924.75 445.43 L924.84 470.76 L924.93 461.01 L925.02 450.72 L925.29 466.53 L925.38 446.76 L925.74 433.08 L925.92 507.15 L926.01 454.14 L926.28 469.68 L926.37 470.74 L926.46 428.02 L926.73 438.83 L926.91 474.83 L927.18 467.93 L927.36 433.81 L927.63 506.31 L927.72 468.06 L927.90 465.60 L928.08 409.84 L928.35 467.28 L928.44 436.68 L928.62 508.01 L928.80 463.13 L928.89 439.77 L929.16 462.25 L929.43 489.10 L929.52 413.62 L929.61 409.75 L929.70 446.40 L929.97 433.13 L930.06 511.93 L930.24 408.24 L930.33 463.48 L930.60 457.30 L930.69 424.24 L930.87 466.84 L931.05 441.86 L931.14 500.94 L931.50 493.81 L931.68 444.39 L931.77 437.66 L931.86 458.02 L932.31 462.40 L932.40 448.22 L932.58 418.52 L932.67 456.67 L932.85 461.71 L933.03 440.82 L933.21 452.51 L933.30 432.85 L933.75 456.20 L933.84 444.16 L933.93 427.58 L934.20 476.33 L934.29 441.55 L934.56 447.98 L934.74 436.50 L934.92 453.61 L935.01 426.02 L935.28 441.88 L935.37 452.70 L935.64 438.62 L935.82 436.92 L936.00 458.98 L936.09 443.33 L936.36 440.36 L936.45 437.08 L936.54 448.93 L936.81 434.77 L936.90 443.92 L937.17 428.20 L937.35 462.72 L937.53 461.27 L937.80 436.47 L937.89 435.29 L937.98 453.50 L938.43 438.92 L938.52 444.17 L938.79 441.80 L938.88 432.39 L938.97 444.08 L939.06 432.05 L939.33 432.75 L939.42 441.55 L939.69 438.92 L939.78 447.29 L940.23 439.68 L940.32 451.18 L940.50 448.02 L940.68 439.28 L940.77 432.95 L941.04 445.28 L941.31 441.62 L941.40 446.61 L941.49 449.79 L941.58 435.21 L941.85 444.34 L942.12 439.91 L942.21 441.15 L942.39 449.80 L942.57 443.71 L942.84 432.88 L943.02 450.00 L943.12 441.60 L943.48 439.90 L943.57 447.70 L943.66 450.19 L943.75 440.67 L944.02 432.49 L944.11 450.33 L944.47 441.83 L944.65 450.50 L944.83 441.79 L944.92 450.58 L945.28 440.33 L945.37 442.98 L945.46 441.59 L945.73 448.15 L946.00 438.37 L946.09 446.62 L946.27 451.36 L946.45 444.53 L946.54 436.43 L946.81 451.75 L946.99 450.00 L947.08 445.11 L947.26 446.76 L947.53 441.33 L947.62 442.06 L947.89 452.52 L948.07 448.87 L948.25 430.55 L948.43 446.28 L948.61 450.96 L948.79 453.17 L948.88 446.00 L948.96 410.40 L949.24 445.88 L949.33 455.42 L949.42 451.89 L949.69 415.61 L949.78 452.39 L950.05 450.15 L950.14 453.08 L950.23 448.29 L950.50 453.96 L950.59 451.68 L950.95 461.55 L951.13 451.25 L951.22 463.43 L951.49 447.61 L951.67 446.56 L951.85 456.33 L952.03 448.91 L952.12 455.11 L952.30 468.66 L952.48 446.01 L952.66 450.75 L952.93 455.71 L953.02 470.74 L953.29 450.41 L953.38 439.20 L953.65 475.97 L953.92 456.07 L954.01 450.41 L954.19 443.78 L954.37 456.14 L954.46 455.69 L954.73 461.71 L955.00 480.69 L955.09 454.82 L955.27 453.57 L955.36 436.69 L955.54 471.83 L955.72 437.18 L955.99 454.74 L956.17 444.18 L956.35 472.41 L956.44 448.45 L956.71 488.94 L956.80 446.19 L956.98 454.35 L957.07 440.94 L957.52 460.40 L957.61 435.90 L957.70 433.29 L957.88 463.53 L958.06 498.41 L958.15 449.51 L958.42 448.58 L958.60 478.28 L958.78 471.11 L958.87 440.00 L959.14 480.56 L959.23 456.35 L959.59 465.92 L959.68 426.52 L959.76 509.76 L959.95 494.20 L960.04 446.01 L960.40 423.75 L960.49 450.71 L960.67 422.69 L960.85 451.66 L960.94 503.32 L961.21 450.57 L961.30 474.50 L961.57 459.76 L961.84 464.55 L961.93 435.34 L962.11 479.49 L962.20 466.41 L962.38 444.67 L962.56 464.92 L962.74 473.60 L962.83 438.84 L963.19 449.89 L963.37 463.90 L963.55 447.27 L963.73 502.84 L963.82 459.77 L964.00 417.35 L964.18 447.61 L964.27 476.59 L964.72 440.02 L964.81 480.51 L964.99 506.93 L965.08 449.83 L965.26 437.02 L965.44 450.50 L965.71 472.63 L965.89 434.06 L965.98 511.21 L966.07 448.59 L966.52 432.02 L966.61 508.91 L966.70 470.18 L966.96 398.15 L966.97 402.67 L967.15 467.28 L967.24 443.34 L967.60 499.68 L967.69 432.87 L967.78 485.90 L967.87 448.04 L968.14 442.55 L968.23 474.71 L968.59 409.44 L968.68 458.98 L969.04 470.30 L969.13 429.25 L969.31 458.60 L969.40 481.53 L969.58 516.53 L969.76 400.97 L970.03 526.64 L970.12 449.27 L970.39 413.52 L970.57 472.84 L970.84 459.07 L970.93 516.64 L971.11 445.97 L971.29 485.26 L971.39 450.46 L971.57 496.70 L971.93 418.10 L972.02 491.15 L972.20 495.37 L972.29 455.29 L972.47 475.33 L972.65 439.03 L972.92 473.54 L973.10 504.17 L973.28 487.55 L973.37 453.63 L973.55 443.93 L973.64 495.29 L973.91 482.72 L974.00 449.50 L974.36 489.08 L974.45 458.03 L974.72 462.07 L974.90 506.88 L975.08 480.64 L975.17 506.06 L975.44 468.00 L975.60 401.03 L975.62 545.83 L975.71 527.68 L975.98 466.25 L976.16 498.21 L976.34 420.51 L976.43 456.25 L976.70 491.65 L976.88 408.36 L977.06 474.41 L977.15 495.34 L977.24 464.49 L977.51 497.28 L977.78 428.11 L977.87 464.06 L977.96 483.06 L978.32 496.37 L978.50 472.78 L978.59 453.49 L978.86 488.82 L979.13 409.24 L979.22 526.79 L979.49 528.61 L979.58 467.88 L979.67 448.98 L979.94 464.58 L980.03 475.69 L980.30 449.90 L980.48 455.38 L980.66 525.53 L980.75 450.81 L980.93 525.98 L981.11 503.89 L981.29 451.07 L981.65 423.38 L981.74 480.79 L982.01 469.11 L982.10 448.85 L982.37 430.19 L982.46 476.11 L982.64 473.38 L982.73 454.64 L982.91 476.43 L983.00 425.81 L983.45 447.23 L983.54 500.89 L983.81 461.47 L983.90 483.78 L983.99 502.94 L984.08 452.56 L984.35 459.01 L984.44 505.99 L984.89 464.27 L984.98 450.17 L985.07 477.06 L985.16 452.04 L985.43 478.18 L985.70 456.72 L985.79 473.17 L985.97 448.85 L986.24 437.39 L986.42 472.81 L986.60 456.31 L986.69 464.08 L986.96 471.44 L987.05 457.29 L987.32 462.38 L987.50 453.18 L987.68 442.76 L987.86 484.82 L987.95 461.60 L988.04 468.58 L988.40 455.18 L988.58 473.48 L988.67 462.93 L988.76 453.19 L989.12 472.63 L989.21 462.52 L989.39 454.95 L989.48 463.65 L989.75 443.66 L989.84 461.94 L990.11 461.90 L990.20 453.57 L990.65 447.52 L990.74 468.92 L990.92 446.94 L991.10 473.64 L991.28 464.63 L991.37 451.31 L991.64 449.76 L991.82 465.75 L992.09 456.82 L992.18 462.58 L992.36 461.49 L992.54 455.71 L992.63 485.38 L992.81 458.25 L993.17 453.04 L993.26 496.38 L993.35 465.08 L993.62 455.07 L993.80 452.26 L993.89 462.60 L994.25 455.58 L994.34 495.76 L994.43 462.04 L994.70 457.64 L994.97 452.14 L995.06 463.62 L995.33 456.53 L995.42 462.63 L995.51 463.34 L995.78 460.92 L995.96 457.10 L996.14 484.09 L996.23 464.75 L996.32 453.28 L996.59 457.36 L996.86 485.12 L996.95 459.18 L997.04 491.71 L997.20 527.04 L997.31 463.84 L997.58 459.07 L997.76 466.07 L997.85 457.19 L998.03 463.59 L998.30 454.62 L998.39 457.38 L998.57 463.15 L998.75 452.64 L998.93 477.35 L999.20 462.61 L999.29 451.39 L999.65 450.89 L999.75 473.93 L999.93 450.51 L1000.11 458.06 L1000.20 473.66 L1000.29 454.46 L1000.74 468.69 L1000.83 449.25 L1000.92 454.60 L1001.01 468.80 L1001.46 454.54 L1001.55 466.13 L1001.64 452.47 L1001.73 457.76 L1002.09 466.01 L1002.18 455.17 L1002.36 457.69 L1002.54 451.24 L1002.90 470.13 L1002.99 452.61 L1003.08 460.06 L1003.26 464.33 L1003.53 474.23 L1003.71 451.78 L1003.89 473.46 L1003.98 452.28 L1004.34 453.43 L1004.43 457.96 L1004.70 444.95 L1004.79 458.34 L1004.88 461.10 L1005.15 435.97 L1005.24 476.95 L1005.51 456.29 L1005.78 464.35 L1005.87 454.58 L1005.96 460.88 L1006.05 448.38 L1006.32 450.36 L1006.41 459.12 L1006.77 455.12 L1006.95 484.91 L1007.04 455.45 L1007.22 442.23 L1007.40 455.45 L1007.58 470.35 L1007.85 446.37 L1007.94 456.85 L1008.30 452.78 L1008.39 470.07 L1008.48 453.90 L1008.75 464.48 L1008.84 476.46 L1009.11 451.55 L1009.29 469.35 L1009.47 436.31 L1009.56 451.15 L1009.65 476.26 L1010.01 459.41 L1010.19 462.33 L1010.28 452.05 L1010.37 472.80 L1010.73 455.77 L1010.91 438.06 L1011.00 454.48 L1011.09 462.65 L1011.54 482.50 L1011.63 451.36 L1011.72 468.20 L1011.99 438.12 L1012.08 437.92 L1012.26 478.53 L1012.53 460.16 L1012.71 490.76 L1012.80 489.20 L1012.89 448.61 L1013.16 453.99 L1013.25 482.20 L1013.70 450.96 L1013.79 468.50 L1014.06 437.46 L1014.15 467.35 L1014.24 447.71 L1014.42 467.93 L1014.60 436.20 L1014.87 468.97 L1015.05 447.99 L1015.23 493.31 L1015.41 476.54 L1015.50 454.44 L1015.68 451.05 L1015.95 496.57 L1016.13 452.87 L1016.31 505.44 L1016.40 500.65 L1016.67 452.02 L1016.85 466.61 L1017.03 441.39 L1017.12 499.06 L1017.30 455.31 L1017.36 527.04 L1017.57 477.97 L1017.66 450.54 L1017.84 488.40 L1018.02 465.05 L1018.29 433.39 L1018.47 459.82 L1018.74 501.50 L1018.83 453.67 L1019.10 469.10 L1019.19 428.14 L1019.46 456.17 L1019.55 518.39 L1019.64 463.94 L1019.91 445.72 L1020.09 424.12 L1020.18 460.08 L1020.36 462.19 L1020.54 512.80 L1020.81 429.24 L1020.99 482.42 L1021.08 447.41 L1021.17 464.34 L1021.44 479.34 L1021.53 463.97 L1021.89 470.70 L1021.98 454.81 L1022.16 470.27 L1022.40 410.40 L1022.43 452.67 L1022.61 463.97 L1022.79 481.98 L1022.97 420.27 L1023.15 476.81 L1023.42 454.81 L1023.51 502.35 L1023.60 488.75 L1023.69 450.68 L1023.96 462.62 L1024.14 496.96 L1024.32 460.46 L1024.50 499.66 L1024.68 451.06 L1024.77 468.38 L1025.22 432.82 L1025.31 469.29 L1025.40 474.83 L1025.58 459.13 L1025.76 474.94 L1025.94 455.05 L1026.30 471.05 L1026.39 457.62 L1026.66 464.67 L1026.75 429.18 L1027.02 452.00 L1027.11 469.66 L1027.29 468.56 L1027.38 432.04 L1027.56 495.95 L1027.83 454.30 L1027.92 472.21 L1028.02 462.66 L1028.38 454.98 L1028.56 470.37 L1028.74 457.54 L1028.83 465.71 L1029.10 437.39 L1029.19 491.28 L1029.46 461.87 L1029.55 480.45 L1029.82 490.70 L1030.00 464.70 L1030.18 455.93 L1030.36 472.43 L1030.54 491.57 L1030.72 454.21 L1030.81 456.00 L1030.90 476.01 L1031.17 463.68 L1031.35 445.54 L1031.53 499.07 L1031.71 454.22 L1031.89 457.29 L1031.98 454.51 L1032.25 466.62 L1032.34 473.62 L1032.61 495.45 L1032.70 465.20 L1032.97 451.89 L1033.06 465.60 L1033.42 453.29 L1033.51 467.36 L1033.69 450.27 L1033.78 469.56 L1034.05 453.61 L1034.32 469.65 L1034.59 458.51 L1034.68 480.85 L1034.77 476.09 L1035.04 440.92 L1035.13 455.57 L1035.22 468.15 L1035.49 476.14 L1035.58 459.88 L1035.94 469.83 L1036.03 462.69 L1036.21 480.50 L1036.48 456.98 L1036.57 476.32 L1036.75 465.91 L1036.80 517.68 L1037.11 465.28 L1037.20 478.68 L1037.29 470.00 L1037.38 452.12 L1037.65 476.32 L1037.92 466.57 L1038.19 483.66 L1038.28 473.04 L1038.46 460.02 L1038.55 472.69 L1038.73 472.60 L1038.91 463.06 L1039.09 517.32 L1039.18 460.81 L1039.45 468.40 L1039.54 476.50 L1039.81 451.66 L1039.90 472.61 L1040.26 455.00 L1040.44 480.75 L1040.62 478.48 L1040.80 462.73 L1040.89 475.30 L1041.07 460.56 L1041.43 477.02 L1041.52 459.49 L1041.61 456.31 L1041.88 478.73 L1041.97 461.44 L1042.15 470.58 L1042.33 469.89 L1042.42 486.77 L1042.69 472.58 L1042.96 467.89 L1043.23 476.90 L1043.32 465.13 L1043.41 458.01 L1043.50 500.84 L1043.86 499.74 L1043.95 475.44 L1044.31 483.28 L1044.40 470.68 L1044.67 478.12 L1044.76 466.54 L1044.85 458.20 L1044.94 479.11 L1045.39 472.12 L1045.48 480.51 L1045.66 461.54 L1045.75 477.87 L1046.02 491.05 L1046.11 471.36 L1046.38 472.38 L1046.56 466.49 L1046.65 479.72 L1046.74 459.76 L1047.01 476.68 L1047.19 468.99 L1047.46 458.78 L1047.64 483.12 L1047.73 466.66 L1047.82 483.27 L1048.09 479.85 L1048.27 459.43 L1048.45 481.98 L1048.63 465.30 L1048.81 476.84 L1048.90 458.58 L1049.26 474.94 L1049.35 465.68 L1049.62 462.54 L1049.80 475.15 L1049.98 462.39 L1050.07 476.89 L1050.34 469.71 L1050.52 480.07 L1050.61 468.53 L1050.70 478.50 L1050.97 476.27 L1051.24 465.67 L1051.42 466.88 L1051.60 493.06 L1051.69 479.10 L1051.96 466.16 L1052.23 464.35 L1052.32 473.06 L1052.50 501.96 L1052.68 466.66 L1052.95 475.26 L1053.04 466.86 L1053.22 457.81 L1053.31 478.25 L1053.49 476.35 L1053.76 462.19 L1054.03 478.82 L1054.12 470.53 L1054.21 465.14 L1054.30 489.52 L1054.66 455.28 L1054.84 474.25 L1054.93 479.27 L1055.11 453.79 L1055.38 459.76 L1055.47 504.76 L1055.74 477.65 L1055.92 453.91 L1056.10 450.98 L1056.19 472.25 L1056.47 473.03 L1056.56 459.84 L1056.92 449.48 L1057.01 478.33 L1057.10 451.75 L1057.37 481.45 L1057.46 460.44 L1057.73 479.63 L1057.82 456.77 L1058.00 495.91 L1058.36 497.56 L1058.45 462.71 L1058.54 481.99 L1058.72 441.20 L1059.08 468.17 L1059.17 454.14 L1059.35 440.89 L1059.44 469.15 L1059.80 457.43 L1059.89 471.30 L1060.07 464.12 L1060.25 501.56 L1060.52 460.82 L1060.61 480.74 L1060.88 459.27 L1060.97 496.13 L1061.06 459.82 L1061.24 464.51 L1061.42 470.75 L1061.51 448.41 L1061.78 453.37 L1061.87 476.84 L1062.32 470.70 L1062.41 456.89 L1062.50 455.34 L1062.59 479.71 L1062.86 465.53 L1063.13 454.78 L1063.31 448.83 L1063.49 489.36 L1063.58 446.05 L1063.67 494.73 L1063.94 494.03 L1064.21 460.66 L1064.30 438.41 L1064.39 474.57 L1064.75 475.53 L1064.93 458.96 L1065.11 477.93 L1065.29 448.47 L1065.38 468.84 L1065.56 448.43 L1065.92 451.33 L1066.01 481.80 L1066.19 497.25 L1066.28 447.59 L1066.55 448.47 L1066.73 457.92 L1066.82 476.69 L1066.91 461.23 L1067.18 467.88 L1067.45 502.31 L1067.54 500.50 L1067.63 436.95 L1067.90 436.84 L1067.99 465.10 L1068.35 473.25 L1068.53 461.96 L1068.62 444.55 L1068.80 470.64 L1069.07 444.97 L1069.25 471.51 L1069.34 456.86 L1069.61 436.97 L1069.70 464.48 L1069.97 435.40 L1070.15 436.14 L1070.33 470.11 L1070.42 472.99 L1070.51 434.10 L1070.78 466.20 L1070.96 455.31 L1071.23 445.57 L1071.32 492.38 L1071.68 470.54 L1071.77 451.89 L1071.95 500.82 L1072.13 450.75 L1072.22 433.27 L1072.40 487.47 L1072.76 473.73 L1072.85 436.54 L1073.03 464.98 L1073.12 492.40 L1073.30 450.31 L1073.39 487.97 L1073.84 474.17 L1073.93 440.50 L1074.02 431.29 L1074.29 459.48 L1074.38 427.15 L1074.47 452.91 L1074.74 470.32 L1074.83 430.55 L1075.19 454.56 L1075.37 460.65 L1075.46 431.32 L1075.64 496.00 L1075.82 471.20 L1076.09 445.72 L1076.27 446.12 L1076.45 478.23 L1076.54 456.58 L1076.63 470.22 L1076.90 458.31 L1076.99 449.76 L1077.35 431.56 L1077.53 468.53 L1077.62 473.95 L1077.71 451.26 L1077.98 467.19 L1078.25 430.63 L1078.43 455.03 L1078.61 466.05 L1078.79 439.85 L1078.97 493.42 L1079.15 484.27 L1079.33 452.38 L1079.60 440.09 L1079.69 466.98 L1079.96 454.86 L1080.05 469.27 L1080.23 463.69 L1080.32 428.94 L1080.59 444.02 L1080.77 470.71 L1080.95 502.87 L1081.13 434.85 L1081.22 456.48 L1081.40 435.46 L1081.67 455.27 L1081.85 494.91 L1081.94 485.15 L1082.03 457.15 L1082.39 473.73 L1082.57 453.43 L1082.75 430.08 L1082.84 473.17 L1083.11 473.53 L1083.29 456.08 L1083.38 469.70 L1083.47 447.69 L1083.60 400.31 L1083.74 458.89 L1083.83 475.07 L1084.10 474.79 L1084.19 454.48 L1084.55 460.71 L1084.74 502.43 L1084.83 459.07 L1085.01 477.59 L1085.28 480.96 L1085.46 460.63 L1085.55 496.71 L1085.82 468.11 L1086.00 456.11 L1086.18 470.68 L1086.27 438.78 L1086.45 494.20 L1086.72 479.94 L1086.90 464.42 L1087.08 475.94 L1087.26 469.35 L1087.35 495.94 L1087.53 471.85 L1087.80 463.57 L1087.89 475.77 L1088.07 482.82 L1088.16 462.26 L1088.52 478.12 L1088.70 452.72 L1088.88 497.56 L1088.97 465.48 L1089.15 481.86 L1089.42 451.48 L1089.60 483.96 L1089.69 470.00 L1089.96 478.22 L1090.05 458.46 L1090.41 460.08 L1090.50 488.97 L1090.59 471.94 L1090.68 491.89 L1090.95 462.93 L1091.13 475.90 L1091.49 462.03 L1091.58 479.38 L1091.67 485.05 L1091.85 465.21 L1092.21 488.04 L1092.30 468.76 L1092.39 496.14 L1092.57 469.89 L1092.75 473.47 L1093.02 499.17 L1093.20 471.72 L1093.38 481.83 L1093.47 471.46 L1093.74 489.06 L1094.01 484.95 L1094.10 470.65 L1094.19 470.95 L1094.37 483.23 L1094.73 478.67 L1094.82 484.99 L1094.91 485.32 L1095.00 476.26 L1095.27 483.35 L1095.36 472.46 L1095.63 471.19 L1095.84 556.56 L1095.90 494.39 L1095.99 467.28 L1096.08 537.84 L1096.44 472.03 L1096.62 537.38 L1096.71 488.37 L1096.80 470.31 L1097.25 482.98 L1097.34 471.70 L1097.43 486.80 L1097.70 471.51 L1097.79 477.67 L1097.88 488.70 L1098.33 473.97 L1098.42 483.13 L1098.60 471.70 L1098.69 492.02 L1098.96 470.38 L1099.14 482.28 L1099.32 468.39 L1099.41 494.53 L1099.68 488.57 L1099.77 486.80 L1100.04 444.04 L1100.22 488.72 L1100.49 522.07 L1100.58 451.68 L1100.76 521.61 L1100.94 440.15 L1101.03 470.82 L1101.30 491.68 L1101.48 522.46 L1101.57 468.50 L1101.75 435.31 L1102.02 495.01 L1102.20 479.83 L1102.38 484.25 L1102.65 484.87 L1102.74 445.80 L1102.92 485.58 L1103.01 443.57 L1103.28 466.68 L1103.37 489.82 L1103.64 498.23 L1103.73 482.98 L1104.09 484.30 L1104.18 467.58 L1104.27 467.56 L1104.36 491.36 L1104.63 465.07 L1104.81 485.57 L1105.17 452.43 L1105.26 491.63 L1105.44 462.56 L1105.62 494.37 L1105.71 485.34 L1105.89 469.06 L1106.07 457.77 L1106.34 548.68 L1106.61 461.42 L1106.64 556.56 L1106.70 477.36 L1106.79 482.37 L1106.97 491.59 L1107.15 469.73 L1107.24 491.21 L1107.60 474.91 L1107.78 524.47 L1107.96 534.98 L1108.14 471.86 L1108.32 485.76 L1108.50 453.72 L1108.77 477.57 L1108.86 489.87 L1109.04 487.41 L1109.22 469.77 L1109.49 484.56 L1109.58 469.90 L1109.67 447.91 L1109.94 487.84 L1110.12 476.16 L1110.21 453.05 L1110.57 461.66 L1110.66 482.89 L1110.84 503.40 L1111.02 464.79 L1111.11 484.02 L1111.38 472.95 L1111.47 500.41 L1111.74 467.93 L1111.83 469.36 L1111.92 445.69 L1112.19 481.58 L1112.46 468.18 L1112.55 435.47 L1112.64 499.73 L1113.01 467.37 L1113.10 482.71 L1113.28 496.88 L1113.37 467.78 L1113.64 483.59 L1113.82 468.53 L1114.09 475.97 L1114.27 487.81 L1114.54 476.87 L1114.63 466.42 L1114.72 472.61 L1114.99 466.39 L1115.26 442.45 L1115.35 485.65 L1115.62 492.78 L1115.71 473.97 L1115.80 474.41 L1115.98 500.30 L1116.25 485.77 L1116.43 473.18 L1116.70 470.67 L1116.79 484.25 L1116.97 475.58 L1117.06 480.52 L1117.24 449.82 L1117.33 477.68 L1117.60 490.19 L1117.69 467.31 L1117.96 495.09 L1118.14 475.06 L1118.41 497.62 L1118.59 460.87 L1118.68 427.64 L1118.95 499.57 L1119.04 485.56 L1119.22 476.78 L1119.49 462.79 L1119.67 481.95 L1119.76 497.67 L1119.94 473.28 L1120.12 500.34 L1120.39 472.42 L1120.48 466.12 L1120.66 476.70 L1121.02 486.28 L1121.11 477.37 L1121.20 493.04 L1121.47 473.79 L1121.65 477.80 L1121.74 469.94 L1121.92 441.68 L1122.01 484.06 L1122.28 479.19 L1122.37 502.20 L1122.82 494.55 L1122.91 476.38 L1123.00 481.95 L1123.18 475.01 L1123.45 482.30 L1123.54 474.55 L1123.90 544.82 L1123.99 476.43 L1124.26 477.64 L1124.35 475.47 L1124.44 484.04 L1124.53 474.82 L1124.64 558.72 L1124.80 485.69 L1125.07 473.51 L1125.16 483.90 L1125.34 449.98 L1125.61 472.98 L1125.79 490.99 L1125.88 498.06 L1125.97 484.21 L1126.24 473.85 L1126.33 482.65 L1126.69 475.04 L1126.87 480.20 L1126.96 489.03 L1127.05 475.09 L1127.41 475.65 L1127.59 541.40 L1127.68 481.02 L1127.77 519.13 L1128.22 523.53 L1128.31 469.56 L1128.40 466.58 L1128.49 539.89 L1128.94 479.13 L1129.03 430.78 L1129.21 495.51 L1129.39 482.66 L1129.57 483.36 L1129.75 478.62 L1129.93 486.40 L1130.02 471.04 L1130.29 482.17 L1130.47 427.31 L1130.65 537.20 L1130.74 484.84 L1131.01 425.43 L1131.10 491.94 L1131.28 486.01 L1131.55 464.87 L1131.73 494.60 L1131.82 432.81 L1132.09 466.70 L1132.27 549.21 L1132.36 485.93 L1132.54 470.68 L1132.81 475.32 L1132.99 515.04 L1133.08 471.47 L1133.26 517.60 L1133.44 481.77 L1133.53 474.85 L1133.80 472.02 L1133.98 488.06 L1134.34 541.58 L1134.43 479.96 L1134.52 495.83 L1134.70 475.34 L1134.97 485.34 L1135.15 471.17 L1135.33 485.80 L1135.51 473.87 L1135.60 429.12 L1135.69 486.96 L1135.96 487.21 L1136.14 480.23 L1136.50 473.81 L1136.59 537.71 L1136.77 487.20 L1136.86 439.34 L1137.13 516.88 L1137.22 478.99 L1137.49 509.29 L1137.58 482.02 L1137.85 480.15 L1138.03 533.84 L1138.12 470.68 L1138.39 489.92 L1138.48 491.37 L1138.66 479.89 L1138.84 480.44 L1139.02 490.51 L1139.20 480.81 L1139.47 494.45 L1139.74 480.07 L1139.83 513.25 L1139.92 479.43 L1140.01 524.60 L1140.37 478.25 L1140.55 510.60 L1140.73 484.49 L1140.91 489.31 L1141.09 487.50 L1141.18 478.42 L1141.55 492.49 L1141.64 471.45 L1141.73 476.38 L1142.00 509.18 L1142.09 487.91 L1142.27 498.86 L1142.45 488.07 L1142.54 475.59 L1142.81 501.37 L1142.90 481.61 L1143.08 480.82 L1143.26 489.20 L1143.44 490.02 L1143.71 479.65 L1143.89 457.73 L1143.98 512.88 L1144.25 489.87 L1144.43 524.01 L1144.52 487.24 L1144.70 495.17 L1144.97 480.90 L1145.15 490.48 L1145.33 514.09 L1145.42 483.74 L1145.78 498.12 L1145.87 475.42 L1145.96 480.51 L1146.05 493.48 L1146.41 518.22 L1146.50 485.82 L1146.86 522.51 L1146.95 470.47 L1147.04 475.14 L1147.22 493.86 L1147.49 480.48 L1147.58 520.24 L1147.94 491.97 L1148.03 480.05 L1148.12 490.82 L1148.39 481.54 L1148.48 481.30 L1148.75 498.28 L1148.84 477.35 L1149.11 494.87 L1149.20 503.82 L1149.47 474.06 L1149.56 508.01 L1149.74 485.66 L1150.01 498.50 L1150.10 474.40 L1150.28 505.24 L1150.55 484.72 L1150.64 502.47 L1150.82 478.16 L1151.09 500.39 L1151.27 472.16 L1151.36 484.54 L1151.45 494.56 L1151.81 494.52 L1151.90 477.49 L1152.08 499.68 L1152.26 486.97 L1152.53 479.10 L1152.71 494.35 L1152.89 490.59 L1153.07 482.55 L1153.16 500.79 L1153.34 483.21 L1153.52 500.90 L1153.79 484.12 L1153.97 507.24 L1154.15 441.90 L1154.24 487.74 L1154.51 491.45 L1154.69 447.41 L1154.78 492.79 L1155.05 486.62 L1155.14 505.13 L1155.50 474.93 L1155.59 493.14 L1155.86 492.00 L1155.95 474.16 L1156.04 485.47 L1156.31 480.67 L1156.40 478.76 L1156.49 494.01 L1156.76 490.42 L1157.03 466.84 L1157.21 485.66 L1157.39 498.28 L1157.57 479.49 L1157.75 488.04 L1158.02 523.95 L1158.11 472.89 L1158.29 491.26 L1158.47 483.05 L1158.56 499.01 L1158.65 482.39 L1159.01 476.45 L1159.10 492.54 L1159.37 501.99 L1159.46 468.64 L1159.64 493.33 L1159.73 479.09 L1160.18 479.83 L1160.27 492.89 L1160.45 495.01 L1160.63 482.46 L1160.81 484.18 L1160.90 491.26 L1161.26 477.29 L1161.35 484.32 L1161.62 486.29 L1161.71 492.66 L1161.98 483.65 L1162.07 495.20 L1162.25 478.94 L1162.43 514.05 L1162.52 478.51 L1162.79 488.97 L1163.06 451.71 L1163.15 481.48 L1163.24 487.93 L1163.51 498.00 L1163.78 484.55 L1163.87 494.76 L1164.05 480.40 L1164.14 522.15 L1164.32 478.09 L1164.59 513.47 L1164.86 482.04 L1164.95 494.50 L1165.13 501.16 L1165.31 467.31 L1165.40 481.90 L1165.67 496.88 L1165.94 471.90 L1166.03 530.03 L1166.21 485.89 L1166.39 497.33 L1166.57 475.27 L1166.75 491.62 L1166.84 476.10 L1167.11 495.76 L1167.20 497.85 L1167.29 483.54 L1167.56 505.96 L1167.74 485.92 L1167.92 493.55 L1168.19 478.92 L1168.37 539.45 L1168.55 485.00 L1168.64 474.11 L1168.82 505.95 L1169.18 488.24 L1169.27 473.05 L1169.54 490.52 L1169.64 465.70 L1169.82 466.84 L1170.00 545.97 L1170.27 474.83 L1170.36 538.03 L1170.54 496.53 L1170.63 478.87 L1170.90 477.27 L1171.08 535.32 L1171.26 543.90 L1171.35 480.64 L1171.53 489.75 L1171.62 550.85 L1171.89 482.74 L1171.98 510.22 L1172.25 496.84 L1172.34 458.01 L1172.61 486.43 L1172.70 477.46 L1173.06 487.47 L1173.15 494.64 L1173.42 485.15 L1173.60 498.50 L1173.69 484.45 L1173.96 495.46 L1174.05 550.29 L1174.23 482.23 L1174.41 537.21 L1174.68 453.94 L1174.77 537.12 L1174.86 474.31 L1175.13 489.21 L1175.31 461.94 L1175.58 488.95 L1175.67 481.40 L1175.85 481.71 L1176.03 490.61 L1176.30 476.38 L1176.39 547.45 L1176.57 485.08 L1176.75 498.95 L1176.93 479.02 L1177.20 534.66 L1177.29 481.55 L1177.56 531.47 L1177.83 479.15 L1177.92 535.27 L1178.10 487.16 L1178.19 541.81 L1178.46 495.37 L1178.55 489.76 L1178.73 481.46 L1179.00 506.27 L1179.18 475.72 L1179.27 496.85 L1179.54 481.65 L1179.72 488.97 L1179.99 471.29 L1180.08 497.17 L1180.17 491.76 L1180.44 480.90 L1180.53 486.38 L1180.62 493.28 L1181.07 498.95 L1181.16 447.61 L1181.34 495.46 L1181.43 477.94 L1181.61 489.61 L1181.70 484.26 L1182.15 517.94 L1182.24 484.34 L1182.33 490.13 L1182.51 480.58 L1182.69 480.72 L1182.78 489.17 L1183.05 491.74 L1183.32 475.47 L1183.50 476.19 L1183.68 490.87 L1183.77 493.48 L1184.04 487.14 L1184.13 479.25 L1184.40 496.47 L1184.49 484.12 L1184.58 529.94 L1184.85 534.98 L1185.12 466.93 L1185.21 484.20 L1185.48 500.03 L1185.57 477.45 L1185.66 555.98 L1186.02 491.44 L1186.20 481.48 L1186.29 485.73 L1186.47 526.50 L1186.56 571.68 L1186.83 481.67 L1186.92 565.86 L1187.10 492.95 L1187.19 484.51 L1187.46 468.03 L1187.64 498.88 L1187.82 491.19 L1187.91 482.56 L1188.09 485.87 L1188.18 553.27 L1188.45 481.99 L1188.54 557.03 L1188.90 477.07 L1189.08 535.20 L1189.35 483.99 L1189.44 496.52 L1189.53 534.63 L1189.62 481.33 L1189.98 477.95 L1190.07 491.06 L1190.43 483.77 L1190.52 519.84 L1190.70 481.79 L1190.79 488.38 L1191.06 539.18 L1191.24 484.54 L1191.42 539.99 L1191.60 481.11 L1191.69 478.38 L1191.96 490.94 L1192.23 527.87 L1192.32 484.00 L1192.41 471.24 L1192.68 488.66 L1192.86 487.30 L1193.04 497.10 L1193.13 486.58 L1193.22 530.02 L1193.58 527.21 L1193.76 479.93 L1193.94 519.67 L1194.03 487.40 L1194.21 479.17 L1194.48 491.26 L1194.75 476.00 L1194.84 493.38 L1195.02 492.74 L1195.20 476.83 L1195.29 486.99 L1195.47 503.45 L1195.83 500.86 L1195.92 486.23 L1196.19 488.47 L1196.28 493.88 L1196.37 489.01 L1196.55 497.78 L1196.73 490.47 L1196.82 486.04 L1197.18 487.71 L1197.36 493.99 L1197.54 490.63 L1197.63 486.75 L1197.90 499.20 L1198.00 477.86 L1198.18 504.33 L1198.45 488.02 L1198.63 482.59 L1198.81 498.11 L1198.90 497.09 L1198.99 488.67 L1199.26 495.57 L1199.53 476.48 L1199.71 480.66 L1199.89 510.41 L1199.98 506.58 L1200.16 485.85 L1200.34 493.74 L1200.52 487.39 L1200.88 494.73 L1200.97 486.90 L1201.15 520.37 L1201.33 480.76 L1201.42 475.72 L1201.51 518.07 L1201.78 496.35 L1201.96 481.77 L1202.32 484.09 L1202.41 502.41 L1202.59 494.44 L1202.68 491.01 L1202.95 500.22 L1203.04 485.05 L1203.22 475.56 L1203.31 536.02 L1203.58 480.43 L1203.76 529.61 L1204.03 486.40 L1204.12 518.72 L1204.30 497.35 L1204.48 480.89 L1204.75 497.70 L1204.84 486.61 L1205.02 485.60 L1205.11 514.38 L1205.47 477.26 L1205.56 513.64 L1205.83 501.48 L1206.01 489.81 L1206.10 492.63 L1206.19 504.45 L1206.55 502.63 L1206.73 475.03 L1206.91 487.06 L1207.00 507.88 L1207.27 507.26 L1207.45 493.21 L1207.54 488.14 L1207.81 497.83 L1207.90 481.55 L1207.99 504.19 L1208.26 471.81 L1208.53 506.27 L1208.71 489.78 L1208.89 510.68 L1209.07 501.52 L1209.25 476.93 L1209.52 468.69 L1209.61 506.76 L1209.70 492.62 L1209.97 528.67 L1210.06 482.36 L1210.24 528.96 L1210.51 468.23 L1210.69 527.71 L1210.78 480.44 L1210.96 499.17 L1211.14 471.88 L1211.23 504.50 L1211.50 494.93 L1211.77 501.52 L1211.86 494.84 L1212.13 477.77 L1212.22 467.30 L1212.31 500.57 L1212.58 509.00 L1212.76 473.47 L1212.94 516.87 L1213.03 478.11 L1213.30 469.48 L1213.39 560.79 L1213.75 510.26 L1213.84 486.62 L1214.02 506.63 L1214.11 476.60 L1214.38 545.43 L1214.56 474.38 L1214.83 506.71 L1214.92 474.36 L1215.28 506.34 L1215.36 591.85 L1215.37 481.08 L1215.55 482.87 L1215.73 505.87 L1215.82 493.13 L1215.91 486.24 L1216.36 476.65 L1216.45 558.42 L1216.54 466.37 L1216.63 494.93 L1216.90 497.11 L1216.99 476.80 L1217.26 502.84 L1217.44 462.79 L1217.62 490.37 L1217.89 539.55 L1218.07 495.33 L1218.16 561.84 L1218.43 517.05 L1218.61 498.76 L1218.70 498.12 L1218.97 463.83 L1219.06 504.16 L1219.24 474.15 L1219.42 528.89 L1219.51 463.23 L1219.78 475.95 L1219.87 512.40 L1220.32 504.16 L1220.41 464.47 L1220.59 474.68 L1220.68 499.38 L1220.86 504.70 L1221.13 468.87 L1221.40 472.04 L1221.49 492.04 L1221.58 502.01 L1221.85 484.71 L1222.03 464.55 L1222.12 542.17 L1222.39 475.94 L1222.48 490.68 L1222.66 483.98 L1222.75 505.55 L1223.02 485.17 L1223.11 506.75 L1223.47 474.51 L1223.65 502.20 L1223.74 489.72 L1224.01 494.36 L1224.10 492.49 L1224.19 488.19 L1224.55 472.31 L1224.64 512.56 L1224.91 499.65 L1225.00 474.69 L1225.18 496.09 L1225.45 475.10 L1225.63 477.16 L1225.81 504.76 L1225.90 510.77 L1226.17 488.92 L1226.45 503.47 L1226.54 491.05 L1226.81 498.23 L1226.90 480.40 L1227.08 509.85 L1227.26 488.48 L1227.35 531.05 L1227.44 484.06 L1227.71 501.40 L1227.89 478.90 L1228.07 481.72 L1228.34 494.54 L1228.52 476.51 L1228.70 487.25 L1228.79 494.60 L1229.06 469.06 L1229.15 466.22 L1229.33 496.66 L1229.60 466.68 L1229.78 501.04 L1229.87 481.52 L1229.96 538.25 L1230.41 503.58 L1230.50 471.34 L1230.59 499.86 L1230.86 470.45 L1231.13 553.65 L1231.22 482.10 L1231.31 482.34 L1231.40 549.20 L1231.76 502.20 L1231.94 533.38 L1232.03 497.08 L1232.12 467.79 L1232.57 502.06 L1232.66 468.39 L1232.75 479.33 L1232.84 512.11 L1233.20 492.40 L1233.29 475.90 L1233.36 573.84 L1233.47 468.52 L1233.65 552.98 L1233.83 557.25 L1234.10 499.05 L1234.37 472.91 L1234.46 496.45 L1234.55 476.75 L1234.73 551.51 L1234.91 479.61 L1235.18 493.84 L1235.27 507.64 L1235.45 484.99 L1235.81 533.73 L1235.90 475.67 L1235.99 480.87 L1236.26 502.40 L1236.35 525.50 L1236.53 496.32 L1236.80 487.91 L1236.89 510.07 L1237.16 468.68 L1237.25 499.79 L1237.43 488.88 L1237.52 524.79 L1237.79 470.04 L1237.97 525.32 L1238.33 484.13 L1238.42 528.73 L1238.51 483.11 L1238.69 512.00 L1238.96 489.92 L1239.05 532.39 L1239.23 471.39 L1239.50 496.81 L1239.77 491.97 L1239.86 477.99 L1240.13 495.39 L1240.22 556.17 L1240.31 470.83 L1240.40 533.55 L1240.67 495.87 L1240.94 551.19 L1241.03 511.86 L1241.30 563.43 L1241.48 567.45 L1241.57 477.61 L1241.93 494.11 L1242.00 581.05 L1242.02 561.67 L1242.29 493.29 L1242.38 547.32 L1242.47 480.24 L1242.74 511.66 L1242.92 570.72 L1243.01 496.40 L1243.28 512.63 L1243.46 476.64 L1243.73 554.47 L1243.82 494.21 L1243.91 476.64 L1244.09 515.07 L1244.36 512.49 L1244.63 476.64 
" clip-path="url(#p9bf0d953a0)" style="fill: none; stroke: #ff0000; stroke-width: 1.584; stroke-linecap: square"/>
</g>
<g id="patch_103">
<path d="M 886.4 591.99 L886.4 343.86 
" style="fill: none; stroke: #000000; stroke-width: 1.44; stroke-linejoin: miter; stroke-linecap: square"/>
</g>
<g id="patch_104">
<path d="M 1296 591.99 L1296 343.86 
" style="fill: none; stroke: #ff0000; stroke-width: 1.44; stroke-linejoin: miter; stroke-linecap: square"/>
</g>
<g id="patch_105">
<path d="M 886.4 591.99 L1296 591.99 
" style="fill: none; stroke: #000000; stroke-width: 1.44; stroke-linejoin: miter; stroke-linecap: square"/>
</g>
<g id="patch_106">
<path d="M 886.4 343.86 L1296 343.86 
" style="fill: none; stroke: #000000; stroke-width: 1.44; stroke-linejoin: miter; stroke-linecap: square"/>
</g>
</g>
<g id="axes_8">
<g id="patch_107">
<path d="M 886.4 732.6 L1296 732.6 L1296 608.53 L886.4 608.53 z" style="fill: #ffffff"/>
</g>
<g id="matplotlib.axis_13">
<g id="xtick_41">
<g id="line2d_187">
<g>
<use href="#m9c9ca732cf" x="914.027" y="732.6" style="stroke: #000000; stroke-width: 0.72"/>
</g>
</g>
<g id="text_68">
<text x="905.109" y="747" style="font-size: 15.192px" textLength="17.539" lengthAdjust="spacingAndGlyphs">21</text>
</g>
</g>
<g id="xtick_42">
<g id="line2d_188">
<g>
<use href="#m9c9ca732cf" x="965.227" y="732.6" style="stroke: #000000; stroke-width: 0.72"/>
</g>
</g>
<g id="text_69">
<text x="956.313" y="747" style="font-size: 15.192px" textLength="17.441" lengthAdjust="spacingAndGlyphs">22</text>
</g>
</g>
<g id="xtick_43">
<g id="line2d_189">
<g>
<use href="#m9c9ca732cf" x="1016.427" y="732.6" style="stroke: #000000; stroke-width: 0.72"/>
</g>
</g>
<g id="text_70">
<text x="1007.504" y="747" style="font-size: 15.192px" textLength="17.647" lengthAdjust="spacingAndGlyphs">23</text>
</g>
</g>
<g id="xtick_44">
<g id="line2d_190">
<g>
<use href="#m9c9ca732cf" x="1067.627" y="732.6" style="stroke: #000000; stroke-width: 0.72"/>
</g>
</g>
<g id="text_71">
<text x="1058.748" y="747" style="font-size: 15.192px" textLength="17.671" lengthAdjust="spacingAndGlyphs">24</text>
</g>
</g>
<g id="xtick_45">
<g id="line2d_191">
<g>
<use href="#m9c9ca732cf" x="1118.827" y="732.6" style="stroke: #000000; stroke-width: 0.72"/>
</g>
</g>
<g id="text_72">
<text x="1109.911" y="747" style="font-size: 15.192px" textLength="17.499" lengthAdjust="spacingAndGlyphs">25</text>
</g>
</g>
<g id="xtick_46">
<g id="line2d_192">
<g>
<use href="#m9c9ca732cf" x="1170.027" y="732.6" style="stroke: #000000; stroke-width: 0.72"/>
</g>
</g>
<g id="text_73">
<text x="1161.092" y="747" style="font-size: 15.192px" textLength="17.916" lengthAdjust="spacingAndGlyphs">26</text>
</g>
</g>
<g id="xtick_47">
<g id="line2d_193">
<g>
<use href="#m9c9ca732cf" x="1221.227" y="732.6" style="stroke: #000000; stroke-width: 0.72"/>
</g>
</g>
<g id="text_74">
<text x="1212.303" y="747" style="font-size: 15.192px" textLength="17.673" lengthAdjust="spacingAndGlyphs">27</text>
</g>
</g>
<g id="xtick_48">
<g id="line2d_194">
<g>
<use href="#m9c9ca732cf" x="1272.427" y="732.6" style="stroke: #000000; stroke-width: 0.72"/>
</g>
</g>
<g id="text_75">
<text x="1263.496" y="747" style="font-size: 15.192px" textLength="17.823" lengthAdjust="spacingAndGlyphs">28</text>
</g>
</g>
<g id="text_76">
<text x="0.113" y="0" style="font-size: 18.230px" textLength="97.568" lengthAdjust="spacingAndGlyphs" transform="translate(1039.45 767.56)">March/April</text>
<text x="0.308" y="0" style="font-size: 18.230px" textLength="85.697" lengthAdjust="spacingAndGlyphs" transform="translate(1048.045 787.576)">2025 (UT)</text>
</g>
</g>
<g id="matplotlib.axis_14">
<g id="ytick_98">
<g id="line2d_195">
<g>
<use href="#mde43f6efa1" x="886.4" y="732.6" style="stroke: #000000; stroke-width: 0.72"/>
</g>
</g>
<g id="line2d_196">
<g>
<use href="#m3049f5aebb" x="1296" y="732.6" style="stroke: #000000; stroke-width: 0.72"/>
</g>
</g>
<g id="text_77">
<g transform="translate(848.962025 739.044)">
<text x="-0.098" y="-0.498" style="font-size:15.192px" textLength="9.162" lengthAdjust="spacingAndGlyphs">1</text>
<text x="9.142" y="-0.498" style="font-size:15.192px" textLength="9.162" lengthAdjust="spacingAndGlyphs">0</text>
<text x="18.919" y="-5.857" style="font-size:10.634px" textLength="7.452" lengthAdjust="spacingAndGlyphs">−</text>
<text x="26.787" y="-5.857" style="font-size:10.634px" textLength="6.413" lengthAdjust="spacingAndGlyphs">1</text>
</g>
</g>
</g>
<g id="ytick_99">
<g id="line2d_197">
<g>
<use href="#mde43f6efa1" x="886.4" y="701.584" style="stroke: #000000; stroke-width: 0.72"/>
</g>
</g>
<g id="line2d_198">
<g>
<use href="#m3049f5aebb" x="1296" y="701.584" style="stroke: #000000; stroke-width: 0.72"/>
</g>
</g>
<g id="text_78">
<g transform="translate(857.227962 708.028177)">
<text x="-0.098" y="-0.367" style="font-size:15.192px" textLength="9.162" lengthAdjust="spacingAndGlyphs">1</text>
<text x="9.142" y="-0.367" style="font-size:15.192px" textLength="9.162" lengthAdjust="spacingAndGlyphs">0</text>
<text x="18.423" y="-5.726" style="font-size:10.634px" textLength="6.413" lengthAdjust="spacingAndGlyphs">0</text>
</g>
</g>
</g>
<g id="ytick_100">
<g id="line2d_199">
<g>
<use href="#mde43f6efa1" x="886.4" y="670.568" style="stroke: #000000; stroke-width: 0.72"/>
</g>
</g>
<g id="line2d_200">
<g>
<use href="#m3049f5aebb" x="1296" y="670.568" style="stroke: #000000; stroke-width: 0.72"/>
</g>
</g>
<g id="text_79">
<g transform="translate(857.407962 677.012354)">
<text x="-0.098" y="-0.498" style="font-size:15.192px" textLength="9.162" lengthAdjust="spacingAndGlyphs">1</text>
<text x="9.142" y="-0.498" style="font-size:15.192px" textLength="9.162" lengthAdjust="spacingAndGlyphs">0</text>
<text x="18.356" y="-5.857" style="font-size:10.634px" textLength="6.413" lengthAdjust="spacingAndGlyphs">1</text>
</g>
</g>
</g>
<g id="ytick_101">
<g id="line2d_201">
<g>
<use href="#mde43f6efa1" x="886.4" y="639.552" style="stroke: #000000; stroke-width: 0.72"/>
</g>
</g>
<g id="line2d_202">
<g>
<use href="#m3049f5aebb" x="1296" y="639.552" style="stroke: #000000; stroke-width: 0.72"/>
</g>
</g>
<g id="text_80">
<g transform="translate(857.497962 645.996532)">
<text x="-0.098" y="-0.367" style="font-size:15.192px" textLength="9.162" lengthAdjust="spacingAndGlyphs">1</text>
<text x="9.142" y="-0.367" style="font-size:15.192px" textLength="9.162" lengthAdjust="spacingAndGlyphs">0</text>
<text x="18.290" y="-5.726" style="font-size:10.634px" textLength="6.413" lengthAdjust="spacingAndGlyphs">2</text>
</g>
</g>
</g>
<g id="ytick_102">
<g id="line2d_203">
<g>
<use href="#mde43f6efa1" x="886.4" y="608.536" style="stroke: #000000; stroke-width: 0.72"/>
</g>
</g>
<g id="line2d_204">
<g>
<use href="#m3049f5aebb" x="1296" y="608.536" style="stroke: #000000; stroke-width: 0.72"/>
</g>
</g>
<g id="text_81">
<g transform="translate(857.351712 614.980709)">
<text x="-0.098" y="-0.367" style="font-size:15.192px" textLength="9.162" lengthAdjust="spacingAndGlyphs">1</text>
<text x="9.142" y="-0.367" style="font-size:15.192px" textLength="9.162" lengthAdjust="spacingAndGlyphs">0</text>
<text x="18.439" y="-5.726" style="font-size:10.634px" textLength="6.413" lengthAdjust="spacingAndGlyphs">3</text>
</g>
</g>
</g>
<g id="ytick_103">
<g id="line2d_205">
<g>
<use href="#m429402f32f" x="886.4" y="723.263" style="stroke: #000000; stroke-width: 0.72"/>
</g>
</g>
<g id="line2d_206">
<g>
<use href="#md379d79c6c" x="1296" y="723.263" style="stroke: #000000; stroke-width: 0.72"/>
</g>
</g>
</g>
<g id="ytick_104">
<g id="line2d_207">
<g>
<use href="#m429402f32f" x="886.4" y="717.801" style="stroke: #000000; stroke-width: 0.72"/>
</g>
</g>
<g id="line2d_208">
<g>
<use href="#md379d79c6c" x="1296" y="717.801" style="stroke: #000000; stroke-width: 0.72"/>
</g>
</g>
</g>
<g id="ytick_105">
<g id="line2d_209">
<g>
<use href="#m429402f32f" x="886.4" y="713.926" style="stroke: #000000; stroke-width: 0.72"/>
</g>
</g>
<g id="line2d_210">
<g>
<use href="#md379d79c6c" x="1296" y="713.926" style="stroke: #000000; stroke-width: 0.72"/>
</g>
</g>
</g>
<g id="ytick_106">
<g id="line2d_211">
<g>
<use href="#m429402f32f" x="886.4" y="710.920" style="stroke: #000000; stroke-width: 0.72"/>
</g>
</g>
<g id="line2d_212">
<g>
<use href="#md379d79c6c" x="1296" y="710.920" style="stroke: #000000; stroke-width: 0.72"/>
</g>
</g>
</g>
<g id="ytick_107">
<g id="line2d_213">
<g>
<use href="#m429402f32f" x="886.4" y="708.464" style="stroke: #000000; stroke-width: 0.72"/>
</g>
</g>
<g id="line2d_214">
<g>
<use href="#md379d79c6c" x="1296" y="708.464" style="stroke: #000000; stroke-width: 0.72"/>
</g>
</g>
</g>
<g id="ytick_108">
<g id="line2d_215">
<g>
<use href="#m429402f32f" x="886.4" y="706.388" style="stroke: #000000; stroke-width: 0.72"/>
</g>
</g>
<g id="line2d_216">
<g>
<use href="#md379d79c6c" x="1296" y="706.388" style="stroke: #000000; stroke-width: 0.72"/>
</g>
</g>
</g>
<g id="ytick_109">
<g id="line2d_217">
<g>
<use href="#m429402f32f" x="886.4" y="704.589" style="stroke: #000000; stroke-width: 0.72"/>
</g>
</g>
<g id="line2d_218">
<g>
<use href="#md379d79c6c" x="1296" y="704.589" style="stroke: #000000; stroke-width: 0.72"/>
</g>
</g>
</g>
<g id="ytick_110">
<g id="line2d_219">
<g>
<use href="#m429402f32f" x="886.4" y="703.003" style="stroke: #000000; stroke-width: 0.72"/>
</g>
</g>
<g id="line2d_220">
<g>
<use href="#md379d79c6c" x="1296" y="703.003" style="stroke: #000000; stroke-width: 0.72"/>
</g>
</g>
</g>
<g id="ytick_111">
<g id="line2d_221">
<g>
<use href="#m429402f32f" x="886.4" y="692.247" style="stroke: #000000; stroke-width: 0.72"/>
</g>
</g>
<g id="line2d_222">
<g>
<use href="#md379d79c6c" x="1296" y="692.247" style="stroke: #000000; stroke-width: 0.72"/>
</g>
</g>
</g>
<g id="ytick_112">
<g id="line2d_223">
<g>
<use href="#m429402f32f" x="886.4" y="686.785" style="stroke: #000000; stroke-width: 0.72"/>
</g>
</g>
<g id="line2d_224">
<g>
<use href="#md379d79c6c" x="1296" y="686.785" style="stroke: #000000; stroke-width: 0.72"/>
</g>
</g>
</g>
<g id="ytick_113">
<g id="line2d_225">
<g>
<use href="#m429402f32f" x="886.4" y="682.910" style="stroke: #000000; stroke-width: 0.72"/>
</g>
</g>
<g id="line2d_226">
<g>
<use href="#md379d79c6c" x="1296" y="682.910" style="stroke: #000000; stroke-width: 0.72"/>
</g>
</g>
</g>
<g id="ytick_114">
<g id="line2d_227">
<g>
<use href="#m429402f32f" x="886.4" y="679.905" style="stroke: #000000; stroke-width: 0.72"/>
</g>
</g>
<g id="line2d_228">
<g>
<use href="#md379d79c6c" x="1296" y="679.905" style="stroke: #000000; stroke-width: 0.72"/>
</g>
</g>
</g>
<g id="ytick_115">
<g id="line2d_229">
<g>
<use href="#m429402f32f" x="886.4" y="677.449" style="stroke: #000000; stroke-width: 0.72"/>
</g>
</g>
<g id="line2d_230">
<g>
<use href="#md379d79c6c" x="1296" y="677.449" style="stroke: #000000; stroke-width: 0.72"/>
</g>
</g>
</g>
<g id="ytick_116">
<g id="line2d_231">
<g>
<use href="#m429402f32f" x="886.4" y="675.372" style="stroke: #000000; stroke-width: 0.72"/>
</g>
</g>
<g id="line2d_232">
<g>
<use href="#md379d79c6c" x="1296" y="675.372" style="stroke: #000000; stroke-width: 0.72"/>
</g>
</g>
</g>
<g id="ytick_117">
<g id="line2d_233">
<g>
<use href="#m429402f32f" x="886.4" y="673.574" style="stroke: #000000; stroke-width: 0.72"/>
</g>
</g>
<g id="line2d_234">
<g>
<use href="#md379d79c6c" x="1296" y="673.574" style="stroke: #000000; stroke-width: 0.72"/>
</g>
</g>
</g>
<g id="ytick_118">
<g id="line2d_235">
<g>
<use href="#m429402f32f" x="886.4" y="671.987" style="stroke: #000000; stroke-width: 0.72"/>
</g>
</g>
<g id="line2d_236">
<g>
<use href="#md379d79c6c" x="1296" y="671.987" style="stroke: #000000; stroke-width: 0.72"/>
</g>
</g>
</g>
<g id="ytick_119">
<g id="line2d_237">
<g>
<use href="#m429402f32f" x="886.4" y="661.231" style="stroke: #000000; stroke-width: 0.72"/>
</g>
</g>
<g id="line2d_238">
<g>
<use href="#md379d79c6c" x="1296" y="661.231" style="stroke: #000000; stroke-width: 0.72"/>
</g>
</g>
</g>
<g id="ytick_120">
<g id="line2d_239">
<g>
<use href="#m429402f32f" x="886.4" y="655.770" style="stroke: #000000; stroke-width: 0.72"/>
</g>
</g>
<g id="line2d_240">
<g>
<use href="#md379d79c6c" x="1296" y="655.770" style="stroke: #000000; stroke-width: 0.72"/>
</g>
</g>
</g>
<g id="ytick_121">
<g id="line2d_241">
<g>
<use href="#m429402f32f" x="886.4" y="651.894" style="stroke: #000000; stroke-width: 0.72"/>
</g>
</g>
<g id="line2d_242">
<g>
<use href="#md379d79c6c" x="1296" y="651.894" style="stroke: #000000; stroke-width: 0.72"/>
</g>
</g>
</g>
<g id="ytick_122">
<g id="line2d_243">
<g>
<use href="#m429402f32f" x="886.4" y="648.889" style="stroke: #000000; stroke-width: 0.72"/>
</g>
</g>
<g id="line2d_244">
<g>
<use href="#md379d79c6c" x="1296" y="648.889" style="stroke: #000000; stroke-width: 0.72"/>
</g>
</g>
</g>
<g id="ytick_123">
<g id="line2d_245">
<g>
<use href="#m429402f32f" x="886.4" y="646.433" style="stroke: #000000; stroke-width: 0.72"/>
</g>
</g>
<g id="line2d_246">
<g>
<use href="#md379d79c6c" x="1296" y="646.433" style="stroke: #000000; stroke-width: 0.72"/>
</g>
</g>
</g>
<g id="ytick_124">
<g id="line2d_247">
<g>
<use href="#m429402f32f" x="886.4" y="644.356" style="stroke: #000000; stroke-width: 0.72"/>
</g>
</g>
<g id="line2d_248">
<g>
<use href="#md379d79c6c" x="1296" y="644.356" style="stroke: #000000; stroke-width: 0.72"/>
</g>
</g>
</g>
<g id="ytick_125">
<g id="line2d_249">
<g>
<use href="#m429402f32f" x="886.4" y="642.558" style="stroke: #000000; stroke-width: 0.72"/>
</g>
</g>
<g id="line2d_250">
<g>
<use href="#md379d79c6c" x="1296" y="642.558" style="stroke: #000000; stroke-width: 0.72"/>
</g>
</g>
</g>
<g id="ytick_126">
<g id="line2d_251">
<g>
<use href="#m429402f32f" x="886.4" y="640.971" style="stroke: #000000; stroke-width: 0.72"/>
</g>
</g>
<g id="line2d_252">
<g>
<use href="#md379d79c6c" x="1296" y="640.971" style="stroke: #000000; stroke-width: 0.72"/>
</g>
</g>
</g>
<g id="ytick_127">
<g id="line2d_253">
<g>
<use href="#m429402f32f" x="886.4" y="630.215" style="stroke: #000000; stroke-width: 0.72"/>
</g>
</g>
<g id="line2d_254">
<g>
<use href="#md379d79c6c" x="1296" y="630.215" style="stroke: #000000; stroke-width: 0.72"/>
</g>
</g>
</g>
<g id="ytick_128">
<g id="line2d_255">
<g>
<use href="#m429402f32f" x="886.4" y="624.754" style="stroke: #000000; stroke-width: 0.72"/>
</g>
</g>
<g id="line2d_256">
<g>
<use href="#md379d79c6c" x="1296" y="624.754" style="stroke: #000000; stroke-width: 0.72"/>
</g>
</g>
</g>
<g id="ytick_129">
<g id="line2d_257">
<g>
<use href="#m429402f32f" x="886.4" y="620.879" style="stroke: #000000; stroke-width: 0.72"/>
</g>
</g>
<g id="line2d_258">
<g>
<use href="#md379d79c6c" x="1296" y="620.879" style="stroke: #000000; stroke-width: 0.72"/>
</g>
</g>
</g>
<g id="ytick_130">
<g id="line2d_259">
<g>
<use href="#m429402f32f" x="886.4" y="617.873" style="stroke: #000000; stroke-width: 0.72"/>
</g>
</g>
<g id="line2d_260">
<g>
<use href="#md379d79c6c" x="1296" y="617.873" style="stroke: #000000; stroke-width: 0.72"/>
</g>
</g>
</g>
<g id="ytick_131">
<g id="line2d_261">
<g>
<use href="#m429402f32f" x="886.4" y="615.417" style="stroke: #000000; stroke-width: 0.72"/>
</g>
</g>
<g id="line2d_262">
<g>
<use href="#md379d79c6c" x="1296" y="615.417" style="stroke: #000000; stroke-width: 0.72"/>
</g>
</g>
</g>
<g id="ytick_132">
<g id="line2d_263">
<g>
<use href="#m429402f32f" x="886.4" y="613.341" style="stroke: #000000; stroke-width: 0.72"/>
</g>
</g>
<g id="line2d_264">
<g>
<use href="#md379d79c6c" x="1296" y="613.341" style="stroke: #000000; stroke-width: 0.72"/>
</g>
</g>
</g>
<g id="ytick_133">
<g id="line2d_265">
<g>
<use href="#m429402f32f" x="886.4" y="611.542" style="stroke: #000000; stroke-width: 0.72"/>
</g>
</g>
<g id="line2d_266">
<g>
<use href="#md379d79c6c" x="1296" y="611.542" style="stroke: #000000; stroke-width: 0.72"/>
</g>
</g>
</g>
<g id="ytick_134">
<g id="line2d_267">
<g>
<use href="#m429402f32f" x="886.4" y="609.955" style="stroke: #000000; stroke-width: 0.72"/>
</g>
</g>
<g id="line2d_268">
<g>
<use href="#md379d79c6c" x="1296" y="609.955" style="stroke: #000000; stroke-width: 0.72"/>
</g>
</g>
</g>
<g id="text_82">
<text x="0.883" y="0" style="font-size: 18.230px" textLength="180.917" lengthAdjust="spacingAndGlyphs" transform="translate(816.118825 761.648354) rotate(-90)">&gt;10 MeV Proton Flux</text>
<g transform="translate(840.714025 733.999932) rotate(-90)">
<text x="-0.517" y="-0.654" style="font-size:18.230px" textLength="6.742" lengthAdjust="spacingAndGlyphs">(</text>
<text x="12.000" y="-0.654" style="font-size:18.230px" textLength="9.501" lengthAdjust="spacingAndGlyphs">c</text>
<text x="21.742" y="-0.654" style="font-size:18.230px" textLength="16.833" lengthAdjust="spacingAndGlyphs">m</text>
<text x="38.501" y="-7.162" style="font-size:12.761px" textLength="7.696" lengthAdjust="spacingAndGlyphs">2</text>
<text x="49.732" y="-0.654" style="font-size:18.230px" textLength="9.003" lengthAdjust="spacingAndGlyphs">s</text>
<text x="59.353" y="-7.162" style="font-size:12.761px" textLength="8.943" lengthAdjust="spacingAndGlyphs">−</text>
<text x="68.796" y="-7.162" style="font-size:12.761px" textLength="7.696" lengthAdjust="spacingAndGlyphs">1</text>
<text x="79.948" y="-0.654" style="font-size:18.230px" textLength="9.003" lengthAdjust="spacingAndGlyphs">s</text>
<text x="89.067" y="-0.654" style="font-size:18.230px" textLength="7.104" lengthAdjust="spacingAndGlyphs">r</text>
<text x="96.661" y="-7.162" style="font-size:12.761px" textLength="8.943" lengthAdjust="spacingAndGlyphs">−</text>
<text x="106.103" y="-7.162" style="font-size:12.761px" textLength="7.696" lengthAdjust="spacingAndGlyphs">1</text>
<text x="120.334" y="-0.654" style="font-size:18.230px" textLength="6.742" lengthAdjust="spacingAndGlyphs">)</text>
</g>
</g>
</g>
<g id="line2d_269">
<path d="M 886.4 670.56 L1296 670.56 
" clip-path="url(#pdc71171e32)" style="fill: none; stroke-dasharray: 1.44,2.376; stroke-dashoffset: 0; stroke: #000000; stroke-width: 1.44"/>
</g>
<g id="line2d_270">
<path d="M 1244.8 732.6 L1244.8 608.53 
" clip-path="url(#pdc71171e32)" style="fill: none; stroke-dasharray: 2.16,3.564; stroke-dashoffset: 0; stroke: #000000; stroke-width: 2.16"/>
</g>
<g id="patch_108">
<path d="M 886.4 732.6 L886.4 608.53 
" style="fill: none; stroke: #000000; stroke-width: 1.44; stroke-linejoin: miter; stroke-linecap: square"/>
</g>
<g id="patch_109">
<path d="M 1296 732.6 L1296 608.53 
" style="fill: none; stroke: #000000; stroke-width: 1.44; stroke-linejoin: miter; stroke-linecap: square"/>
</g>
<g id="patch_110">
<path d="M 886.4 732.6 L1296 732.6 
" style="fill: none; stroke: #000000; stroke-width: 1.44; stroke-linejoin: miter; stroke-linecap: square"/>
</g>
<g id="patch_111">
<path d="M 886.4 608.53 L1296 608.53 
" style="fill: none; stroke: #000000; stroke-width: 1.44; stroke-linejoin: miter; stroke-linecap: square"/>
</g>
</g>
<g id="text_83">
<text x="383.976" y="30.232" style="font-size: 18.230px" textLength="671.925" lengthAdjust="spacingAndGlyphs">BAS-RBM Relativistic Electron Forecast, issued at 23:03 UT, 27 February 2026</text>
</g>
</g>
<defs>
<clipPath id="pe8a7f7f181">
<rect x="144" y="608.536" width="614.4" height="124.063291"/>
</clipPath>
<clipPath id="p23485c00ad">
<rect x="886.4" y="79.2" width="409.6" height="248.126582"/>
</clipPath>
<clipPath id="p9bf0d953a0">
<rect x="886.4" y="343.868" width="409.6" height="248.126582"/>
</clipPath>
<clipPath id="pdc71171e32">
<rect x="886.4" y="608.536" width="409.6" height="124.063291"/>
</clipPath>
</defs>
</svg>
</body></html>
